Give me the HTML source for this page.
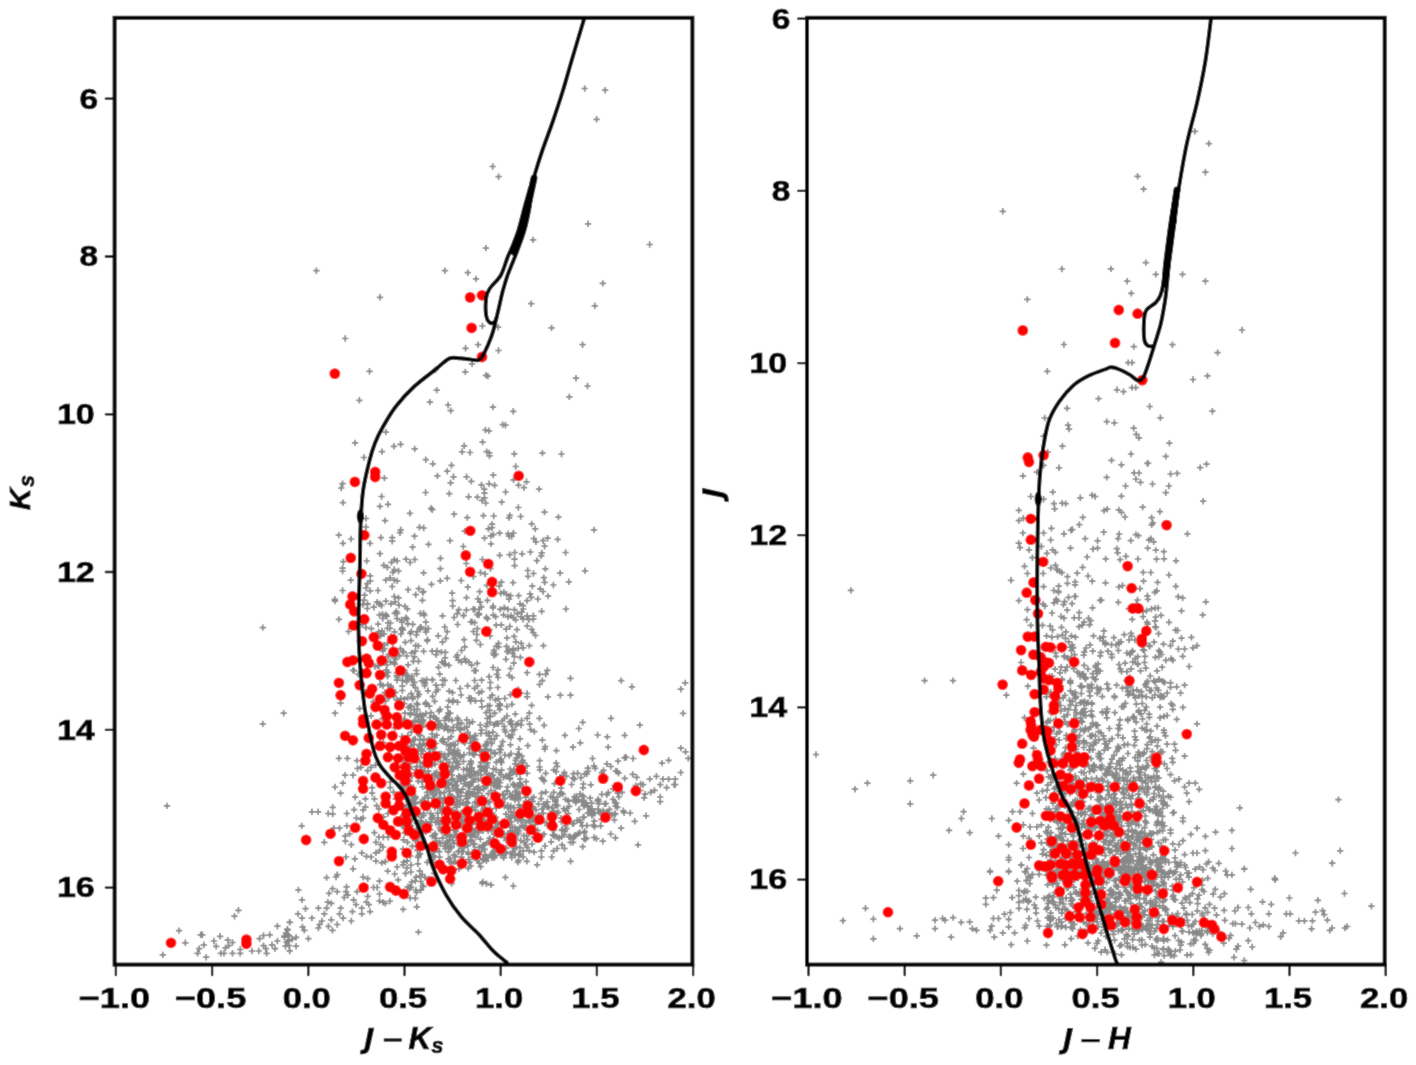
<!DOCTYPE html>
<html><head><meta charset="utf-8"><style>
html,body{margin:0;padding:0;background:#fff;}
svg{display:block;}
text{font-family:"Liberation Sans",sans-serif;font-weight:bold;font-size:29px;fill:#000;stroke:#000;stroke-width:0.7px;}
</style></head><body><div id="wrap">
<svg width="1416" height="1065" viewBox="0 0 1416 1065">
<defs><filter id="bl" x="0" y="0" width="1" height="1"><feConvolveMatrix order="3" kernelMatrix="1 2 1 2 20 2 1 2 1" divisor="32" edgeMode="duplicate"/></filter></defs>
<g filter="url(#bl)">
<rect width="1416" height="1065" fill="#fff"/>
<path d="M581.5 88.5h6.4M584.7 85.3v6.4M601.9 90.2h6.4M605.1 87.0v6.4M593.4 119.3h6.4M596.6 116.1v6.4M489.5 166.5h6.4M492.7 163.3v6.4M495.4 176.7h6.4M498.6 173.5v6.4M584.9 223.8h6.4M588.1 220.6v6.4M529.9 239.9h6.4M533.1 236.7v6.4M646.5 244.5h6.4M649.7 241.3v6.4M482.7 248.1h6.4M485.9 244.9v6.4M313.2 270.7h6.4M316.4 267.5v6.4M441.7 270.7h6.4M444.9 267.5v6.4M464.6 272.7h6.4M467.8 269.5v6.4M472.8 278.9h6.4M476.0 275.7v6.4M599.6 283.4h6.4M602.8 280.2v6.4M376.8 297.3h6.4M380.0 294.1v6.4M342.0 338.5h6.4M345.2 335.3v6.4M366.3 371.3h6.4M369.5 368.1v6.4M356.2 400.3h6.4M359.4 397.1v6.4M382.6 432.1h6.4M385.8 428.9v6.4M351.9 442.9h6.4M355.1 439.7v6.4M390.7 446.3h6.4M393.9 443.1v6.4M397.4 444.3h6.4M400.6 441.1v6.4M378.8 451.6h6.4M382.0 448.4v6.4M360.7 457.5h6.4M363.9 454.3v6.4M381.2 478.1h6.4M384.4 474.9v6.4M339.4 483.7h6.4M342.6 480.5v6.4M338.0 488.0h6.4M341.2 484.8v6.4M378.4 496.5h6.4M381.6 493.3v6.4M384.8 504.3h6.4M388.0 501.1v6.4M376.7 506.4h6.4M379.9 503.2v6.4M339.7 502.6h6.4M342.9 499.4v6.4M381.9 520.6h6.4M385.1 517.4v6.4M362.8 518.5h6.4M366.0 515.3v6.4M362.8 527.0h6.4M366.0 523.8v6.4M335.6 535.1h6.4M338.8 531.9v6.4M347.9 539.0h6.4M351.1 535.8v6.4M339.7 543.3h6.4M342.9 540.1v6.4M366.8 543.3h6.4M370.0 540.1v6.4M377.7 537.6h6.4M380.9 534.4v6.4M389.0 537.6h6.4M392.2 534.4v6.4M389.0 541.2h6.4M392.2 538.0v6.4M396.8 532.7h6.4M400.0 529.5v6.4M397.5 529.8h6.4M400.7 526.6v6.4M376.7 553.7h6.4M379.9 550.5v6.4M363.5 561.0h6.4M366.7 557.8v6.4M340.1 561.7h6.4M343.3 558.5v6.4M339.4 568.1h6.4M342.6 564.9v6.4M339.4 571.0h6.4M342.6 567.8v6.4M391.1 559.6h6.4M394.3 556.4v6.4M394.0 561.0h6.4M397.2 557.8v6.4M388.3 562.4h6.4M391.5 559.2v6.4M380.5 565.3h6.4M383.7 562.1v6.4M384.1 567.4h6.4M387.3 564.2v6.4M391.1 569.5h6.4M394.3 566.3v6.4M389.7 572.4h6.4M392.9 569.2v6.4M395.4 571.0h6.4M398.6 567.8v6.4M367.0 575.9h6.4M370.2 572.7v6.4M367.0 580.9h6.4M370.2 577.7v6.4M364.2 583.7h6.4M367.4 580.5v6.4M362.8 588.0h6.4M366.0 584.8v6.4M367.0 590.8h6.4M370.2 587.6v6.4M382.6 580.2h6.4M385.8 577.0v6.4M386.9 578.0h6.4M390.1 574.8v6.4M391.1 580.2h6.4M394.3 577.0v6.4M394.0 580.9h6.4M397.2 577.7v6.4M389.0 586.5h6.4M392.2 583.3v6.4M347.6 580.2h6.4M350.8 577.0v6.4M374.8 590.5h6.4M378.0 587.3v6.4M339.4 590.5h6.4M342.6 587.3v6.4M331.6 599.3h6.4M334.8 596.1v6.4M391.1 596.5h6.4M394.3 593.3v6.4M395.4 597.9h6.4M398.6 594.7v6.4M361.4 595.1h6.4M364.6 591.9v6.4M331.8 601.1h6.4M335.0 597.9v6.4M335.7 619.4h6.4M338.9 616.2v6.4M345.3 631.5h6.4M348.5 628.3v6.4M349.8 670.4h6.4M353.0 667.2v6.4M337.4 703.1h6.4M340.6 699.9v6.4M331.8 713.2h6.4M335.0 710.0v6.4M280.5 713.2h6.4M283.7 710.0v6.4M523.9 600.6h6.4M527.1 597.4v6.4M519.9 605.6h6.4M523.1 602.4v6.4M519.9 609.0h6.4M523.1 605.8v6.4M538.5 611.3h6.4M541.7 608.1v6.4M562.7 609.0h6.4M565.9 605.8v6.4M523.9 615.8h6.4M527.1 612.6v6.4M530.1 615.8h6.4M533.3 612.6v6.4M519.9 619.2h6.4M523.1 616.0v6.4M525.6 619.7h6.4M528.8 616.5v6.4M530.1 619.2h6.4M533.3 616.0v6.4M523.9 625.9h6.4M527.1 622.7v6.4M528.4 629.3h6.4M531.6 626.1v6.4M530.1 632.7h6.4M533.3 629.5v6.4M532.3 635.5h6.4M535.5 632.3v6.4M526.1 645.6h6.4M529.3 642.4v6.4M540.2 645.6h6.4M543.4 642.4v6.4M519.9 647.9h6.4M523.1 644.7v6.4M523.9 672.7h6.4M527.1 669.5v6.4M536.3 674.4h6.4M539.5 671.2v6.4M544.2 670.4h6.4M547.4 667.2v6.4M542.5 674.4h6.4M545.7 671.2v6.4M539.1 680.6h6.4M542.3 677.4v6.4M536.3 684.5h6.4M539.5 681.3v6.4M567.3 678.3h6.4M570.5 675.1v6.4M618.0 680.6h6.4M621.2 677.4v6.4M628.7 686.8h6.4M631.9 683.6v6.4M523.9 693.5h6.4M527.1 690.3v6.4M523.9 696.9h6.4M527.1 693.7v6.4M544.7 696.9h6.4M547.9 693.7v6.4M557.1 695.2h6.4M560.3 692.0v6.4M567.3 695.2h6.4M570.5 692.0v6.4M528.4 705.4h6.4M531.6 702.2v6.4M526.1 713.2h6.4M529.3 710.0v6.4M523.9 718.3h6.4M527.1 715.1v6.4M536.3 718.3h6.4M539.5 715.1v6.4M607.8 718.3h6.4M611.0 715.1v6.4M335.7 758.3h6.4M338.9 755.1v6.4M344.2 758.3h6.4M347.4 755.1v6.4M353.7 760.6h6.4M356.9 757.4v6.4M354.3 768.5h6.4M357.5 765.3v6.4M357.7 767.3h6.4M360.9 764.1v6.4M341.9 775.2h6.4M345.1 772.0v6.4M349.8 775.2h6.4M353.0 772.0v6.4M339.6 783.1h6.4M342.8 779.9v6.4M331.8 787.0h6.4M335.0 783.8v6.4M337.4 793.2h6.4M340.6 790.0v6.4M352.0 797.2h6.4M355.2 794.0v6.4M356.5 803.4h6.4M359.7 800.2v6.4M362.2 798.9h6.4M365.4 795.7v6.4M362.2 806.8h6.4M365.4 803.6v6.4M359.9 810.1h6.4M363.1 806.9v6.4M350.9 809.6h6.4M354.1 806.4v6.4M329.5 807.3h6.4M332.7 804.1v6.4M308.7 811.8h6.4M311.9 808.6v6.4M314.9 811.8h6.4M318.1 808.6v6.4M325.0 813.5h6.4M328.2 810.3v6.4M329.5 814.1h6.4M332.7 810.9v6.4M343.6 813.5h6.4M346.8 810.3v6.4M353.2 818.0h6.4M356.4 814.8v6.4M357.7 819.2h6.4M360.9 816.0v6.4M359.9 818.0h6.4M363.1 814.8v6.4M298.5 825.9h6.4M301.7 822.7v6.4M343.6 825.9h6.4M346.8 822.7v6.4M336.3 828.2h6.4M339.5 825.0v6.4M330.6 828.2h6.4M333.8 825.0v6.4M341.9 836.1h6.4M345.1 832.9v6.4M346.4 833.8h6.4M349.6 830.6v6.4M367.8 767.3h6.4M371.0 764.1v6.4M372.3 765.1h6.4M375.5 761.9v6.4M368.9 787.6h6.4M372.1 784.4v6.4M368.9 793.2h6.4M372.1 790.0v6.4M371.2 798.9h6.4M374.4 795.7v6.4M373.4 805.6h6.4M376.6 802.4v6.4M375.7 809.0h6.4M378.9 805.8v6.4M387.0 787.6h6.4M390.2 784.4v6.4M390.3 792.1h6.4M393.5 788.9v6.4M392.6 798.9h6.4M395.8 795.7v6.4M387.0 782.0h6.4M390.2 778.8v6.4M384.7 813.5h6.4M387.9 810.3v6.4M380.2 816.9h6.4M383.4 813.7v6.4M371.2 832.7h6.4M374.4 829.5v6.4M375.7 837.2h6.4M378.9 834.0v6.4M380.2 837.2h6.4M383.4 834.0v6.4M384.7 837.2h6.4M387.9 834.0v6.4M376.8 742.5h6.4M380.0 739.3v6.4M380.2 742.5h6.4M383.4 739.3v6.4M391.5 727.9h6.4M394.7 724.7v6.4M396.0 725.6h6.4M399.2 722.4v6.4M364.4 770.7h6.4M367.6 767.5v6.4M521.2 842.4h6.4M524.4 839.2v6.4M523.7 847.3h6.4M526.9 844.1v6.4M520.0 850.9h6.4M523.2 847.7v6.4M526.1 850.9h6.4M529.3 847.7v6.4M530.9 852.1h6.4M534.1 848.9v6.4M538.2 850.9h6.4M541.4 847.7v6.4M538.2 857.0h6.4M541.4 853.8v6.4M548.6 857.0h6.4M551.8 853.8v6.4M550.4 850.9h6.4M553.6 847.7v6.4M554.0 848.5h6.4M557.2 845.3v6.4M561.3 848.5h6.4M564.5 845.3v6.4M558.9 844.9h6.4M562.1 841.7v6.4M567.4 842.4h6.4M570.6 839.2v6.4M569.8 842.4h6.4M573.0 839.2v6.4M520.0 857.0h6.4M523.2 853.8v6.4M523.7 861.3h6.4M526.9 858.1v6.4M534.0 864.9h6.4M537.2 861.7v6.4M567.4 861.3h6.4M570.6 858.1v6.4M579.5 846.7h6.4M582.7 843.5v6.4M599.6 841.2h6.4M602.8 838.0v6.4M634.8 844.9h6.4M638.0 841.7v6.4M548.0 841.8h6.4M551.2 838.6v6.4M522.8 845.0h6.4M526.0 841.8v6.4M528.8 844.0h6.4M532.0 840.8v6.4M541.8 846.0h6.4M545.0 842.8v6.4M321.1 842.3h6.4M324.3 839.1v6.4M342.2 841.2h6.4M345.4 838.0v6.4M348.1 844.7h6.4M351.3 841.5v6.4M351.6 858.8h6.4M354.8 855.6v6.4M358.6 852.9h6.4M361.8 849.7v6.4M363.3 856.4h6.4M366.5 853.2v6.4M368.0 857.0h6.4M371.2 853.8v6.4M372.7 852.9h6.4M375.9 849.7v6.4M376.3 850.6h6.4M379.5 847.4v6.4M372.7 861.1h6.4M375.9 857.9v6.4M378.6 862.9h6.4M381.8 859.7v6.4M382.1 861.7h6.4M385.3 858.5v6.4M372.7 842.3h6.4M375.9 839.1v6.4M377.4 844.7h6.4M380.6 841.5v6.4M379.8 847.0h6.4M383.0 843.8v6.4M342.8 857.0h6.4M346.0 853.8v6.4M349.8 868.8h6.4M353.0 865.6v6.4M334.0 874.6h6.4M337.2 871.4v6.4M332.8 877.0h6.4M336.0 873.8v6.4M323.4 877.6h6.4M326.6 874.4v6.4M359.8 877.0h6.4M363.0 873.8v6.4M364.5 878.7h6.4M367.7 875.5v6.4M376.3 881.1h6.4M379.5 877.9v6.4M384.5 871.1h6.4M387.7 867.9v6.4M391.5 874.0h6.4M394.7 870.8v6.4M393.9 867.0h6.4M397.1 863.8v6.4M395.0 879.9h6.4M398.2 876.7v6.4M295.2 889.9h6.4M298.4 886.7v6.4M329.3 888.7h6.4M332.5 885.5v6.4M334.0 891.6h6.4M337.2 888.4v6.4M325.8 893.4h6.4M329.0 890.2v6.4M324.6 902.2h6.4M327.8 899.0v6.4M328.1 903.4h6.4M331.3 900.2v6.4M343.4 886.9h6.4M346.6 883.7v6.4M342.8 891.6h6.4M346.0 888.4v6.4M341.0 897.5h6.4M344.2 894.3v6.4M344.6 895.2h6.4M347.8 892.0v6.4M353.9 891.6h6.4M357.1 888.4v6.4M370.4 887.5h6.4M373.6 884.3v6.4M373.9 887.5h6.4M377.1 884.3v6.4M364.5 896.3h6.4M367.7 893.1v6.4M363.3 902.2h6.4M366.5 899.0v6.4M365.7 904.6h6.4M368.9 901.4v6.4M350.4 899.9h6.4M353.6 896.7v6.4M352.8 904.6h6.4M356.0 901.4v6.4M358.6 908.1h6.4M361.8 904.9v6.4M358.6 913.9h6.4M361.8 910.7v6.4M366.9 911.6h6.4M370.1 908.4v6.4M349.2 911.6h6.4M352.4 908.4v6.4M376.3 894.0h6.4M379.5 890.8v6.4M376.3 901.0h6.4M379.5 897.8v6.4M379.8 902.2h6.4M383.0 899.0v6.4M382.1 903.4h6.4M385.3 900.2v6.4M386.8 901.0h6.4M390.0 897.8v6.4M298.8 899.9h6.4M302.0 896.7v6.4M302.3 908.7h6.4M305.5 905.5v6.4M315.2 908.1h6.4M318.4 904.9v6.4M323.4 908.1h6.4M326.6 904.9v6.4M337.5 908.1h6.4M340.7 904.9v6.4M294.7 913.9h6.4M297.9 910.7v6.4M298.8 918.1h6.4M302.0 914.9v6.4M308.7 918.1h6.4M311.9 914.9v6.4M321.1 913.9h6.4M324.3 910.7v6.4M318.7 921.0h6.4M321.9 917.8v6.4M328.1 919.8h6.4M331.3 916.6v6.4M336.3 913.9h6.4M339.5 910.7v6.4M339.9 918.1h6.4M343.1 914.9v6.4M334.0 924.5h6.4M337.2 921.3v6.4M348.1 921.0h6.4M351.3 917.8v6.4M286.4 922.2h6.4M289.6 919.0v6.4M284.1 929.2h6.4M287.3 926.0v6.4M281.1 936.2h6.4M284.3 933.0v6.4M285.8 936.2h6.4M289.0 933.0v6.4M283.5 942.1h6.4M286.7 938.9v6.4M282.3 946.2h6.4M285.5 943.0v6.4M292.9 937.4h6.4M296.1 934.2v6.4M292.9 946.2h6.4M296.1 943.0v6.4M299.3 926.9h6.4M302.5 923.7v6.4M301.1 930.4h6.4M304.3 927.2v6.4M305.2 938.6h6.4M308.4 935.4v6.4M315.2 928.0h6.4M318.4 924.8v6.4M316.4 924.5h6.4M319.6 921.3v6.4M325.2 926.3h6.4M328.4 923.1v6.4M329.3 930.4h6.4M332.5 927.2v6.4M286.4 950.9h6.4M289.6 947.7v6.4M163.8 805.9h6.4M167.0 802.7v6.4M235.2 910.3h6.4M238.4 907.1v6.4M231.3 916.2h6.4M234.5 913.0v6.4M175.9 930.6h6.4M179.1 927.4v6.4M182.1 942.8h6.4M185.3 939.6v6.4M159.6 954.9h6.4M162.8 951.7v6.4M197.5 934.8h6.4M200.7 931.6v6.4M199.1 934.8h6.4M202.3 931.6v6.4M200.6 944.8h6.4M203.8 941.6v6.4M196.0 948.7h6.4M199.2 945.5v6.4M194.4 953.3h6.4M197.6 950.1v6.4M203.0 957.2h6.4M206.2 954.0v6.4M210.7 941.0h6.4M213.9 937.8v6.4M216.9 936.3h6.4M220.1 933.1v6.4M213.0 946.4h6.4M216.2 943.2v6.4M224.6 940.2h6.4M227.8 937.0v6.4M229.3 942.5h6.4M232.5 939.3v6.4M222.3 947.9h6.4M225.5 944.7v6.4M217.7 953.3h6.4M220.9 950.1v6.4M220.8 953.3h6.4M224.0 950.1v6.4M229.3 953.3h6.4M232.5 950.1v6.4M225.4 945.6h6.4M228.6 942.4v6.4M237.0 949.5h6.4M240.2 946.3v6.4M237.0 953.3h6.4M240.2 950.1v6.4M248.7 951.0h6.4M251.9 947.8v6.4M255.6 951.0h6.4M258.8 947.8v6.4M260.3 945.6h6.4M263.5 942.4v6.4M262.6 948.7h6.4M265.8 945.5v6.4M263.4 953.3h6.4M266.6 950.1v6.4M256.4 938.6h6.4M259.6 935.4v6.4M260.3 935.5h6.4M263.5 932.3v6.4M266.5 934.8h6.4M269.7 931.6v6.4M274.2 926.2h6.4M277.4 923.0v6.4M286.6 922.4h6.4M289.8 919.2v6.4M284.3 930.1h6.4M287.5 926.9v6.4M285.1 934.8h6.4M288.3 931.6v6.4M281.2 937.1h6.4M284.4 933.9v6.4M285.1 941.0h6.4M288.3 937.8v6.4M285.8 945.6h6.4M289.0 942.4v6.4M274.2 941.0h6.4M277.4 937.8v6.4M271.9 948.7h6.4M275.1 945.5v6.4M286.6 951.0h6.4M289.8 947.8v6.4M268.8 944.8h6.4M272.0 941.6v6.4M282.7 933.2h6.4M285.9 930.0v6.4M288.9 939.4h6.4M292.1 936.2v6.4M259.6 627.6h6.4M262.8 624.4v6.4M259.6 723.9h6.4M262.8 720.7v6.4M528.0 303.7h6.4M531.2 300.5v6.4M591.6 305.8h6.4M594.8 302.6v6.4M479.2 326.0h6.4M482.4 322.8v6.4M494.9 327.2h6.4M498.1 324.0v6.4M548.4 327.9h6.4M551.6 324.7v6.4M474.9 344.7h6.4M478.1 341.5v6.4M462.4 348.3h6.4M465.6 345.1v6.4M495.3 350.5h6.4M498.5 347.3v6.4M579.4 344.7h6.4M582.6 341.5v6.4M682.0 682.9h6.4M685.2 679.7v6.4M677.6 689.2h6.4M680.8 686.0v6.4M679.9 713.3h6.4M683.1 710.1v6.4M677.6 748.1h6.4M680.8 744.9v6.4M682.3 751.8h6.4M685.5 748.6v6.4M685.1 758.4h6.4M688.3 755.2v6.4M665.4 760.3h6.4M668.6 757.1v6.4M658.8 763.1h6.4M662.0 759.9v6.4M677.6 772.5h6.4M680.8 769.3v6.4M653.2 776.3h6.4M656.4 773.1v6.4M646.6 779.1h6.4M649.8 775.9v6.4M659.8 779.1h6.4M663.0 775.9v6.4M665.4 779.1h6.4M668.6 775.9v6.4M672.0 779.1h6.4M675.2 775.9v6.4M657.0 784.7h6.4M660.2 781.5v6.4M663.5 787.6h6.4M666.7 784.4v6.4M671.0 784.7h6.4M674.2 781.5v6.4M651.3 790.4h6.4M654.5 787.2v6.4M647.6 792.3h6.4M650.8 789.1v6.4M641.9 794.1h6.4M645.1 790.9v6.4M657.0 797.0h6.4M660.2 793.8v6.4M657.0 801.7h6.4M660.2 798.5v6.4M641.0 797.9h6.4M644.2 794.7v6.4M642.9 815.8h6.4M646.1 812.6v6.4M640.0 784.7h6.4M643.2 781.5v6.4M672.0 784.7h6.4M675.2 781.5v6.4M360.8 600.2h6.4M364.0 597.0v6.4M370.6 607.2h6.4M373.8 604.0v6.4M359.6 604.6h6.4M362.8 601.4v6.4M364.4 603.9h6.4M367.6 600.7v6.4M353.8 610.4h6.4M357.0 607.2v6.4M364.3 604.2h6.4M367.5 601.0v6.4M364.1 608.5h6.4M367.3 605.3v6.4M373.8 602.2h6.4M377.0 599.0v6.4M374.3 633.9h6.4M377.5 630.7v6.4M362.9 627.6h6.4M366.1 624.4v6.4M368.1 628.6h6.4M371.3 625.4v6.4M359.0 624.6h6.4M362.2 621.4v6.4M358.9 671.2h6.4M362.1 668.0v6.4M374.3 665.9h6.4M377.5 662.7v6.4M350.9 670.6h6.4M354.1 667.4v6.4M371.7 666.5h6.4M374.9 663.3v6.4M355.1 674.4h6.4M358.3 671.2v6.4M360.7 693.3h6.4M363.9 690.1v6.4M364.7 689.7h6.4M367.9 686.5v6.4M356.4 708.6h6.4M359.6 705.4v6.4M367.8 715.8h6.4M371.0 712.6v6.4M370.2 701.6h6.4M373.4 698.4v6.4M395.8 605.2h6.4M399.0 602.0v6.4M394.0 613.3h6.4M397.2 610.1v6.4M379.3 614.1h6.4M382.5 610.9v6.4M387.2 623.0h6.4M390.4 619.8v6.4M375.8 603.9h6.4M379.0 600.7v6.4M398.4 620.0h6.4M401.6 616.8v6.4M378.4 605.5h6.4M381.6 602.3v6.4M387.7 603.8h6.4M390.9 600.6v6.4M382.6 601.2h6.4M385.8 598.0v6.4M391.9 601.9h6.4M395.1 598.7v6.4M398.7 622.1h6.4M401.9 618.9v6.4M393.7 618.5h6.4M396.9 615.3v6.4M383.6 616.3h6.4M386.8 613.1v6.4M393.1 611.5h6.4M396.3 608.3v6.4M376.3 615.0h6.4M379.5 611.8v6.4M382.6 614.6h6.4M385.8 611.4v6.4M384.9 622.9h6.4M388.1 619.7v6.4M379.6 618.5h6.4M382.8 615.3v6.4M391.6 613.4h6.4M394.8 610.2v6.4M376.7 604.0h6.4M379.9 600.8v6.4M398.0 629.5h6.4M401.2 626.3v6.4M378.7 630.9h6.4M381.9 627.7v6.4M387.7 636.5h6.4M390.9 633.3v6.4M374.9 624.1h6.4M378.1 620.9v6.4M386.7 628.4h6.4M389.9 625.2v6.4M389.4 643.2h6.4M392.6 640.0v6.4M377.1 636.1h6.4M380.3 632.9v6.4M384.5 643.0h6.4M387.7 639.8v6.4M397.7 634.0h6.4M400.9 630.8v6.4M380.6 645.1h6.4M383.8 641.9v6.4M375.5 631.9h6.4M378.7 628.7v6.4M384.3 628.3h6.4M387.5 625.1v6.4M391.1 636.4h6.4M394.3 633.2v6.4M380.8 633.9h6.4M384.0 630.7v6.4M391.4 631.8h6.4M394.6 628.6v6.4M376.4 635.1h6.4M379.6 631.9v6.4M379.5 662.9h6.4M382.7 659.7v6.4M379.6 651.2h6.4M382.8 648.0v6.4M396.3 655.9h6.4M399.5 652.7v6.4M381.8 660.9h6.4M385.0 657.7v6.4M391.4 664.1h6.4M394.6 660.9v6.4M394.0 654.2h6.4M397.2 651.0v6.4M385.0 656.7h6.4M388.2 653.5v6.4M387.2 661.8h6.4M390.4 658.6v6.4M389.9 649.6h6.4M393.1 646.4v6.4M383.7 665.0h6.4M386.9 661.8v6.4M375.6 665.9h6.4M378.8 662.7v6.4M391.3 657.6h6.4M394.5 654.4v6.4M385.6 654.3h6.4M388.8 651.1v6.4M392.5 659.5h6.4M395.7 656.3v6.4M381.2 648.7h6.4M384.4 645.5v6.4M383.1 670.1h6.4M386.3 666.9v6.4M391.0 663.0h6.4M394.2 659.8v6.4M397.2 648.7h6.4M400.4 645.5v6.4M389.3 652.5h6.4M392.5 649.3v6.4M384.3 676.4h6.4M387.5 673.2v6.4M383.2 693.6h6.4M386.4 690.4v6.4M392.2 692.3h6.4M395.4 689.1v6.4M376.6 679.2h6.4M379.8 676.0v6.4M393.6 673.0h6.4M396.8 669.8v6.4M379.4 674.0h6.4M382.6 670.8v6.4M394.4 677.6h6.4M397.6 674.4v6.4M385.0 672.3h6.4M388.2 669.1v6.4M377.5 684.3h6.4M380.7 681.1v6.4M393.8 680.2h6.4M397.0 677.0v6.4M382.5 673.0h6.4M385.7 669.8v6.4M377.2 675.6h6.4M380.4 672.4v6.4M379.8 685.7h6.4M383.0 682.5v6.4M383.4 695.5h6.4M386.6 692.3v6.4M381.6 692.6h6.4M384.8 689.4v6.4M377.0 684.7h6.4M380.2 681.5v6.4M388.0 687.8h6.4M391.2 684.6v6.4M384.6 684.6h6.4M387.8 681.4v6.4M393.5 675.6h6.4M396.7 672.4v6.4M387.6 686.1h6.4M390.8 682.9v6.4M393.6 699.9h6.4M396.8 696.7v6.4M384.8 696.6h6.4M388.0 693.4v6.4M390.7 716.8h6.4M393.9 713.6v6.4M383.3 715.6h6.4M386.5 712.4v6.4M390.6 696.4h6.4M393.8 693.2v6.4M386.1 697.1h6.4M389.3 693.9v6.4M382.3 715.2h6.4M385.5 712.0v6.4M377.8 709.6h6.4M381.0 706.4v6.4M376.2 698.6h6.4M379.4 695.4v6.4M397.7 698.3h6.4M400.9 695.1v6.4M379.0 718.6h6.4M382.2 715.4v6.4M382.2 701.2h6.4M385.4 698.0v6.4M377.1 708.0h6.4M380.3 704.8v6.4M376.2 701.3h6.4M379.4 698.1v6.4M380.1 713.9h6.4M383.3 710.7v6.4M378.7 710.1h6.4M381.9 706.9v6.4M404.6 623.9h6.4M407.8 620.7v6.4M422.6 622.2h6.4M425.8 619.0v6.4M420.4 613.3h6.4M423.6 610.1v6.4M421.1 615.4h6.4M424.3 612.2v6.4M402.6 617.6h6.4M405.8 614.4v6.4M419.2 600.3h6.4M422.4 597.1v6.4M403.5 618.8h6.4M406.7 615.6v6.4M417.2 613.5h6.4M420.4 610.3v6.4M401.7 606.4h6.4M404.9 603.2v6.4M404.5 623.5h6.4M407.7 620.3v6.4M404.2 608.9h6.4M407.4 605.7v6.4M439.3 615.9h6.4M442.5 612.7v6.4M460.3 615.6h6.4M463.5 612.4v6.4M467.6 621.9h6.4M470.8 618.7v6.4M449.4 600.7h6.4M452.6 597.5v6.4M468.7 621.8h6.4M471.9 618.6v6.4M455.6 609.6h6.4M458.8 606.4v6.4M463.2 610.1h6.4M466.4 606.9v6.4M449.5 606.0h6.4M452.7 602.8v6.4M454.1 613.6h6.4M457.3 610.4v6.4M450.9 617.5h6.4M454.1 614.3v6.4M470.1 609.2h6.4M473.3 606.0v6.4M460.5 615.3h6.4M463.7 612.1v6.4M490.0 615.1h6.4M493.2 611.9v6.4M483.2 617.3h6.4M486.4 614.1v6.4M471.4 622.6h6.4M474.6 619.4v6.4M492.4 616.7h6.4M495.6 613.5v6.4M475.6 615.0h6.4M478.8 611.8v6.4M471.5 609.5h6.4M474.7 606.3v6.4M476.0 613.5h6.4M479.2 610.3v6.4M476.8 602.2h6.4M480.0 599.0v6.4M489.9 606.0h6.4M493.1 602.8v6.4M484.2 600.4h6.4M487.4 597.2v6.4M484.3 618.9h6.4M487.5 615.7v6.4M489.6 607.9h6.4M492.8 604.7v6.4M473.9 614.6h6.4M477.1 611.4v6.4M478.2 606.9h6.4M481.4 603.7v6.4M475.8 609.4h6.4M479.0 606.2v6.4M511.2 609.6h6.4M514.4 606.4v6.4M510.3 617.5h6.4M513.5 614.3v6.4M514.2 613.7h6.4M517.4 610.5v6.4M518.6 612.0h6.4M521.8 608.8v6.4M507.7 615.8h6.4M510.9 612.6v6.4M518.1 616.8h6.4M521.3 613.6v6.4M516.8 603.8h6.4M520.0 600.6v6.4M504.9 616.9h6.4M508.1 613.7v6.4M512.4 619.9h6.4M515.6 616.7v6.4M501.2 607.6h6.4M504.4 604.4v6.4M504.7 609.4h6.4M507.9 606.2v6.4M497.0 609.4h6.4M500.2 606.2v6.4M510.2 617.7h6.4M513.4 614.5v6.4M500.3 614.9h6.4M503.5 611.7v6.4M416.8 627.7h6.4M420.0 624.5v6.4M399.1 627.8h6.4M402.3 624.6v6.4M415.1 645.9h6.4M418.3 642.7v6.4M408.1 631.5h6.4M411.3 628.3v6.4M413.9 631.6h6.4M417.1 628.4v6.4M399.7 629.9h6.4M402.9 626.7v6.4M413.2 635.0h6.4M416.4 631.8v6.4M407.1 633.4h6.4M410.3 630.2v6.4M402.1 642.4h6.4M405.3 639.2v6.4M407.8 640.6h6.4M411.0 637.4v6.4M412.4 645.6h6.4M415.6 642.4v6.4M417.9 627.2h6.4M421.1 624.0v6.4M409.6 624.3h6.4M412.8 621.1v6.4M416.9 629.5h6.4M420.1 626.3v6.4M422.2 629.4h6.4M425.4 626.2v6.4M435.0 635.8h6.4M438.2 632.6v6.4M442.7 638.3h6.4M445.9 635.1v6.4M443.9 631.7h6.4M447.1 628.5v6.4M425.1 628.5h6.4M428.3 625.3v6.4M423.9 641.0h6.4M427.1 637.8v6.4M439.3 642.1h6.4M442.5 638.9v6.4M441.5 627.0h6.4M444.7 623.8v6.4M424.3 639.8h6.4M427.5 636.6v6.4M422.8 632.1h6.4M426.0 628.9v6.4M460.9 639.7h6.4M464.1 636.5v6.4M461.6 646.8h6.4M464.8 643.6v6.4M470.2 631.5h6.4M473.4 628.3v6.4M454.4 624.5h6.4M457.6 621.3v6.4M473.7 634.5h6.4M476.9 631.3v6.4M486.2 629.7h6.4M489.4 626.5v6.4M473.2 640.4h6.4M476.4 637.2v6.4M486.9 636.0h6.4M490.1 632.8v6.4M474.2 628.7h6.4M477.4 625.5v6.4M477.2 644.5h6.4M480.4 641.3v6.4M493.0 625.1h6.4M496.2 621.9v6.4M493.3 645.9h6.4M496.5 642.7v6.4M513.8 629.6h6.4M517.0 626.4v6.4M518.0 643.4h6.4M521.2 640.2v6.4M498.1 624.9h6.4M501.3 621.7v6.4M503.9 637.9h6.4M507.1 634.7v6.4M495.4 646.9h6.4M498.6 643.7v6.4M510.9 636.4h6.4M514.1 633.2v6.4M506.6 626.5h6.4M509.8 623.3v6.4M512.7 641.8h6.4M515.9 638.6v6.4M495.3 643.4h6.4M498.5 640.2v6.4M503.3 646.4h6.4M506.5 643.2v6.4M503.0 629.1h6.4M506.2 625.9v6.4M403.5 656.0h6.4M406.7 652.8v6.4M400.5 651.9h6.4M403.7 648.7v6.4M410.1 661.3h6.4M413.3 658.1v6.4M412.2 651.2h6.4M415.4 648.0v6.4M399.4 651.5h6.4M402.6 648.3v6.4M420.4 651.3h6.4M423.6 648.1v6.4M415.2 661.3h6.4M418.4 658.1v6.4M413.2 670.5h6.4M416.4 667.3v6.4M404.9 664.9h6.4M408.1 661.7v6.4M411.2 656.8h6.4M414.4 653.6v6.4M408.4 652.9h6.4M411.6 649.7v6.4M401.2 670.1h6.4M404.4 666.9v6.4M438.2 652.1h6.4M441.4 648.9v6.4M442.1 652.4h6.4M445.3 649.2v6.4M438.7 662.1h6.4M441.9 658.9v6.4M441.9 657.9h6.4M445.1 654.7v6.4M445.7 665.3h6.4M448.9 662.1v6.4M433.6 650.9h6.4M436.8 647.7v6.4M429.0 651.2h6.4M432.2 648.0v6.4M435.3 667.3h6.4M438.5 664.1v6.4M440.6 663.3h6.4M443.8 660.1v6.4M433.0 654.7h6.4M436.2 651.5v6.4M442.1 664.1h6.4M445.3 660.9v6.4M462.7 661.4h6.4M465.9 658.2v6.4M465.8 662.1h6.4M469.0 658.9v6.4M453.1 657.0h6.4M456.3 653.8v6.4M454.2 655.0h6.4M457.4 651.8v6.4M468.4 665.1h6.4M471.6 661.9v6.4M461.5 658.8h6.4M464.7 655.6v6.4M458.4 650.5h6.4M461.6 647.3v6.4M458.2 662.1h6.4M461.4 658.9v6.4M455.2 660.2h6.4M458.4 657.0v6.4M494.8 669.9h6.4M498.0 666.7v6.4M472.6 670.7h6.4M475.8 667.5v6.4M489.9 667.5h6.4M493.1 664.3v6.4M490.1 653.0h6.4M493.3 649.8v6.4M474.0 663.4h6.4M477.2 660.2v6.4M490.7 650.4h6.4M493.9 647.2v6.4M471.1 670.7h6.4M474.3 667.5v6.4M492.6 654.3h6.4M495.8 651.1v6.4M490.7 655.2h6.4M493.9 652.0v6.4M515.0 648.3h6.4M518.2 645.1v6.4M509.4 653.4h6.4M512.6 650.2v6.4M510.1 648.6h6.4M513.3 645.4v6.4M510.3 650.4h6.4M513.5 647.2v6.4M505.4 649.7h6.4M508.6 646.5v6.4M504.0 651.7h6.4M507.2 648.5v6.4M502.7 659.3h6.4M505.9 656.1v6.4M510.6 663.2h6.4M513.8 660.0v6.4M507.4 668.5h6.4M510.6 665.3v6.4M504.7 651.5h6.4M507.9 648.3v6.4M511.2 656.6h6.4M514.4 653.4v6.4M517.2 657.4h6.4M520.4 654.2v6.4M399.1 680.3h6.4M402.3 677.1v6.4M421.8 683.5h6.4M425.0 680.3v6.4M418.5 680.8h6.4M421.7 677.6v6.4M413.4 673.8h6.4M416.6 670.6v6.4M403.7 674.5h6.4M406.9 671.3v6.4M408.5 679.8h6.4M411.7 676.6v6.4M412.2 687.6h6.4M415.4 684.4v6.4M404.6 678.4h6.4M407.8 675.2v6.4M399.4 674.9h6.4M402.6 671.7v6.4M408.0 693.6h6.4M411.2 690.4v6.4M403.3 681.8h6.4M406.5 678.6v6.4M399.1 686.1h6.4M402.3 682.9v6.4M408.9 679.9h6.4M412.1 676.7v6.4M408.2 678.5h6.4M411.4 675.3v6.4M408.6 676.4h6.4M411.8 673.2v6.4M415.9 694.4h6.4M419.1 691.2v6.4M420.6 680.8h6.4M423.8 677.6v6.4M399.1 690.5h6.4M402.3 687.3v6.4M409.9 685.1h6.4M413.1 681.9v6.4M414.5 691.5h6.4M417.7 688.3v6.4M411.2 682.4h6.4M414.4 679.2v6.4M402.0 673.0h6.4M405.2 669.8v6.4M402.8 675.7h6.4M406.0 672.5v6.4M421.4 685.6h6.4M424.6 682.4v6.4M423.5 679.6h6.4M426.7 676.4v6.4M432.7 692.0h6.4M435.9 688.8v6.4M432.7 685.1h6.4M435.9 681.9v6.4M429.1 679.8h6.4M432.3 676.6v6.4M424.7 690.8h6.4M427.9 687.6v6.4M434.5 689.6h6.4M437.7 686.4v6.4M436.5 674.1h6.4M439.7 670.9v6.4M429.3 679.7h6.4M432.5 676.5v6.4M441.6 680.3h6.4M444.8 677.1v6.4M446.0 691.1h6.4M449.2 687.9v6.4M439.4 684.8h6.4M442.6 681.6v6.4M439.4 680.1h6.4M442.6 676.9v6.4M449.3 692.6h6.4M452.5 689.4v6.4M457.8 695.0h6.4M461.0 691.8v6.4M464.4 685.8h6.4M467.6 682.6v6.4M457.0 688.5h6.4M460.2 685.3v6.4M452.6 680.5h6.4M455.8 677.3v6.4M478.5 691.6h6.4M481.7 688.4v6.4M493.6 674.3h6.4M496.8 671.1v6.4M471.4 680.5h6.4M474.6 677.3v6.4M487.2 682.5h6.4M490.4 679.3v6.4M489.0 695.2h6.4M492.2 692.0v6.4M486.8 688.0h6.4M490.0 684.8v6.4M474.2 686.0h6.4M477.4 682.8v6.4M485.9 676.7h6.4M489.1 673.5v6.4M471.4 688.3h6.4M474.6 685.1v6.4M494.6 687.5h6.4M497.8 684.3v6.4M475.6 692.9h6.4M478.8 689.7v6.4M478.4 680.2h6.4M481.6 677.0v6.4M514.3 691.1h6.4M517.5 687.9v6.4M517.1 693.2h6.4M520.3 690.0v6.4M494.9 677.5h6.4M498.1 674.3v6.4M508.8 677.6h6.4M512.0 674.4v6.4M515.2 689.7h6.4M518.4 686.5v6.4M512.9 694.7h6.4M516.1 691.5v6.4M511.8 695.1h6.4M515.0 691.9v6.4M506.0 675.3h6.4M509.2 672.1v6.4M507.2 694.8h6.4M510.4 691.6v6.4M413.5 703.7h6.4M416.7 700.5v6.4M401.2 699.2h6.4M404.4 696.0v6.4M401.7 713.1h6.4M404.9 709.9v6.4M406.7 706.4h6.4M409.9 703.2v6.4M422.2 704.0h6.4M425.4 700.8v6.4M414.5 704.4h6.4M417.7 701.2v6.4M408.1 706.2h6.4M411.3 703.0v6.4M409.5 698.8h6.4M412.7 695.6v6.4M414.2 709.3h6.4M417.4 706.1v6.4M401.5 719.4h6.4M404.7 716.2v6.4M422.5 702.6h6.4M425.7 699.4v6.4M407.0 714.7h6.4M410.2 711.5v6.4M410.9 709.6h6.4M414.1 706.4v6.4M417.1 714.0h6.4M420.3 710.8v6.4M405.2 707.7h6.4M408.4 704.5v6.4M418.3 717.2h6.4M421.5 714.0v6.4M419.6 715.2h6.4M422.8 712.0v6.4M414.6 696.6h6.4M417.8 693.4v6.4M407.6 713.0h6.4M410.8 709.8v6.4M404.6 697.5h6.4M407.8 694.3v6.4M413.1 714.4h6.4M416.3 711.2v6.4M422.7 713.5h6.4M425.9 710.3v6.4M409.6 696.8h6.4M412.8 693.6v6.4M415.1 717.4h6.4M418.3 714.2v6.4M411.2 709.5h6.4M414.4 706.3v6.4M401.0 703.7h6.4M404.2 700.5v6.4M413.0 715.3h6.4M416.2 712.1v6.4M430.6 716.0h6.4M433.8 712.8v6.4M436.9 709.3h6.4M440.1 706.1v6.4M427.6 712.7h6.4M430.8 709.5v6.4M426.1 706.1h6.4M429.3 702.9v6.4M444.1 716.8h6.4M447.3 713.6v6.4M445.5 700.6h6.4M448.7 697.4v6.4M444.5 707.2h6.4M447.7 704.0v6.4M426.7 717.5h6.4M429.9 714.3v6.4M445.6 719.4h6.4M448.8 716.2v6.4M431.4 701.4h6.4M434.6 698.2v6.4M445.0 713.1h6.4M448.2 709.9v6.4M445.0 713.5h6.4M448.2 710.3v6.4M446.4 713.5h6.4M449.6 710.3v6.4M442.5 718.1h6.4M445.7 714.9v6.4M433.1 718.1h6.4M436.3 714.9v6.4M432.7 719.1h6.4M435.9 715.9v6.4M435.8 711.4h6.4M439.0 708.2v6.4M423.0 704.1h6.4M426.2 700.9v6.4M429.4 696.3h6.4M432.6 693.1v6.4M454.3 702.2h6.4M457.5 699.0v6.4M449.4 702.1h6.4M452.6 698.9v6.4M467.4 701.2h6.4M470.6 698.0v6.4M463.6 719.8h6.4M466.8 716.6v6.4M447.0 713.1h6.4M450.2 709.9v6.4M450.0 700.4h6.4M453.2 697.2v6.4M454.2 718.0h6.4M457.4 714.8v6.4M467.8 698.2h6.4M471.0 695.0v6.4M465.8 698.0h6.4M469.0 694.8v6.4M455.4 720.0h6.4M458.6 716.8v6.4M467.9 698.6h6.4M471.1 695.4v6.4M484.4 706.1h6.4M487.6 702.9v6.4M487.0 716.6h6.4M490.2 713.4v6.4M484.2 718.4h6.4M487.4 715.2v6.4M492.3 699.9h6.4M495.5 696.7v6.4M472.2 700.8h6.4M475.4 697.6v6.4M483.0 712.7h6.4M486.2 709.5v6.4M491.3 713.5h6.4M494.5 710.3v6.4M486.5 710.4h6.4M489.7 707.2v6.4M486.5 705.6h6.4M489.7 702.4v6.4M486.7 716.1h6.4M489.9 712.9v6.4M491.4 713.2h6.4M494.6 710.0v6.4M487.0 697.7h6.4M490.2 694.5v6.4M478.7 706.9h6.4M481.9 703.7v6.4M478.2 700.8h6.4M481.4 697.6v6.4M503.8 716.0h6.4M507.0 712.8v6.4M501.2 718.5h6.4M504.4 715.3v6.4M495.0 706.1h6.4M498.2 702.9v6.4M512.1 714.1h6.4M515.3 710.9v6.4M495.1 698.8h6.4M498.3 695.6v6.4M496.5 709.6h6.4M499.7 706.4v6.4M497.1 705.5h6.4M500.3 702.3v6.4M501.6 698.5h6.4M504.8 695.3v6.4M503.8 706.5h6.4M507.0 703.3v6.4M508.7 704.3h6.4M511.9 701.1v6.4M496.5 703.9h6.4M499.7 700.7v6.4M415.5 720.1h6.4M418.7 716.9v6.4M411.3 720.5h6.4M414.5 717.3v6.4M419.5 724.7h6.4M422.7 721.5v6.4M411.6 722.2h6.4M414.8 719.0v6.4M411.9 739.0h6.4M415.1 735.8v6.4M420.7 739.0h6.4M423.9 735.8v6.4M420.2 720.2h6.4M423.4 717.0v6.4M418.1 721.2h6.4M421.3 718.0v6.4M419.7 743.9h6.4M422.9 740.7v6.4M416.0 734.6h6.4M419.2 731.4v6.4M416.4 722.1h6.4M419.6 718.9v6.4M419.5 722.1h6.4M422.7 718.9v6.4M404.5 726.5h6.4M407.7 723.3v6.4M415.3 729.4h6.4M418.5 726.2v6.4M408.1 732.0h6.4M411.3 728.8v6.4M416.9 740.2h6.4M420.1 737.0v6.4M419.1 726.8h6.4M422.3 723.6v6.4M400.1 722.3h6.4M403.3 719.1v6.4M401.6 737.9h6.4M404.8 734.7v6.4M400.8 738.2h6.4M404.0 735.0v6.4M398.8 736.5h6.4M402.0 733.3v6.4M404.7 735.5h6.4M407.9 732.3v6.4M417.0 735.7h6.4M420.2 732.5v6.4M400.6 720.5h6.4M403.8 717.3v6.4M408.0 741.8h6.4M411.2 738.6v6.4M409.9 726.3h6.4M413.1 723.1v6.4M410.1 739.7h6.4M413.3 736.5v6.4M427.8 723.0h6.4M431.0 719.8v6.4M444.8 730.2h6.4M448.0 727.0v6.4M433.5 727.5h6.4M436.7 724.3v6.4M428.7 740.7h6.4M431.9 737.5v6.4M442.1 726.1h6.4M445.3 722.9v6.4M440.2 742.1h6.4M443.4 738.9v6.4M432.8 743.5h6.4M436.0 740.3v6.4M425.0 740.1h6.4M428.2 736.9v6.4M443.2 726.1h6.4M446.4 722.9v6.4M429.4 726.5h6.4M432.6 723.3v6.4M426.1 739.5h6.4M429.3 736.3v6.4M439.6 738.9h6.4M442.8 735.7v6.4M438.2 726.3h6.4M441.4 723.1v6.4M424.9 726.2h6.4M428.1 723.0v6.4M441.7 720.5h6.4M444.9 717.3v6.4M435.6 727.7h6.4M438.8 724.5v6.4M429.7 728.0h6.4M432.9 724.8v6.4M437.0 724.1h6.4M440.2 720.9v6.4M426.6 740.4h6.4M429.8 737.2v6.4M440.9 728.6h6.4M444.1 725.4v6.4M428.8 734.0h6.4M432.0 730.8v6.4M445.2 738.9h6.4M448.4 735.7v6.4M433.4 735.2h6.4M436.6 732.0v6.4M431.4 737.0h6.4M434.6 733.8v6.4M435.2 720.7h6.4M438.4 717.5v6.4M439.0 740.9h6.4M442.2 737.7v6.4M434.4 723.8h6.4M437.6 720.6v6.4M454.1 724.6h6.4M457.3 721.4v6.4M467.0 737.7h6.4M470.2 734.5v6.4M453.9 727.3h6.4M457.1 724.1v6.4M449.8 730.6h6.4M453.0 727.4v6.4M470.2 738.2h6.4M473.4 735.0v6.4M469.3 721.8h6.4M472.5 718.6v6.4M469.0 741.9h6.4M472.2 738.7v6.4M466.3 723.1h6.4M469.5 719.9v6.4M467.7 743.5h6.4M470.9 740.3v6.4M464.6 732.3h6.4M467.8 729.1v6.4M455.0 741.1h6.4M458.2 737.9v6.4M461.2 727.8h6.4M464.4 724.6v6.4M448.8 720.4h6.4M452.0 717.2v6.4M463.6 727.1h6.4M466.8 723.9v6.4M450.0 727.4h6.4M453.2 724.2v6.4M457.9 740.3h6.4M461.1 737.1v6.4M458.2 723.1h6.4M461.4 719.9v6.4M466.7 736.2h6.4M469.9 733.0v6.4M459.9 741.6h6.4M463.1 738.4v6.4M456.5 729.3h6.4M459.7 726.1v6.4M448.1 736.7h6.4M451.3 733.5v6.4M461.7 742.7h6.4M464.9 739.5v6.4M447.0 729.9h6.4M450.2 726.7v6.4M457.3 730.0h6.4M460.5 726.8v6.4M471.8 739.6h6.4M475.0 736.4v6.4M471.8 735.4h6.4M475.0 732.2v6.4M478.3 730.2h6.4M481.5 727.0v6.4M490.9 724.9h6.4M494.1 721.7v6.4M483.1 726.4h6.4M486.3 723.2v6.4M485.4 733.1h6.4M488.6 729.9v6.4M486.8 722.3h6.4M490.0 719.1v6.4M486.0 735.9h6.4M489.2 732.7v6.4M472.4 743.3h6.4M475.6 740.1v6.4M491.2 739.0h6.4M494.4 735.8v6.4M489.7 732.0h6.4M492.9 728.8v6.4M492.8 723.7h6.4M496.0 720.5v6.4M488.6 743.4h6.4M491.8 740.2v6.4M472.3 735.6h6.4M475.5 732.4v6.4M494.2 723.4h6.4M497.4 720.2v6.4M484.2 741.5h6.4M487.4 738.3v6.4M477.1 725.0h6.4M480.3 721.8v6.4M488.0 739.1h6.4M491.2 735.9v6.4M493.4 735.7h6.4M496.6 732.5v6.4M472.1 739.7h6.4M475.3 736.5v6.4M477.7 733.5h6.4M480.9 730.3v6.4M488.1 743.5h6.4M491.3 740.3v6.4M484.0 723.5h6.4M487.2 720.3v6.4M483.1 733.3h6.4M486.3 730.1v6.4M512.9 724.6h6.4M516.1 721.4v6.4M508.0 721.2h6.4M511.2 718.0v6.4M518.4 720.5h6.4M521.6 717.3v6.4M507.8 724.2h6.4M511.0 721.0v6.4M501.4 729.7h6.4M504.6 726.5v6.4M500.9 726.3h6.4M504.1 723.1v6.4M502.2 732.0h6.4M505.4 728.8v6.4M517.8 725.0h6.4M521.0 721.8v6.4M498.9 721.0h6.4M502.1 717.8v6.4M516.8 738.8h6.4M520.0 735.6v6.4M514.7 723.6h6.4M517.9 720.4v6.4M505.4 736.1h6.4M508.6 732.9v6.4M507.6 737.6h6.4M510.8 734.4v6.4M499.5 741.7h6.4M502.7 738.5v6.4M509.0 734.7h6.4M512.2 731.5v6.4M508.9 730.6h6.4M512.1 727.4v6.4M495.1 723.9h6.4M498.3 720.7v6.4M506.3 722.0h6.4M509.5 718.8v6.4M509.1 724.6h6.4M512.3 721.4v6.4M511.2 729.7h6.4M514.4 726.5v6.4M414.6 750.3h6.4M417.8 747.1v6.4M401.8 759.9h6.4M405.0 756.7v6.4M418.6 749.1h6.4M421.8 745.9v6.4M399.7 764.8h6.4M402.9 761.6v6.4M416.9 762.4h6.4M420.1 759.2v6.4M417.8 754.0h6.4M421.0 750.8v6.4M421.6 763.4h6.4M424.8 760.2v6.4M416.9 766.6h6.4M420.1 763.4v6.4M420.6 757.6h6.4M423.8 754.4v6.4M400.2 758.2h6.4M403.4 755.0v6.4M410.7 744.4h6.4M413.9 741.2v6.4M406.3 763.7h6.4M409.5 760.5v6.4M413.8 766.3h6.4M417.0 763.1v6.4M416.9 748.5h6.4M420.1 745.3v6.4M415.9 745.1h6.4M419.1 741.9v6.4M419.7 751.1h6.4M422.9 747.9v6.4M422.1 745.1h6.4M425.3 741.9v6.4M416.6 746.4h6.4M419.8 743.2v6.4M419.5 763.6h6.4M422.7 760.4v6.4M411.1 757.5h6.4M414.3 754.3v6.4M404.1 752.7h6.4M407.3 749.5v6.4M402.4 753.4h6.4M405.6 750.2v6.4M402.1 759.2h6.4M405.3 756.0v6.4M410.6 752.5h6.4M413.8 749.3v6.4M407.1 766.8h6.4M410.3 763.6v6.4M421.5 767.5h6.4M424.7 764.3v6.4M407.5 746.0h6.4M410.7 742.8v6.4M426.7 764.7h6.4M429.9 761.5v6.4M431.2 747.5h6.4M434.4 744.3v6.4M445.7 749.4h6.4M448.9 746.2v6.4M436.2 753.9h6.4M439.4 750.7v6.4M426.1 752.9h6.4M429.3 749.7v6.4M441.7 757.0h6.4M444.9 753.8v6.4M443.4 744.4h6.4M446.6 741.2v6.4M425.4 754.4h6.4M428.6 751.2v6.4M438.2 753.9h6.4M441.4 750.7v6.4M429.4 763.5h6.4M432.6 760.3v6.4M443.3 759.6h6.4M446.5 756.4v6.4M426.0 761.8h6.4M429.2 758.6v6.4M437.4 761.6h6.4M440.6 758.4v6.4M440.5 757.5h6.4M443.7 754.3v6.4M432.0 764.1h6.4M435.2 760.9v6.4M445.0 766.8h6.4M448.2 763.6v6.4M430.1 749.1h6.4M433.3 745.9v6.4M427.4 760.3h6.4M430.6 757.1v6.4M445.9 749.7h6.4M449.1 746.5v6.4M433.6 757.1h6.4M436.8 753.9v6.4M432.8 757.2h6.4M436.0 754.0v6.4M431.7 758.1h6.4M434.9 754.9v6.4M446.3 762.3h6.4M449.5 759.1v6.4M445.9 754.1h6.4M449.1 750.9v6.4M426.4 748.9h6.4M429.6 745.7v6.4M428.4 762.5h6.4M431.6 759.3v6.4M428.2 757.5h6.4M431.4 754.3v6.4M445.1 754.1h6.4M448.3 750.9v6.4M428.5 765.3h6.4M431.7 762.1v6.4M446.3 745.6h6.4M449.5 742.4v6.4M442.5 767.4h6.4M445.7 764.2v6.4M429.9 752.6h6.4M433.1 749.4v6.4M427.4 749.2h6.4M430.6 746.0v6.4M441.3 754.6h6.4M444.5 751.4v6.4M454.2 752.7h6.4M457.4 749.5v6.4M468.6 767.9h6.4M471.8 764.7v6.4M454.5 750.4h6.4M457.7 747.2v6.4M453.3 762.8h6.4M456.5 759.6v6.4M468.6 748.6h6.4M471.8 745.4v6.4M449.3 752.0h6.4M452.5 748.8v6.4M466.7 764.3h6.4M469.9 761.1v6.4M469.6 754.1h6.4M472.8 750.9v6.4M447.8 745.1h6.4M451.0 741.9v6.4M466.2 753.0h6.4M469.4 749.8v6.4M450.9 750.8h6.4M454.1 747.6v6.4M449.2 766.0h6.4M452.4 762.8v6.4M457.1 756.1h6.4M460.3 752.9v6.4M451.6 756.5h6.4M454.8 753.3v6.4M452.9 766.5h6.4M456.1 763.3v6.4M467.6 761.2h6.4M470.8 758.0v6.4M460.3 761.5h6.4M463.5 758.3v6.4M448.8 752.7h6.4M452.0 749.5v6.4M467.9 763.0h6.4M471.1 759.8v6.4M454.4 753.2h6.4M457.6 750.0v6.4M450.1 744.0h6.4M453.3 740.8v6.4M469.6 748.4h6.4M472.8 745.2v6.4M466.0 748.3h6.4M469.2 745.1v6.4M457.7 757.1h6.4M460.9 753.9v6.4M451.2 750.7h6.4M454.4 747.5v6.4M450.1 744.1h6.4M453.3 740.9v6.4M455.6 764.1h6.4M458.8 760.9v6.4M452.1 754.4h6.4M455.3 751.2v6.4M456.2 756.4h6.4M459.4 753.2v6.4M451.9 745.1h6.4M455.1 741.9v6.4M454.7 767.5h6.4M457.9 764.3v6.4M460.7 754.8h6.4M463.9 751.6v6.4M453.9 761.2h6.4M457.1 758.0v6.4M450.4 758.7h6.4M453.6 755.5v6.4M482.8 745.6h6.4M486.0 742.4v6.4M482.8 752.1h6.4M486.0 748.9v6.4M471.1 754.8h6.4M474.3 751.6v6.4M475.7 746.6h6.4M478.9 743.4v6.4M487.3 757.3h6.4M490.5 754.1v6.4M480.2 760.9h6.4M483.4 757.7v6.4M491.8 752.8h6.4M495.0 749.6v6.4M483.4 765.4h6.4M486.6 762.2v6.4M477.2 754.8h6.4M480.4 751.6v6.4M482.5 752.7h6.4M485.7 749.5v6.4M484.3 762.9h6.4M487.5 759.7v6.4M491.7 753.9h6.4M494.9 750.7v6.4M477.6 762.4h6.4M480.8 759.2v6.4M487.7 750.6h6.4M490.9 747.4v6.4M481.4 749.9h6.4M484.6 746.7v6.4M483.4 749.0h6.4M486.6 745.8v6.4M472.5 750.4h6.4M475.7 747.2v6.4M472.9 751.2h6.4M476.1 748.0v6.4M478.7 751.5h6.4M481.9 748.3v6.4M493.1 762.3h6.4M496.3 759.1v6.4M477.1 765.7h6.4M480.3 762.5v6.4M482.4 744.4h6.4M485.6 741.2v6.4M482.1 746.0h6.4M485.3 742.8v6.4M477.4 767.1h6.4M480.6 763.9v6.4M483.6 767.6h6.4M486.8 764.4v6.4M481.4 752.0h6.4M484.6 748.8v6.4M476.3 749.9h6.4M479.5 746.7v6.4M513.3 758.2h6.4M516.5 755.0v6.4M515.5 755.5h6.4M518.7 752.3v6.4M515.7 765.6h6.4M518.9 762.4v6.4M496.6 760.0h6.4M499.8 756.8v6.4M496.6 752.5h6.4M499.8 749.3v6.4M497.9 759.2h6.4M501.1 756.0v6.4M497.8 746.1h6.4M501.0 742.9v6.4M512.5 760.3h6.4M515.7 757.1v6.4M515.1 765.8h6.4M518.3 762.6v6.4M511.9 763.9h6.4M515.1 760.7v6.4M501.7 755.0h6.4M504.9 751.8v6.4M507.9 753.5h6.4M511.1 750.3v6.4M505.9 755.6h6.4M509.1 752.4v6.4M507.2 744.9h6.4M510.4 741.7v6.4M498.4 762.5h6.4M501.6 759.3v6.4M515.6 749.0h6.4M518.8 745.8v6.4M497.5 749.6h6.4M500.7 746.4v6.4M515.9 754.6h6.4M519.1 751.4v6.4M518.3 755.9h6.4M521.5 752.7v6.4M497.6 762.4h6.4M500.8 759.2v6.4M497.7 760.7h6.4M500.9 757.5v6.4M518.7 761.9h6.4M521.9 758.7v6.4M514.3 754.2h6.4M517.5 751.0v6.4M496.3 749.4h6.4M499.5 746.2v6.4M419.4 786.9h6.4M422.6 783.7v6.4M412.6 772.8h6.4M415.8 769.6v6.4M410.3 787.7h6.4M413.5 784.5v6.4M401.4 789.7h6.4M404.6 786.5v6.4M400.7 785.3h6.4M403.9 782.1v6.4M399.2 788.5h6.4M402.4 785.3v6.4M406.4 781.2h6.4M409.6 778.0v6.4M399.9 784.0h6.4M403.1 780.8v6.4M422.7 775.3h6.4M425.9 772.1v6.4M418.9 771.6h6.4M422.1 768.4v6.4M399.7 784.0h6.4M402.9 780.8v6.4M405.3 785.2h6.4M408.5 782.0v6.4M400.4 771.2h6.4M403.6 768.0v6.4M406.4 780.5h6.4M409.6 777.3v6.4M404.6 771.0h6.4M407.8 767.8v6.4M401.5 776.8h6.4M404.7 773.6v6.4M400.3 781.0h6.4M403.5 777.8v6.4M399.5 780.5h6.4M402.7 777.3v6.4M406.4 768.9h6.4M409.6 765.7v6.4M399.3 782.0h6.4M402.5 778.8v6.4M415.9 772.3h6.4M419.1 769.1v6.4M412.5 770.0h6.4M415.7 766.8v6.4M410.0 787.6h6.4M413.2 784.4v6.4M403.3 779.2h6.4M406.5 776.0v6.4M420.5 774.4h6.4M423.7 771.2v6.4M417.6 769.9h6.4M420.8 766.7v6.4M405.4 786.6h6.4M408.6 783.4v6.4M419.6 775.0h6.4M422.8 771.8v6.4M408.7 776.0h6.4M411.9 772.8v6.4M403.4 775.9h6.4M406.6 772.7v6.4M418.9 781.8h6.4M422.1 778.6v6.4M419.0 781.7h6.4M422.2 778.5v6.4M415.1 781.3h6.4M418.3 778.1v6.4M403.9 779.8h6.4M407.1 776.6v6.4M431.1 773.5h6.4M434.3 770.3v6.4M430.4 790.1h6.4M433.6 786.9v6.4M445.9 791.2h6.4M449.1 788.0v6.4M435.9 774.6h6.4M439.1 771.4v6.4M431.6 775.1h6.4M434.8 771.9v6.4M445.9 788.7h6.4M449.1 785.5v6.4M441.7 780.5h6.4M444.9 777.3v6.4M434.4 785.7h6.4M437.6 782.5v6.4M444.2 785.2h6.4M447.4 782.0v6.4M445.5 782.5h6.4M448.7 779.3v6.4M442.9 782.6h6.4M446.1 779.4v6.4M436.0 787.7h6.4M439.2 784.5v6.4M433.5 788.3h6.4M436.7 785.1v6.4M429.0 791.4h6.4M432.2 788.2v6.4M440.4 772.7h6.4M443.6 769.5v6.4M439.2 774.9h6.4M442.4 771.7v6.4M425.1 771.2h6.4M428.3 768.0v6.4M433.2 790.8h6.4M436.4 787.6v6.4M428.5 781.0h6.4M431.7 777.8v6.4M433.4 772.1h6.4M436.6 768.9v6.4M439.5 775.3h6.4M442.7 772.1v6.4M423.9 788.4h6.4M427.1 785.2v6.4M441.1 769.1h6.4M444.3 765.9v6.4M433.7 775.7h6.4M436.9 772.5v6.4M438.6 775.5h6.4M441.8 772.3v6.4M439.6 769.1h6.4M442.8 765.9v6.4M444.6 783.5h6.4M447.8 780.3v6.4M432.4 787.6h6.4M435.6 784.4v6.4M440.6 775.5h6.4M443.8 772.3v6.4M425.0 783.3h6.4M428.2 780.1v6.4M433.0 788.8h6.4M436.2 785.6v6.4M426.4 787.9h6.4M429.6 784.7v6.4M443.1 772.9h6.4M446.3 769.7v6.4M428.9 782.7h6.4M432.1 779.5v6.4M429.6 779.7h6.4M432.8 776.5v6.4M435.6 777.4h6.4M438.8 774.2v6.4M425.8 774.8h6.4M429.0 771.6v6.4M442.3 787.2h6.4M445.5 784.0v6.4M425.2 784.6h6.4M428.4 781.4v6.4M443.9 782.7h6.4M447.1 779.5v6.4M469.9 782.1h6.4M473.1 778.9v6.4M458.0 777.6h6.4M461.2 774.4v6.4M460.8 783.9h6.4M464.0 780.7v6.4M470.6 771.6h6.4M473.8 768.4v6.4M454.6 789.4h6.4M457.8 786.2v6.4M463.3 775.4h6.4M466.5 772.2v6.4M460.3 769.5h6.4M463.5 766.3v6.4M450.4 768.9h6.4M453.6 765.7v6.4M467.1 771.3h6.4M470.3 768.1v6.4M455.7 775.9h6.4M458.9 772.7v6.4M463.5 769.8h6.4M466.7 766.6v6.4M447.0 772.1h6.4M450.2 768.9v6.4M460.4 776.5h6.4M463.6 773.3v6.4M448.6 774.9h6.4M451.8 771.7v6.4M453.2 785.4h6.4M456.4 782.2v6.4M463.9 768.5h6.4M467.1 765.3v6.4M466.8 770.6h6.4M470.0 767.4v6.4M456.4 778.2h6.4M459.6 775.0v6.4M447.5 770.6h6.4M450.7 767.4v6.4M464.6 784.5h6.4M467.8 781.3v6.4M465.7 791.3h6.4M468.9 788.1v6.4M468.1 775.2h6.4M471.3 772.0v6.4M462.6 783.8h6.4M465.8 780.6v6.4M452.3 786.2h6.4M455.5 783.0v6.4M468.6 782.2h6.4M471.8 779.0v6.4M465.6 774.7h6.4M468.8 771.5v6.4M467.1 775.9h6.4M470.3 772.7v6.4M454.1 781.5h6.4M457.3 778.3v6.4M461.5 779.2h6.4M464.7 776.0v6.4M466.8 786.1h6.4M470.0 782.9v6.4M459.4 789.2h6.4M462.6 786.0v6.4M456.4 777.3h6.4M459.6 774.1v6.4M470.3 775.5h6.4M473.5 772.3v6.4M450.0 788.5h6.4M453.2 785.3v6.4M463.3 775.7h6.4M466.5 772.5v6.4M466.2 784.3h6.4M469.4 781.1v6.4M457.7 780.7h6.4M460.9 777.5v6.4M469.6 781.0h6.4M472.8 777.8v6.4M449.3 778.5h6.4M452.5 775.3v6.4M454.1 791.0h6.4M457.3 787.8v6.4M457.3 777.6h6.4M460.5 774.4v6.4M465.2 786.4h6.4M468.4 783.2v6.4M448.7 784.3h6.4M451.9 781.1v6.4M469.2 781.9h6.4M472.4 778.7v6.4M453.5 790.4h6.4M456.7 787.2v6.4M448.4 779.8h6.4M451.6 776.6v6.4M451.5 781.3h6.4M454.7 778.1v6.4M480.4 789.1h6.4M483.6 785.9v6.4M472.5 779.2h6.4M475.7 776.0v6.4M477.7 770.6h6.4M480.9 767.4v6.4M491.1 783.6h6.4M494.3 780.4v6.4M479.2 780.8h6.4M482.4 777.6v6.4M481.5 769.4h6.4M484.7 766.2v6.4M478.7 768.8h6.4M481.9 765.6v6.4M473.2 788.4h6.4M476.4 785.2v6.4M489.6 775.1h6.4M492.8 771.9v6.4M471.2 789.2h6.4M474.4 786.0v6.4M472.4 773.9h6.4M475.6 770.7v6.4M491.2 781.8h6.4M494.4 778.6v6.4M481.3 786.7h6.4M484.5 783.5v6.4M492.8 781.9h6.4M496.0 778.7v6.4M492.9 769.7h6.4M496.1 766.5v6.4M483.3 784.5h6.4M486.5 781.3v6.4M491.1 779.4h6.4M494.3 776.2v6.4M485.9 774.9h6.4M489.1 771.7v6.4M488.3 781.9h6.4M491.5 778.7v6.4M494.6 780.7h6.4M497.8 777.5v6.4M475.4 787.0h6.4M478.6 783.8v6.4M481.6 771.1h6.4M484.8 767.9v6.4M493.9 779.9h6.4M497.1 776.7v6.4M474.8 772.8h6.4M478.0 769.6v6.4M476.9 790.2h6.4M480.1 787.0v6.4M490.3 768.8h6.4M493.5 765.6v6.4M487.6 775.9h6.4M490.8 772.7v6.4M481.3 785.8h6.4M484.5 782.6v6.4M477.8 775.0h6.4M481.0 771.8v6.4M493.1 786.9h6.4M496.3 783.7v6.4M490.7 785.8h6.4M493.9 782.6v6.4M493.8 786.1h6.4M497.0 782.9v6.4M488.7 775.0h6.4M491.9 771.8v6.4M487.7 790.5h6.4M490.9 787.3v6.4M484.5 785.2h6.4M487.7 782.0v6.4M475.0 779.2h6.4M478.2 776.0v6.4M483.5 785.5h6.4M486.7 782.3v6.4M483.3 773.7h6.4M486.5 770.5v6.4M494.5 779.6h6.4M497.7 776.4v6.4M473.6 788.2h6.4M476.8 785.0v6.4M503.6 790.8h6.4M506.8 787.6v6.4M495.5 786.3h6.4M498.7 783.1v6.4M511.1 785.2h6.4M514.3 782.0v6.4M495.7 780.1h6.4M498.9 776.9v6.4M506.9 775.2h6.4M510.1 772.0v6.4M496.9 782.7h6.4M500.1 779.5v6.4M503.6 791.7h6.4M506.8 788.5v6.4M500.4 777.4h6.4M503.6 774.2v6.4M510.6 771.2h6.4M513.8 768.0v6.4M498.4 770.1h6.4M501.6 766.9v6.4M515.1 786.9h6.4M518.3 783.7v6.4M497.6 774.7h6.4M500.8 771.5v6.4M510.7 769.4h6.4M513.9 766.2v6.4M496.3 772.5h6.4M499.5 769.3v6.4M513.4 774.0h6.4M516.6 770.8v6.4M512.7 771.9h6.4M515.9 768.7v6.4M510.0 784.2h6.4M513.2 781.0v6.4M510.1 772.2h6.4M513.3 769.0v6.4M506.0 774.1h6.4M509.2 770.9v6.4M502.6 776.0h6.4M505.8 772.8v6.4M516.6 772.5h6.4M519.8 769.3v6.4M504.3 786.8h6.4M507.5 783.6v6.4M496.7 786.7h6.4M499.9 783.5v6.4M516.5 782.9h6.4M519.7 779.7v6.4M517.0 778.9h6.4M520.2 775.7v6.4M513.5 791.9h6.4M516.7 788.7v6.4M506.7 778.9h6.4M509.9 775.7v6.4M517.7 784.7h6.4M520.9 781.5v6.4M506.9 777.5h6.4M510.1 774.3v6.4M512.0 791.3h6.4M515.2 788.1v6.4M506.9 779.1h6.4M510.1 775.9v6.4M507.0 769.0h6.4M510.2 765.8v6.4M514.6 785.4h6.4M517.8 782.2v6.4M509.9 784.7h6.4M513.1 781.5v6.4M418.2 802.4h6.4M421.4 799.2v6.4M412.5 797.8h6.4M415.7 794.6v6.4M412.2 807.6h6.4M415.4 804.4v6.4M412.3 796.7h6.4M415.5 793.5v6.4M405.5 793.0h6.4M408.7 789.8v6.4M408.9 805.9h6.4M412.1 802.7v6.4M407.3 808.1h6.4M410.5 804.9v6.4M408.0 803.3h6.4M411.2 800.1v6.4M403.6 804.8h6.4M406.8 801.6v6.4M404.0 797.3h6.4M407.2 794.1v6.4M409.1 807.3h6.4M412.3 804.1v6.4M411.2 797.5h6.4M414.4 794.3v6.4M412.5 808.9h6.4M415.7 805.7v6.4M403.9 794.9h6.4M407.1 791.7v6.4M419.6 800.2h6.4M422.8 797.0v6.4M412.3 803.7h6.4M415.5 800.5v6.4M411.1 799.5h6.4M414.3 796.3v6.4M402.4 808.8h6.4M405.6 805.6v6.4M415.1 814.5h6.4M418.3 811.3v6.4M410.7 812.4h6.4M413.9 809.2v6.4M410.9 815.7h6.4M414.1 812.5v6.4M402.8 799.2h6.4M406.0 796.0v6.4M417.3 802.1h6.4M420.5 798.9v6.4M412.3 813.3h6.4M415.5 810.1v6.4M403.9 793.6h6.4M407.1 790.4v6.4M399.2 806.8h6.4M402.4 803.6v6.4M421.5 797.7h6.4M424.7 794.5v6.4M410.9 802.3h6.4M414.1 799.1v6.4M410.6 811.8h6.4M413.8 808.6v6.4M420.1 806.0h6.4M423.3 802.8v6.4M410.1 813.8h6.4M413.3 810.6v6.4M409.4 799.3h6.4M412.6 796.1v6.4M410.3 807.9h6.4M413.5 804.7v6.4M404.4 809.9h6.4M407.6 806.7v6.4M407.8 793.4h6.4M411.0 790.2v6.4M415.6 813.2h6.4M418.8 810.0v6.4M420.6 815.6h6.4M423.8 812.4v6.4M399.9 815.4h6.4M403.1 812.2v6.4M420.4 813.4h6.4M423.6 810.2v6.4M399.0 808.1h6.4M402.2 804.9v6.4M427.5 813.6h6.4M430.7 810.4v6.4M429.4 793.4h6.4M432.6 790.2v6.4M436.9 808.6h6.4M440.1 805.4v6.4M435.6 801.9h6.4M438.8 798.7v6.4M424.4 809.4h6.4M427.6 806.2v6.4M423.0 805.9h6.4M426.2 802.7v6.4M425.1 802.9h6.4M428.3 799.7v6.4M436.8 797.9h6.4M440.0 794.7v6.4M440.9 798.1h6.4M444.1 794.9v6.4M443.6 801.4h6.4M446.8 798.2v6.4M439.3 802.8h6.4M442.5 799.6v6.4M430.5 794.2h6.4M433.7 791.0v6.4M437.5 793.2h6.4M440.7 790.0v6.4M434.0 801.8h6.4M437.2 798.6v6.4M429.8 798.0h6.4M433.0 794.8v6.4M434.5 813.1h6.4M437.7 809.9v6.4M441.9 799.4h6.4M445.1 796.2v6.4M437.1 807.1h6.4M440.3 803.9v6.4M440.1 807.0h6.4M443.3 803.8v6.4M424.3 795.4h6.4M427.5 792.2v6.4M441.7 798.3h6.4M444.9 795.1v6.4M436.4 793.3h6.4M439.6 790.1v6.4M436.7 798.9h6.4M439.9 795.7v6.4M423.8 792.4h6.4M427.0 789.2v6.4M428.5 804.4h6.4M431.7 801.2v6.4M440.9 792.7h6.4M444.1 789.5v6.4M435.0 800.0h6.4M438.2 796.8v6.4M437.4 808.8h6.4M440.6 805.6v6.4M424.8 797.9h6.4M428.0 794.7v6.4M443.7 807.9h6.4M446.9 804.7v6.4M426.8 804.9h6.4M430.0 801.7v6.4M431.5 795.7h6.4M434.7 792.5v6.4M432.6 804.7h6.4M435.8 801.5v6.4M438.6 813.2h6.4M441.8 810.0v6.4M429.4 815.7h6.4M432.6 812.5v6.4M431.6 807.5h6.4M434.8 804.3v6.4M432.3 802.8h6.4M435.5 799.6v6.4M439.3 809.8h6.4M442.5 806.6v6.4M424.4 792.5h6.4M427.6 789.3v6.4M431.1 799.6h6.4M434.3 796.4v6.4M457.5 814.7h6.4M460.7 811.5v6.4M454.0 797.5h6.4M457.2 794.3v6.4M457.1 800.0h6.4M460.3 796.8v6.4M456.7 804.6h6.4M459.9 801.4v6.4M449.5 810.2h6.4M452.7 807.0v6.4M462.0 810.1h6.4M465.2 806.9v6.4M457.4 796.2h6.4M460.6 793.0v6.4M464.6 812.9h6.4M467.8 809.7v6.4M468.2 809.3h6.4M471.4 806.1v6.4M449.8 799.0h6.4M453.0 795.8v6.4M463.4 793.0h6.4M466.6 789.8v6.4M453.6 801.3h6.4M456.8 798.1v6.4M465.9 792.7h6.4M469.1 789.5v6.4M453.4 807.3h6.4M456.6 804.1v6.4M446.9 799.4h6.4M450.1 796.2v6.4M464.5 803.2h6.4M467.7 800.0v6.4M464.6 797.9h6.4M467.8 794.7v6.4M463.9 795.8h6.4M467.1 792.6v6.4M461.9 811.0h6.4M465.1 807.8v6.4M448.3 798.7h6.4M451.5 795.5v6.4M454.7 813.2h6.4M457.9 810.0v6.4M448.5 801.9h6.4M451.7 798.7v6.4M470.7 794.2h6.4M473.9 791.0v6.4M469.7 793.7h6.4M472.9 790.5v6.4M459.8 802.8h6.4M463.0 799.6v6.4M463.2 798.9h6.4M466.4 795.7v6.4M458.1 812.8h6.4M461.3 809.6v6.4M450.7 813.5h6.4M453.9 810.3v6.4M449.1 796.2h6.4M452.3 793.0v6.4M452.2 804.9h6.4M455.4 801.7v6.4M454.2 803.3h6.4M457.4 800.1v6.4M448.2 799.2h6.4M451.4 796.0v6.4M446.9 794.9h6.4M450.1 791.7v6.4M462.6 805.4h6.4M465.8 802.2v6.4M457.9 792.6h6.4M461.1 789.4v6.4M465.0 794.4h6.4M468.2 791.2v6.4M463.6 801.8h6.4M466.8 798.6v6.4M467.7 794.3h6.4M470.9 791.1v6.4M455.2 793.0h6.4M458.4 789.8v6.4M469.3 806.8h6.4M472.5 803.6v6.4M478.9 795.9h6.4M482.1 792.7v6.4M492.2 800.5h6.4M495.4 797.3v6.4M473.8 803.2h6.4M477.0 800.0v6.4M479.5 811.6h6.4M482.7 808.4v6.4M472.2 810.4h6.4M475.4 807.2v6.4M492.1 793.4h6.4M495.3 790.2v6.4M487.1 809.4h6.4M490.3 806.2v6.4M489.0 812.8h6.4M492.2 809.6v6.4M482.0 807.5h6.4M485.2 804.3v6.4M484.9 802.6h6.4M488.1 799.4v6.4M474.0 805.0h6.4M477.2 801.8v6.4M483.4 800.3h6.4M486.6 797.1v6.4M488.3 813.3h6.4M491.5 810.1v6.4M483.0 801.1h6.4M486.2 797.9v6.4M483.0 809.7h6.4M486.2 806.5v6.4M478.0 811.8h6.4M481.2 808.6v6.4M486.7 808.9h6.4M489.9 805.7v6.4M485.1 793.6h6.4M488.3 790.4v6.4M486.3 812.8h6.4M489.5 809.6v6.4M486.8 812.2h6.4M490.0 809.0v6.4M474.3 802.9h6.4M477.5 799.7v6.4M488.0 814.7h6.4M491.2 811.5v6.4M472.8 796.9h6.4M476.0 793.7v6.4M476.5 798.1h6.4M479.7 794.9v6.4M486.4 801.8h6.4M489.6 798.6v6.4M493.0 808.2h6.4M496.2 805.0v6.4M487.5 813.7h6.4M490.7 810.5v6.4M491.5 792.7h6.4M494.7 789.5v6.4M481.0 807.6h6.4M484.2 804.4v6.4M488.2 813.7h6.4M491.4 810.5v6.4M475.7 803.9h6.4M478.9 800.7v6.4M492.4 796.5h6.4M495.6 793.3v6.4M471.8 802.2h6.4M475.0 799.0v6.4M475.0 792.8h6.4M478.2 789.6v6.4M504.3 807.2h6.4M507.5 804.0v6.4M510.3 812.6h6.4M513.5 809.4v6.4M501.6 798.6h6.4M504.8 795.4v6.4M516.5 793.3h6.4M519.7 790.1v6.4M509.1 795.3h6.4M512.3 792.1v6.4M513.0 794.8h6.4M516.2 791.6v6.4M514.9 799.0h6.4M518.1 795.8v6.4M517.2 807.2h6.4M520.4 804.0v6.4M513.3 796.9h6.4M516.5 793.7v6.4M510.9 807.8h6.4M514.1 804.6v6.4M504.4 805.3h6.4M507.6 802.1v6.4M507.7 812.2h6.4M510.9 809.0v6.4M518.8 811.7h6.4M522.0 808.5v6.4M506.8 794.4h6.4M510.0 791.2v6.4M510.0 815.3h6.4M513.2 812.1v6.4M500.0 795.2h6.4M503.2 792.0v6.4M499.4 794.1h6.4M502.6 790.9v6.4M507.1 796.8h6.4M510.3 793.6v6.4M516.1 813.4h6.4M519.3 810.2v6.4M515.7 804.8h6.4M518.9 801.6v6.4M505.6 808.0h6.4M508.8 804.8v6.4M504.5 805.5h6.4M507.7 802.3v6.4M496.3 805.2h6.4M499.5 802.0v6.4M508.2 797.2h6.4M511.4 794.0v6.4M499.1 802.5h6.4M502.3 799.3v6.4M516.4 815.8h6.4M519.6 812.6v6.4M511.8 799.9h6.4M515.0 796.7v6.4M502.7 814.2h6.4M505.9 811.0v6.4M501.2 806.4h6.4M504.4 803.2v6.4M512.1 798.8h6.4M515.3 795.6v6.4M517.0 798.0h6.4M520.2 794.8v6.4M518.6 808.9h6.4M521.8 805.7v6.4M507.5 805.9h6.4M510.7 802.7v6.4M516.2 812.6h6.4M519.4 809.4v6.4M399.8 823.6h6.4M403.0 820.4v6.4M399.0 826.1h6.4M402.2 822.9v6.4M415.7 825.3h6.4M418.9 822.1v6.4M412.3 819.9h6.4M415.5 816.7v6.4M403.7 824.0h6.4M406.9 820.8v6.4M404.9 833.1h6.4M408.1 829.9v6.4M417.5 823.4h6.4M420.7 820.2v6.4M418.9 824.4h6.4M422.1 821.2v6.4M418.8 832.8h6.4M422.0 829.6v6.4M410.8 834.4h6.4M414.0 831.2v6.4M417.7 821.3h6.4M420.9 818.1v6.4M420.4 824.2h6.4M423.6 821.0v6.4M400.3 839.8h6.4M403.5 836.6v6.4M422.6 831.9h6.4M425.8 828.7v6.4M399.8 816.3h6.4M403.0 813.1v6.4M417.6 832.6h6.4M420.8 829.4v6.4M419.0 839.0h6.4M422.2 835.8v6.4M413.9 835.5h6.4M417.1 832.3v6.4M407.6 825.8h6.4M410.8 822.6v6.4M413.6 823.4h6.4M416.8 820.2v6.4M414.5 837.2h6.4M417.7 834.0v6.4M409.5 837.4h6.4M412.7 834.2v6.4M417.1 822.3h6.4M420.3 819.1v6.4M400.4 823.6h6.4M403.6 820.4v6.4M413.1 830.0h6.4M416.3 826.8v6.4M402.7 832.4h6.4M405.9 829.2v6.4M406.4 825.2h6.4M409.6 822.0v6.4M401.5 833.0h6.4M404.7 829.8v6.4M404.8 820.9h6.4M408.0 817.7v6.4M420.3 824.0h6.4M423.5 820.8v6.4M418.2 817.4h6.4M421.4 814.2v6.4M410.9 831.5h6.4M414.1 828.3v6.4M415.7 827.1h6.4M418.9 823.9v6.4M402.9 829.0h6.4M406.1 825.8v6.4M420.0 823.1h6.4M423.2 819.9v6.4M408.6 831.9h6.4M411.8 828.7v6.4M407.2 831.6h6.4M410.4 828.4v6.4M408.8 819.9h6.4M412.0 816.7v6.4M410.3 817.5h6.4M413.5 814.3v6.4M400.7 826.3h6.4M403.9 823.1v6.4M431.0 835.3h6.4M434.2 832.1v6.4M424.1 824.3h6.4M427.3 821.1v6.4M437.3 829.7h6.4M440.5 826.5v6.4M437.7 829.8h6.4M440.9 826.6v6.4M445.9 821.4h6.4M449.1 818.2v6.4M434.9 817.8h6.4M438.1 814.6v6.4M441.1 829.2h6.4M444.3 826.0v6.4M446.0 818.8h6.4M449.2 815.6v6.4M435.7 822.4h6.4M438.9 819.2v6.4M432.9 838.3h6.4M436.1 835.1v6.4M428.3 819.2h6.4M431.5 816.0v6.4M432.5 822.5h6.4M435.7 819.3v6.4M441.3 833.1h6.4M444.5 829.9v6.4M429.1 836.1h6.4M432.3 832.9v6.4M428.4 817.5h6.4M431.6 814.3v6.4M426.9 829.8h6.4M430.1 826.6v6.4M441.4 833.2h6.4M444.6 830.0v6.4M426.7 825.4h6.4M429.9 822.2v6.4M442.5 831.2h6.4M445.7 828.0v6.4M441.2 819.7h6.4M444.4 816.5v6.4M442.1 820.1h6.4M445.3 816.9v6.4M423.5 827.5h6.4M426.7 824.3v6.4M438.3 831.2h6.4M441.5 828.0v6.4M434.5 820.4h6.4M437.7 817.2v6.4M436.4 827.4h6.4M439.6 824.2v6.4M422.8 822.3h6.4M426.0 819.1v6.4M432.0 833.6h6.4M435.2 830.4v6.4M446.2 839.5h6.4M449.4 836.3v6.4M436.4 824.5h6.4M439.6 821.3v6.4M443.4 835.2h6.4M446.6 832.0v6.4M445.8 822.1h6.4M449.0 818.9v6.4M446.7 830.2h6.4M449.9 827.0v6.4M438.3 821.6h6.4M441.5 818.4v6.4M444.9 819.5h6.4M448.1 816.3v6.4M439.4 838.2h6.4M442.6 835.0v6.4M442.1 821.1h6.4M445.3 817.9v6.4M446.3 836.2h6.4M449.5 833.0v6.4M446.7 835.2h6.4M449.9 832.0v6.4M445.6 821.2h6.4M448.8 818.0v6.4M427.9 821.7h6.4M431.1 818.5v6.4M458.2 820.3h6.4M461.4 817.1v6.4M468.5 836.0h6.4M471.7 832.8v6.4M455.0 822.1h6.4M458.2 818.9v6.4M450.1 821.0h6.4M453.3 817.8v6.4M453.4 823.5h6.4M456.6 820.3v6.4M463.7 817.4h6.4M466.9 814.2v6.4M460.2 835.4h6.4M463.4 832.2v6.4M452.6 831.2h6.4M455.8 828.0v6.4M453.1 837.5h6.4M456.3 834.3v6.4M458.8 824.8h6.4M462.0 821.6v6.4M468.9 828.3h6.4M472.1 825.1v6.4M456.0 820.5h6.4M459.2 817.3v6.4M449.4 823.5h6.4M452.6 820.3v6.4M447.4 836.8h6.4M450.6 833.6v6.4M468.3 836.2h6.4M471.5 833.0v6.4M458.4 824.5h6.4M461.6 821.3v6.4M453.7 819.3h6.4M456.9 816.1v6.4M453.7 823.4h6.4M456.9 820.2v6.4M458.9 820.6h6.4M462.1 817.4v6.4M459.4 828.0h6.4M462.6 824.8v6.4M450.2 829.9h6.4M453.4 826.7v6.4M468.5 834.1h6.4M471.7 830.9v6.4M459.8 821.9h6.4M463.0 818.7v6.4M464.0 821.7h6.4M467.2 818.5v6.4M467.2 822.7h6.4M470.4 819.5v6.4M451.4 834.7h6.4M454.6 831.5v6.4M451.9 822.7h6.4M455.1 819.5v6.4M463.5 825.2h6.4M466.7 822.0v6.4M456.3 838.0h6.4M459.5 834.8v6.4M467.6 839.8h6.4M470.8 836.6v6.4M460.2 825.1h6.4M463.4 821.9v6.4M461.0 825.8h6.4M464.2 822.6v6.4M470.0 822.3h6.4M473.2 819.1v6.4M466.6 834.9h6.4M469.8 831.7v6.4M453.5 834.7h6.4M456.7 831.5v6.4M463.4 835.1h6.4M466.6 831.9v6.4M459.2 819.4h6.4M462.4 816.2v6.4M458.4 838.9h6.4M461.6 835.7v6.4M468.6 823.7h6.4M471.8 820.5v6.4M462.4 816.7h6.4M465.6 813.5v6.4M488.1 830.0h6.4M491.3 826.8v6.4M480.1 822.5h6.4M483.3 819.3v6.4M472.8 821.7h6.4M476.0 818.5v6.4M481.1 826.2h6.4M484.3 823.0v6.4M474.5 832.7h6.4M477.7 829.5v6.4M471.0 820.3h6.4M474.2 817.1v6.4M477.6 820.2h6.4M480.8 817.0v6.4M490.3 838.8h6.4M493.5 835.6v6.4M482.1 824.0h6.4M485.3 820.8v6.4M491.0 834.2h6.4M494.2 831.0v6.4M486.4 838.2h6.4M489.6 835.0v6.4M472.6 830.2h6.4M475.8 827.0v6.4M477.2 839.2h6.4M480.4 836.0v6.4M472.4 837.2h6.4M475.6 834.0v6.4M492.8 817.4h6.4M496.0 814.2v6.4M492.0 828.1h6.4M495.2 824.9v6.4M492.4 827.2h6.4M495.6 824.0v6.4M494.3 823.6h6.4M497.5 820.4v6.4M475.4 831.2h6.4M478.6 828.0v6.4M494.2 822.1h6.4M497.4 818.9v6.4M487.3 822.4h6.4M490.5 819.2v6.4M479.7 830.7h6.4M482.9 827.5v6.4M489.3 827.9h6.4M492.5 824.7v6.4M493.1 831.7h6.4M496.3 828.5v6.4M471.6 830.8h6.4M474.8 827.6v6.4M471.6 821.8h6.4M474.8 818.6v6.4M483.6 825.8h6.4M486.8 822.6v6.4M487.3 825.8h6.4M490.5 822.6v6.4M490.2 829.3h6.4M493.4 826.1v6.4M485.0 830.8h6.4M488.2 827.6v6.4M482.9 828.8h6.4M486.1 825.6v6.4M470.9 819.6h6.4M474.1 816.4v6.4M478.3 821.5h6.4M481.5 818.3v6.4M475.4 832.6h6.4M478.6 829.4v6.4M481.4 819.9h6.4M484.6 816.7v6.4M486.5 820.2h6.4M489.7 817.0v6.4M478.0 820.8h6.4M481.2 817.6v6.4M487.1 828.1h6.4M490.3 824.9v6.4M471.1 832.9h6.4M474.3 829.7v6.4M475.1 822.3h6.4M478.3 819.1v6.4M497.3 830.3h6.4M500.5 827.1v6.4M508.2 822.0h6.4M511.4 818.8v6.4M518.7 825.6h6.4M521.9 822.4v6.4M498.0 835.2h6.4M501.2 832.0v6.4M507.1 827.2h6.4M510.3 824.0v6.4M509.3 827.4h6.4M512.5 824.2v6.4M505.2 817.0h6.4M508.4 813.8v6.4M513.9 829.2h6.4M517.1 826.0v6.4M511.9 817.4h6.4M515.1 814.2v6.4M506.1 824.2h6.4M509.3 821.0v6.4M507.4 832.7h6.4M510.6 829.5v6.4M501.0 833.6h6.4M504.2 830.4v6.4M511.5 817.7h6.4M514.7 814.5v6.4M515.4 831.0h6.4M518.6 827.8v6.4M501.3 837.4h6.4M504.5 834.2v6.4M495.9 829.8h6.4M499.1 826.6v6.4M515.3 833.4h6.4M518.5 830.2v6.4M516.7 827.7h6.4M519.9 824.5v6.4M516.7 817.1h6.4M519.9 813.9v6.4M514.6 820.6h6.4M517.8 817.4v6.4M510.3 839.8h6.4M513.5 836.6v6.4M506.8 836.3h6.4M510.0 833.1v6.4M511.2 836.3h6.4M514.4 833.1v6.4M494.9 827.7h6.4M498.1 824.5v6.4M510.4 833.4h6.4M513.6 830.2v6.4M517.3 820.3h6.4M520.5 817.1v6.4M507.4 830.9h6.4M510.6 827.7v6.4M504.4 838.0h6.4M507.6 834.8v6.4M506.9 817.8h6.4M510.1 814.6v6.4M510.2 833.9h6.4M513.4 830.7v6.4M511.6 827.7h6.4M514.8 824.5v6.4M506.0 836.5h6.4M509.2 833.3v6.4M511.7 832.9h6.4M514.9 829.7v6.4M514.4 818.5h6.4M517.6 815.3v6.4M511.6 836.5h6.4M514.8 833.3v6.4M512.4 838.7h6.4M515.6 835.5v6.4M504.3 834.1h6.4M507.5 830.9v6.4M513.2 833.9h6.4M516.4 830.7v6.4M531.1 731.6h6.4M534.3 728.4v6.4M540.9 725.3h6.4M544.1 722.1v6.4M526.4 724.1h6.4M529.6 720.9v6.4M539.1 740.1h6.4M542.3 736.9v6.4M527.4 729.6h6.4M530.6 726.4v6.4M561.7 735.4h6.4M564.9 732.2v6.4M577.1 742.8h6.4M580.3 739.6v6.4M579.5 722.3h6.4M582.7 719.1v6.4M575.6 728.5h6.4M578.8 725.3v6.4M594.4 735.0h6.4M597.6 731.8v6.4M604.1 736.9h6.4M607.3 733.7v6.4M636.6 725.1h6.4M639.8 721.9v6.4M621.5 735.3h6.4M624.7 732.1v6.4M536.5 760.6h6.4M539.7 757.4v6.4M520.1 762.9h6.4M523.3 759.7v6.4M524.6 745.7h6.4M527.8 742.5v6.4M542.0 746.7h6.4M545.2 743.5v6.4M541.5 749.1h6.4M544.7 745.9v6.4M523.7 765.9h6.4M526.9 762.7v6.4M536.3 767.0h6.4M539.5 763.8v6.4M519.7 760.4h6.4M522.9 757.2v6.4M553.2 750.6h6.4M556.4 747.4v6.4M553.0 763.2h6.4M556.2 760.0v6.4M554.0 766.3h6.4M557.2 763.1v6.4M589.3 758.5h6.4M592.5 755.3v6.4M569.7 747.2h6.4M572.9 744.0v6.4M603.7 763.9h6.4M606.9 760.7v6.4M614.8 761.2h6.4M618.0 758.0v6.4M590.8 765.8h6.4M594.0 762.6v6.4M605.0 747.1h6.4M608.2 743.9v6.4M607.6 766.5h6.4M610.8 763.3v6.4M621.4 757.8h6.4M624.6 754.6v6.4M629.9 758.5h6.4M633.1 755.3v6.4M622.9 757.2h6.4M626.1 754.0v6.4M540.9 781.2h6.4M544.1 778.0v6.4M522.8 781.7h6.4M526.0 778.5v6.4M536.7 769.9h6.4M539.9 766.7v6.4M539.5 779.4h6.4M542.7 776.2v6.4M523.9 773.3h6.4M527.1 770.1v6.4M520.7 788.4h6.4M523.9 785.2v6.4M538.5 777.9h6.4M541.7 774.7v6.4M542.5 773.3h6.4M545.7 770.1v6.4M518.9 787.9h6.4M522.1 784.7v6.4M561.1 772.4h6.4M564.3 769.2v6.4M550.5 769.9h6.4M553.7 766.7v6.4M556.2 780.8h6.4M559.4 777.6v6.4M558.0 788.2h6.4M561.2 785.0v6.4M563.1 776.2h6.4M566.3 773.0v6.4M552.9 771.7h6.4M556.1 768.5v6.4M556.8 777.3h6.4M560.0 774.1v6.4M559.5 775.3h6.4M562.7 772.1v6.4M551.4 783.6h6.4M554.6 780.4v6.4M570.4 773.7h6.4M573.6 770.5v6.4M580.2 784.0h6.4M583.4 780.8v6.4M569.7 777.9h6.4M572.9 774.7v6.4M577.7 777.7h6.4M580.9 774.5v6.4M568.4 784.5h6.4M571.6 781.3v6.4M583.6 773.9h6.4M586.8 770.7v6.4M579.7 787.9h6.4M582.9 784.7v6.4M584.6 768.2h6.4M587.8 765.0v6.4M574.4 773.3h6.4M577.6 770.1v6.4M587.6 784.8h6.4M590.8 781.6v6.4M584.8 768.3h6.4M588.0 765.1v6.4M584.7 771.4h6.4M587.9 768.2v6.4M571.2 779.1h6.4M574.4 775.9v6.4M581.4 774.1h6.4M584.6 770.9v6.4M611.5 785.5h6.4M614.7 782.3v6.4M614.0 771.5h6.4M617.2 768.3v6.4M602.1 776.8h6.4M605.3 773.6v6.4M600.3 770.4h6.4M603.5 767.2v6.4M612.5 771.0h6.4M615.7 767.8v6.4M592.0 768.4h6.4M595.2 765.2v6.4M609.8 788.9h6.4M613.0 785.7v6.4M598.6 772.6h6.4M601.8 769.4v6.4M621.5 778.4h6.4M624.7 775.2v6.4M629.5 774.4h6.4M632.7 771.2v6.4M632.6 785.6h6.4M635.8 782.4v6.4M637.1 790.5h6.4M640.3 787.3v6.4M632.7 790.6h6.4M635.9 787.4v6.4M633.5 777.3h6.4M636.7 774.1v6.4M615.4 773.2h6.4M618.6 770.0v6.4M637.5 783.9h6.4M640.7 780.7v6.4M538.4 793.4h6.4M541.6 790.2v6.4M537.7 798.7h6.4M540.9 795.5v6.4M525.9 802.5h6.4M529.1 799.3v6.4M538.8 809.0h6.4M542.0 805.8v6.4M542.5 792.1h6.4M545.7 788.9v6.4M529.3 806.9h6.4M532.5 803.7v6.4M529.5 801.3h6.4M532.7 798.1v6.4M540.3 804.2h6.4M543.5 801.0v6.4M522.5 801.3h6.4M525.7 798.1v6.4M528.3 798.9h6.4M531.5 795.7v6.4M521.2 812.1h6.4M524.4 808.9v6.4M535.6 815.3h6.4M538.8 812.1v6.4M535.3 804.0h6.4M538.5 800.8v6.4M540.9 806.7h6.4M544.1 803.5v6.4M540.0 813.3h6.4M543.2 810.1v6.4M530.4 797.1h6.4M533.6 793.9v6.4M527.1 813.2h6.4M530.3 810.0v6.4M528.8 801.5h6.4M532.0 798.3v6.4M524.1 810.5h6.4M527.3 807.3v6.4M518.8 812.8h6.4M522.0 809.6v6.4M522.7 797.1h6.4M525.9 793.9v6.4M525.4 802.2h6.4M528.6 799.0v6.4M532.8 810.0h6.4M536.0 806.8v6.4M530.4 808.2h6.4M533.6 805.0v6.4M543.8 806.8h6.4M547.0 803.6v6.4M556.8 793.8h6.4M560.0 790.6v6.4M566.1 806.3h6.4M569.3 803.1v6.4M554.3 797.0h6.4M557.5 793.8v6.4M555.3 812.4h6.4M558.5 809.2v6.4M559.5 794.1h6.4M562.7 790.9v6.4M550.3 814.1h6.4M553.5 810.9v6.4M545.4 807.1h6.4M548.6 803.9v6.4M563.6 808.4h6.4M566.8 805.2v6.4M558.0 792.9h6.4M561.2 789.7v6.4M549.6 797.7h6.4M552.8 794.5v6.4M549.0 807.9h6.4M552.2 804.7v6.4M550.5 792.4h6.4M553.7 789.2v6.4M544.1 801.9h6.4M547.3 798.7v6.4M553.2 805.4h6.4M556.4 802.2v6.4M550.4 811.2h6.4M553.6 808.0v6.4M565.1 813.5h6.4M568.3 810.3v6.4M565.4 801.1h6.4M568.6 797.9v6.4M553.5 813.0h6.4M556.7 809.8v6.4M546.8 813.6h6.4M550.0 810.4v6.4M562.4 799.4h6.4M565.6 796.2v6.4M542.9 804.7h6.4M546.1 801.5v6.4M547.5 796.5h6.4M550.7 793.3v6.4M552.0 801.7h6.4M555.2 798.5v6.4M560.7 808.7h6.4M563.9 805.5v6.4M562.1 810.7h6.4M565.3 807.5v6.4M552.4 800.4h6.4M555.6 797.2v6.4M551.9 804.6h6.4M555.1 801.4v6.4M554.4 805.6h6.4M557.6 802.4v6.4M564.8 800.6h6.4M568.0 797.4v6.4M580.3 796.6h6.4M583.5 793.4v6.4M580.5 806.0h6.4M583.7 802.8v6.4M583.0 802.8h6.4M586.2 799.6v6.4M570.1 800.4h6.4M573.3 797.2v6.4M573.4 796.5h6.4M576.6 793.3v6.4M589.0 808.9h6.4M592.2 805.7v6.4M589.4 814.6h6.4M592.6 811.4v6.4M573.3 799.3h6.4M576.5 796.1v6.4M578.7 801.8h6.4M581.9 798.6v6.4M576.9 794.0h6.4M580.1 790.8v6.4M589.0 812.6h6.4M592.2 809.4v6.4M580.8 801.1h6.4M584.0 797.9v6.4M581.1 804.9h6.4M584.3 801.7v6.4M575.9 809.5h6.4M579.1 806.3v6.4M572.9 800.7h6.4M576.1 797.5v6.4M586.7 809.2h6.4M589.9 806.0v6.4M571.6 800.0h6.4M574.8 796.8v6.4M579.3 795.8h6.4M582.5 792.6v6.4M584.6 806.9h6.4M587.8 803.7v6.4M575.5 799.9h6.4M578.7 796.7v6.4M571.3 796.7h6.4M574.5 793.5v6.4M580.5 805.0h6.4M583.7 801.8v6.4M587.0 811.2h6.4M590.2 808.0v6.4M584.3 805.9h6.4M587.5 802.7v6.4M572.5 802.6h6.4M575.7 799.4v6.4M588.3 810.8h6.4M591.5 807.6v6.4M584.7 813.2h6.4M587.9 810.0v6.4M586.9 798.1h6.4M590.1 794.9v6.4M588.6 815.3h6.4M591.8 812.1v6.4M581.0 805.9h6.4M584.2 802.7v6.4M586.8 811.3h6.4M590.0 808.1v6.4M588.4 803.2h6.4M591.6 800.0v6.4M611.7 802.6h6.4M614.9 799.4v6.4M601.5 803.9h6.4M604.7 800.7v6.4M605.1 792.7h6.4M608.3 789.5v6.4M596.3 812.3h6.4M599.5 809.1v6.4M591.6 813.3h6.4M594.8 810.1v6.4M613.0 803.2h6.4M616.2 800.0v6.4M612.1 813.7h6.4M615.3 810.5v6.4M600.0 810.6h6.4M603.2 807.4v6.4M595.8 801.5h6.4M599.0 798.3v6.4M595.0 799.4h6.4M598.2 796.2v6.4M614.2 807.3h6.4M617.4 804.1v6.4M598.6 794.3h6.4M601.8 791.1v6.4M611.3 814.4h6.4M614.5 811.2v6.4M614.5 793.2h6.4M617.7 790.0v6.4M609.8 799.3h6.4M613.0 796.1v6.4M595.5 803.8h6.4M598.7 800.6v6.4M598.1 814.3h6.4M601.3 811.1v6.4M594.4 800.8h6.4M597.6 797.6v6.4M594.8 809.2h6.4M598.0 806.0v6.4M602.6 803.7h6.4M605.8 800.5v6.4M612.4 806.2h6.4M615.6 803.0v6.4M603.1 812.7h6.4M606.3 809.5v6.4M604.9 813.6h6.4M608.1 810.4v6.4M606.3 809.4h6.4M609.5 806.2v6.4M603.5 794.7h6.4M606.7 791.5v6.4M604.8 813.1h6.4M608.0 809.9v6.4M608.9 815.0h6.4M612.1 811.8v6.4M620.9 812.7h6.4M624.1 809.5v6.4M618.8 792.3h6.4M622.0 789.1v6.4M615.7 797.0h6.4M618.9 793.8v6.4M620.2 810.8h6.4M623.4 807.6v6.4M627.0 813.0h6.4M630.2 809.8v6.4M527.5 819.6h6.4M530.7 816.4v6.4M525.7 820.6h6.4M528.9 817.4v6.4M537.2 838.5h6.4M540.4 835.3v6.4M531.9 829.3h6.4M535.1 826.1v6.4M532.3 832.7h6.4M535.5 829.5v6.4M538.8 835.8h6.4M542.0 832.6v6.4M529.5 828.0h6.4M532.7 824.8v6.4M530.0 819.9h6.4M533.2 816.7v6.4M520.6 835.7h6.4M523.8 832.5v6.4M529.4 820.1h6.4M532.6 816.9v6.4M519.8 816.6h6.4M523.0 813.4v6.4M529.1 829.7h6.4M532.3 826.5v6.4M540.8 834.2h6.4M544.0 831.0v6.4M528.5 830.1h6.4M531.7 826.9v6.4M519.3 819.9h6.4M522.5 816.7v6.4M529.3 830.2h6.4M532.5 827.0v6.4M535.1 838.1h6.4M538.3 834.9v6.4M527.4 825.5h6.4M530.6 822.3v6.4M522.2 822.7h6.4M525.4 819.5v6.4M523.4 835.8h6.4M526.6 832.6v6.4M533.7 834.9h6.4M536.9 831.7v6.4M520.4 827.4h6.4M523.6 824.2v6.4M534.5 821.3h6.4M537.7 818.1v6.4M531.6 817.0h6.4M534.8 813.8v6.4M534.3 830.4h6.4M537.5 827.2v6.4M534.3 817.0h6.4M537.5 813.8v6.4M531.9 824.7h6.4M535.1 821.5v6.4M524.3 839.7h6.4M527.5 836.5v6.4M531.4 833.0h6.4M534.6 829.8v6.4M530.7 837.4h6.4M533.9 834.2v6.4M522.8 827.6h6.4M526.0 824.4v6.4M535.6 820.1h6.4M538.8 816.9v6.4M522.3 827.7h6.4M525.5 824.5v6.4M531.7 836.9h6.4M534.9 833.7v6.4M558.2 821.6h6.4M561.4 818.4v6.4M550.7 836.0h6.4M553.9 832.8v6.4M546.7 823.5h6.4M549.9 820.3v6.4M550.5 830.4h6.4M553.7 827.2v6.4M560.0 819.7h6.4M563.2 816.5v6.4M553.2 836.7h6.4M556.4 833.5v6.4M558.6 836.7h6.4M561.8 833.5v6.4M563.3 828.6h6.4M566.5 825.4v6.4M549.4 823.6h6.4M552.6 820.4v6.4M555.5 837.7h6.4M558.7 834.5v6.4M549.5 834.9h6.4M552.7 831.7v6.4M549.0 821.7h6.4M552.2 818.5v6.4M544.1 825.4h6.4M547.3 822.2v6.4M562.2 826.0h6.4M565.4 822.8v6.4M557.7 818.1h6.4M560.9 814.9v6.4M550.3 828.5h6.4M553.5 825.3v6.4M543.1 822.7h6.4M546.3 819.5v6.4M562.4 818.4h6.4M565.6 815.2v6.4M561.7 831.3h6.4M564.9 828.1v6.4M548.3 820.3h6.4M551.5 817.1v6.4M558.9 829.6h6.4M562.1 826.4v6.4M551.1 835.4h6.4M554.3 832.2v6.4M555.9 838.3h6.4M559.1 835.1v6.4M551.1 826.7h6.4M554.3 823.5v6.4M562.8 823.4h6.4M566.0 820.2v6.4M561.1 834.7h6.4M564.3 831.5v6.4M558.6 830.5h6.4M561.8 827.3v6.4M563.7 820.2h6.4M566.9 817.0v6.4M565.8 836.8h6.4M569.0 833.6v6.4M551.2 816.1h6.4M554.4 812.9v6.4M590.8 837.5h6.4M594.0 834.3v6.4M582.2 839.4h6.4M585.4 836.2v6.4M570.6 823.3h6.4M573.8 820.1v6.4M576.3 820.0h6.4M579.5 816.8v6.4M571.0 836.7h6.4M574.2 833.5v6.4M579.1 825.8h6.4M582.3 822.6v6.4M576.6 832.8h6.4M579.8 829.6v6.4M583.7 825.6h6.4M586.9 822.4v6.4M569.3 823.8h6.4M572.5 820.6v6.4M574.0 820.3h6.4M577.2 817.1v6.4M580.9 838.9h6.4M584.1 835.7v6.4M580.7 817.3h6.4M583.9 814.1v6.4M570.1 838.4h6.4M573.3 835.2v6.4M590.3 825.1h6.4M593.5 821.9v6.4M577.7 822.4h6.4M580.9 819.2v6.4M583.1 837.8h6.4M586.3 834.6v6.4M580.9 833.0h6.4M584.1 829.8v6.4M567.1 836.7h6.4M570.3 833.5v6.4M580.1 817.0h6.4M583.3 813.8v6.4M574.8 833.7h6.4M578.0 830.5v6.4M571.7 835.3h6.4M574.9 832.1v6.4M581.5 831.4h6.4M584.7 828.2v6.4M612.2 837.8h6.4M615.4 834.6v6.4M598.4 819.3h6.4M601.6 816.1v6.4M607.5 834.0h6.4M610.7 830.8v6.4M597.4 825.8h6.4M600.6 822.6v6.4M611.2 820.0h6.4M614.4 816.8v6.4M593.2 838.6h6.4M596.4 835.4v6.4M591.1 821.1h6.4M594.3 817.9v6.4M591.3 826.9h6.4M594.5 823.7v6.4M631.5 821.3h6.4M634.7 818.1v6.4M617.9 828.1h6.4M621.1 824.9v6.4M403.9 853.7h6.4M407.1 850.5v6.4M409.1 846.4h6.4M412.3 843.2v6.4M418.4 846.4h6.4M421.6 843.2v6.4M412.2 840.9h6.4M415.4 837.7v6.4M419.7 844.4h6.4M422.9 841.2v6.4M414.7 863.8h6.4M417.9 860.6v6.4M404.1 856.7h6.4M407.3 853.5v6.4M400.5 862.1h6.4M403.7 858.9v6.4M414.7 857.0h6.4M417.9 853.8v6.4M399.8 849.2h6.4M403.0 846.0v6.4M413.1 846.1h6.4M416.3 842.9v6.4M416.9 853.6h6.4M420.1 850.4v6.4M403.9 860.8h6.4M407.1 857.6v6.4M414.3 846.0h6.4M417.5 842.8v6.4M407.2 856.0h6.4M410.4 852.8v6.4M414.2 850.4h6.4M417.4 847.2v6.4M414.8 841.5h6.4M418.0 838.3v6.4M404.3 842.3h6.4M407.5 839.1v6.4M415.3 857.3h6.4M418.5 854.1v6.4M415.7 855.1h6.4M418.9 851.9v6.4M430.9 852.2h6.4M434.1 849.0v6.4M433.0 843.5h6.4M436.2 840.3v6.4M442.3 843.2h6.4M445.5 840.0v6.4M429.6 857.8h6.4M432.8 854.6v6.4M443.5 842.3h6.4M446.7 839.1v6.4M441.2 845.8h6.4M444.4 842.6v6.4M444.7 842.4h6.4M447.9 839.2v6.4M446.6 846.7h6.4M449.8 843.5v6.4M428.9 859.9h6.4M432.1 856.7v6.4M430.8 843.9h6.4M434.0 840.7v6.4M430.1 862.4h6.4M433.3 859.2v6.4M436.1 851.7h6.4M439.3 848.5v6.4M436.3 842.6h6.4M439.5 839.4v6.4M436.4 857.1h6.4M439.6 853.9v6.4M422.9 844.5h6.4M426.1 841.3v6.4M445.1 851.8h6.4M448.3 848.6v6.4M429.1 854.7h6.4M432.3 851.5v6.4M432.3 841.2h6.4M435.5 838.0v6.4M445.7 848.3h6.4M448.9 845.1v6.4M434.0 848.7h6.4M437.2 845.5v6.4M442.2 848.7h6.4M445.4 845.5v6.4M430.8 850.8h6.4M434.0 847.6v6.4M446.2 861.6h6.4M449.4 858.4v6.4M424.1 862.3h6.4M427.3 859.1v6.4M437.1 843.5h6.4M440.3 840.3v6.4M430.7 856.2h6.4M433.9 853.0v6.4M445.2 858.8h6.4M448.4 855.6v6.4M455.0 851.6h6.4M458.2 848.4v6.4M465.3 854.2h6.4M468.5 851.0v6.4M459.6 841.4h6.4M462.8 838.2v6.4M450.9 843.2h6.4M454.1 840.0v6.4M452.2 856.7h6.4M455.4 853.5v6.4M460.0 851.5h6.4M463.2 848.3v6.4M460.1 843.9h6.4M463.3 840.7v6.4M450.8 854.8h6.4M454.0 851.6v6.4M470.1 844.5h6.4M473.3 841.3v6.4M459.6 844.9h6.4M462.8 841.7v6.4M448.3 863.5h6.4M451.5 860.3v6.4M465.5 859.4h6.4M468.7 856.2v6.4M462.5 841.7h6.4M465.7 838.5v6.4M455.4 863.7h6.4M458.6 860.5v6.4M458.3 857.1h6.4M461.5 853.9v6.4M469.8 857.1h6.4M473.0 853.9v6.4M451.2 861.9h6.4M454.4 858.7v6.4M464.5 845.8h6.4M467.7 842.6v6.4M447.8 847.8h6.4M451.0 844.6v6.4M457.0 846.0h6.4M460.2 842.8v6.4M455.9 851.0h6.4M459.1 847.8v6.4M451.9 861.4h6.4M455.1 858.2v6.4M462.2 862.9h6.4M465.4 859.7v6.4M461.7 844.5h6.4M464.9 841.3v6.4M448.4 847.0h6.4M451.6 843.8v6.4M460.0 860.9h6.4M463.2 857.7v6.4M466.4 862.1h6.4M469.6 858.9v6.4M465.1 852.3h6.4M468.3 849.1v6.4M455.4 843.7h6.4M458.6 840.5v6.4M447.0 858.7h6.4M450.2 855.5v6.4M461.5 846.4h6.4M464.7 843.2v6.4M449.7 840.5h6.4M452.9 837.3v6.4M457.8 845.8h6.4M461.0 842.6v6.4M467.3 841.6h6.4M470.5 838.4v6.4M458.5 851.1h6.4M461.7 847.9v6.4M462.8 844.8h6.4M466.0 841.6v6.4M460.9 845.9h6.4M464.1 842.7v6.4M456.4 845.4h6.4M459.6 842.2v6.4M490.6 852.4h6.4M493.8 849.2v6.4M471.2 851.6h6.4M474.4 848.4v6.4M491.2 842.5h6.4M494.4 839.3v6.4M491.0 856.1h6.4M494.2 852.9v6.4M488.7 857.7h6.4M491.9 854.5v6.4M471.6 849.9h6.4M474.8 846.7v6.4M490.8 856.8h6.4M494.0 853.6v6.4M488.9 854.8h6.4M492.1 851.6v6.4M479.9 860.0h6.4M483.1 856.8v6.4M474.0 860.5h6.4M477.2 857.3v6.4M490.7 851.6h6.4M493.9 848.4v6.4M485.0 857.2h6.4M488.2 854.0v6.4M471.3 843.8h6.4M474.5 840.6v6.4M490.1 846.9h6.4M493.3 843.7v6.4M480.6 858.5h6.4M483.8 855.3v6.4M487.2 841.4h6.4M490.4 838.2v6.4M480.3 845.4h6.4M483.5 842.2v6.4M481.5 849.4h6.4M484.7 846.2v6.4M479.6 858.7h6.4M482.8 855.5v6.4M482.2 855.1h6.4M485.4 851.9v6.4M475.8 847.4h6.4M479.0 844.2v6.4M482.0 854.5h6.4M485.2 851.3v6.4M481.0 858.7h6.4M484.2 855.5v6.4M479.6 845.7h6.4M482.8 842.5v6.4M478.1 851.4h6.4M481.3 848.2v6.4M491.2 857.8h6.4M494.4 854.6v6.4M476.0 863.1h6.4M479.2 859.9v6.4M492.1 855.4h6.4M495.3 852.2v6.4M483.2 860.9h6.4M486.4 857.7v6.4M487.0 854.6h6.4M490.2 851.4v6.4M471.8 852.6h6.4M475.0 849.4v6.4M491.1 850.1h6.4M494.3 846.9v6.4M493.4 849.0h6.4M496.6 845.8v6.4M481.0 859.2h6.4M484.2 856.0v6.4M481.2 844.7h6.4M484.4 841.5v6.4M485.7 842.2h6.4M488.9 839.0v6.4M473.4 854.9h6.4M476.6 851.7v6.4M483.6 842.9h6.4M486.8 839.7v6.4M504.7 840.4h6.4M507.9 837.2v6.4M515.3 860.4h6.4M518.5 857.2v6.4M496.8 848.5h6.4M500.0 845.3v6.4M500.7 855.6h6.4M503.9 852.4v6.4M507.1 853.4h6.4M510.3 850.2v6.4M515.5 853.8h6.4M518.7 850.6v6.4M508.5 857.5h6.4M511.7 854.3v6.4M500.4 857.8h6.4M503.6 854.6v6.4M517.1 854.8h6.4M520.3 851.6v6.4M516.7 847.6h6.4M519.9 844.4v6.4M502.4 853.6h6.4M505.6 850.4v6.4M496.2 852.5h6.4M499.4 849.3v6.4M497.3 854.2h6.4M500.5 851.0v6.4M517.5 840.5h6.4M520.7 837.3v6.4M502.9 840.4h6.4M506.1 837.2v6.4M503.1 848.2h6.4M506.3 845.0v6.4M494.9 843.5h6.4M498.1 840.3v6.4M509.7 851.6h6.4M512.9 848.4v6.4M511.3 848.6h6.4M514.5 845.4v6.4M511.9 855.4h6.4M515.1 852.2v6.4M513.3 847.2h6.4M516.5 844.0v6.4M506.6 841.8h6.4M509.8 838.6v6.4M502.4 852.1h6.4M505.6 848.9v6.4M514.7 862.3h6.4M517.9 859.1v6.4M416.5 870.8h6.4M419.7 867.6v6.4M408.5 882.0h6.4M411.7 878.8v6.4M420.3 886.4h6.4M423.5 883.2v6.4M407.7 872.0h6.4M410.9 868.8v6.4M416.7 876.0h6.4M419.9 872.8v6.4M419.0 874.5h6.4M422.2 871.3v6.4M402.4 873.3h6.4M405.6 870.1v6.4M412.0 881.1h6.4M415.2 877.9v6.4M407.8 887.3h6.4M411.0 884.1v6.4M402.3 873.5h6.4M405.5 870.3v6.4M403.6 867.9h6.4M406.8 864.7v6.4M419.4 886.0h6.4M422.6 882.8v6.4M421.7 877.4h6.4M424.9 874.2v6.4M399.8 864.9h6.4M403.0 861.7v6.4M404.6 886.9h6.4M407.8 883.7v6.4M406.8 886.7h6.4M410.0 883.5v6.4M407.9 865.0h6.4M411.1 861.8v6.4M417.6 881.5h6.4M420.8 878.3v6.4M412.8 877.2h6.4M416.0 874.0v6.4M439.6 868.2h6.4M442.8 865.0v6.4M431.0 873.4h6.4M434.2 870.2v6.4M425.8 879.0h6.4M429.0 875.8v6.4M436.0 867.7h6.4M439.2 864.5v6.4M467.6 866.0h6.4M470.8 862.8v6.4M455.8 868.8h6.4M459.0 865.6v6.4M465.1 868.4h6.4M468.3 865.2v6.4M448.4 883.6h6.4M451.6 880.4v6.4M479.6 881.9h6.4M482.8 878.7v6.4M487.9 884.9h6.4M491.1 881.7v6.4M479.1 883.3h6.4M482.3 880.1v6.4M483.3 883.7h6.4M486.5 880.5v6.4M477.5 866.7h6.4M480.7 863.5v6.4M510.1 886.0h6.4M513.3 882.8v6.4M502.2 877.4h6.4M505.4 874.2v6.4M412.7 890.0h6.4M415.9 886.8v6.4M413.6 906.8h6.4M416.8 903.6v6.4M406.2 888.3h6.4M409.4 885.1v6.4M407.0 898.0h6.4M410.2 894.8v6.4M413.3 892.3h6.4M416.5 889.1v6.4M400.0 909.4h6.4M403.2 906.2v6.4M412.1 898.3h6.4M415.3 895.1v6.4M417.5 890.1h6.4M420.7 886.9v6.4M415.2 932.1h6.4M418.4 928.9v6.4M432.3 369.7h6.4M435.5 366.5v6.4M468.9 363.8h6.4M472.1 360.6v6.4M462.1 371.9h6.4M465.3 368.7v6.4M482.8 375.3h6.4M486.0 372.1v6.4M484.7 376.1h6.4M487.9 372.9v6.4M572.8 378.2h6.4M576.0 375.0v6.4M433.5 390.1h6.4M436.7 386.9v6.4M426.7 402.1h6.4M429.9 398.9v6.4M444.9 405.0h6.4M448.1 401.8v6.4M489.7 407.1h6.4M492.9 403.9v6.4M566.1 396.9h6.4M569.3 393.7v6.4M584.3 386.0h6.4M587.5 382.8v6.4M447.5 410.6h6.4M450.7 407.4v6.4M485.8 430.8h6.4M489.0 427.6v6.4M482.2 430.0h6.4M485.4 426.8v6.4M499.5 424.7h6.4M502.7 421.5v6.4M510.1 411.3h6.4M513.3 408.1v6.4M502.2 425.2h6.4M505.4 422.0v6.4M411.5 448.9h6.4M414.7 445.7v6.4M458.9 451.8h6.4M462.1 448.6v6.4M461.0 445.8h6.4M464.2 442.6v6.4M466.8 452.5h6.4M470.0 449.3v6.4M486.3 455.8h6.4M489.5 452.6v6.4M486.1 452.9h6.4M489.3 449.7v6.4M483.5 451.6h6.4M486.7 448.4v6.4M479.4 442.1h6.4M482.6 438.9v6.4M511.1 453.9h6.4M514.3 450.7v6.4M539.2 453.1h6.4M542.4 449.9v6.4M558.3 454.0h6.4M561.5 450.8v6.4M422.6 459.7h6.4M425.8 456.5v6.4M429.6 463.8h6.4M432.8 460.6v6.4M434.2 475.9h6.4M437.4 472.7v6.4M444.0 471.2h6.4M447.2 468.0v6.4M448.3 465.3h6.4M451.5 462.1v6.4M463.4 476.8h6.4M466.6 473.6v6.4M450.3 476.8h6.4M453.5 473.6v6.4M490.1 475.1h6.4M493.3 471.9v6.4M510.4 479.9h6.4M513.6 476.7v6.4M512.5 466.5h6.4M515.7 463.3v6.4M422.4 492.5h6.4M425.6 489.3v6.4M446.1 493.6h6.4M449.3 490.4v6.4M465.4 496.8h6.4M468.6 493.6v6.4M447.4 482.9h6.4M450.6 479.7v6.4M468.1 481.3h6.4M471.3 478.1v6.4M481.3 493.1h6.4M484.5 489.9v6.4M491.4 485.3h6.4M494.6 482.1v6.4M478.8 500.3h6.4M482.0 497.1v6.4M481.2 497.8h6.4M484.4 494.6v6.4M474.2 497.1h6.4M477.4 493.9v6.4M482.5 503.0h6.4M485.7 499.8v6.4M481.0 489.1h6.4M484.2 485.9v6.4M478.2 484.9h6.4M481.4 481.7v6.4M485.9 483.8h6.4M489.1 480.6v6.4M502.4 492.0h6.4M505.6 488.8v6.4M515.3 485.2h6.4M518.5 482.0v6.4M498.5 502.1h6.4M501.7 498.9v6.4M535.9 489.1h6.4M539.1 485.9v6.4M520.7 487.6h6.4M523.9 484.4v6.4M523.3 481.8h6.4M526.5 478.6v6.4M406.7 513.3h6.4M409.9 510.1v6.4M416.3 527.3h6.4M419.5 524.1v6.4M429.1 509.7h6.4M432.3 506.5v6.4M427.9 508.3h6.4M431.1 505.1v6.4M464.1 517.6h6.4M467.3 514.4v6.4M450.9 514.2h6.4M454.1 511.0v6.4M480.2 515.6h6.4M483.4 512.4v6.4M488.9 524.2h6.4M492.1 521.0v6.4M490.5 516.0h6.4M493.7 512.8v6.4M488.8 527.7h6.4M492.0 524.5v6.4M517.5 516.5h6.4M520.7 513.3v6.4M515.1 507.5h6.4M518.3 504.3v6.4M506.6 515.4h6.4M509.8 512.2v6.4M505.8 517.8h6.4M509.0 514.6v6.4M541.3 512.1h6.4M544.5 508.9v6.4M528.5 523.9h6.4M531.7 520.7v6.4M555.2 517.1h6.4M558.4 513.9v6.4M420.5 528.0h6.4M423.7 524.8v6.4M409.4 547.2h6.4M412.6 544.0v6.4M411.3 536.2h6.4M414.5 533.0v6.4M425.3 544.4h6.4M428.5 541.2v6.4M461.5 531.1h6.4M464.7 527.9v6.4M446.8 540.6h6.4M450.0 537.4v6.4M460.1 546.5h6.4M463.3 543.3v6.4M485.2 528.8h6.4M488.4 525.6v6.4M487.6 535.8h6.4M490.8 532.6v6.4M487.8 543.9h6.4M491.0 540.7v6.4M490.1 534.7h6.4M493.3 531.5v6.4M481.3 538.1h6.4M484.5 534.9v6.4M505.9 536.2h6.4M509.1 533.0v6.4M496.4 533.1h6.4M499.6 529.9v6.4M504.9 533.6h6.4M508.1 530.4v6.4M508.4 536.5h6.4M511.6 533.3v6.4M510.2 533.0h6.4M513.4 529.8v6.4M532.7 541.9h6.4M535.9 538.7v6.4M541.4 546.2h6.4M544.6 543.0v6.4M539.9 540.7h6.4M543.1 537.5v6.4M532.0 528.8h6.4M535.2 525.6v6.4M530.7 538.7h6.4M533.9 535.5v6.4M544.4 538.2h6.4M547.6 535.0v6.4M554.5 539.4h6.4M557.7 536.2v6.4M590.8 529.9h6.4M594.0 526.7v6.4M411.5 559.5h6.4M414.7 556.3v6.4M406.9 562.5h6.4M410.1 559.3v6.4M420.4 572.9h6.4M423.6 569.7v6.4M402.8 559.1h6.4M406.0 555.9v6.4M437.2 568.6h6.4M440.4 565.4v6.4M437.3 558.3h6.4M440.5 555.1v6.4M463.1 563.5h6.4M466.3 560.3v6.4M481.9 574.0h6.4M485.1 570.8v6.4M477.3 572.5h6.4M480.5 569.3v6.4M487.3 568.5h6.4M490.5 565.3v6.4M479.2 559.5h6.4M482.4 556.3v6.4M511.4 565.6h6.4M514.6 562.4v6.4M496.5 555.3h6.4M499.7 552.1v6.4M511.5 552.5h6.4M514.7 549.3v6.4M506.5 554.7h6.4M509.7 551.5v6.4M511.3 559.1h6.4M514.5 555.9v6.4M533.7 560.7h6.4M536.9 557.5v6.4M538.6 552.9h6.4M541.8 549.7v6.4M542.2 568.9h6.4M545.4 565.7v6.4M518.9 553.9h6.4M522.1 550.7v6.4M530.3 573.5h6.4M533.5 570.3v6.4M527.2 552.0h6.4M530.4 548.8v6.4M538.0 555.9h6.4M541.2 552.7v6.4M524.5 570.5h6.4M527.7 567.3v6.4M556.9 573.1h6.4M560.1 569.9v6.4M562.4 552.5h6.4M565.6 549.3v6.4M581.8 570.8h6.4M585.0 567.6v6.4M412.5 594.7h6.4M415.7 591.5v6.4M415.6 588.6h6.4M418.8 585.4v6.4M419.6 592.5h6.4M422.8 589.3v6.4M404.9 589.7h6.4M408.1 586.5v6.4M420.2 591.5h6.4M423.4 588.3v6.4M444.0 578.3h6.4M447.2 575.1v6.4M428.3 584.4h6.4M431.5 581.2v6.4M437.1 580.9h6.4M440.3 577.7v6.4M448.9 593.2h6.4M452.1 590.0v6.4M458.0 580.5h6.4M461.2 577.3v6.4M470.1 576.5h6.4M473.3 573.3v6.4M463.3 597.6h6.4M466.5 594.4v6.4M464.6 587.2h6.4M467.8 584.0v6.4M476.5 591.7h6.4M479.7 588.5v6.4M474.7 598.8h6.4M477.9 595.6v6.4M483.6 585.4h6.4M486.8 582.2v6.4M505.8 599.2h6.4M509.0 596.0v6.4M497.5 593.3h6.4M500.7 590.1v6.4M498.2 582.2h6.4M501.4 579.0v6.4M500.7 592.2h6.4M503.9 589.0v6.4M509.9 582.7h6.4M513.1 579.5v6.4M507.3 595.6h6.4M510.5 592.4v6.4M496.1 586.2h6.4M499.3 583.0v6.4M503.3 594.3h6.4M506.5 591.1v6.4M515.4 595.7h6.4M518.6 592.5v6.4M528.1 597.4h6.4M531.3 594.2v6.4M537.0 588.9h6.4M540.2 585.7v6.4M540.6 577.7h6.4M543.8 574.5v6.4M526.9 593.9h6.4M530.1 590.7v6.4M534.7 599.0h6.4M537.9 595.8v6.4M539.8 591.5h6.4M543.0 588.3v6.4M529.1 586.1h6.4M532.3 582.9v6.4M541.5 582.3h6.4M544.7 579.1v6.4M524.8 576.3h6.4M528.0 573.1v6.4M544.9 596.1h6.4M548.1 592.9v6.4M550.2 585.0h6.4M553.4 581.8v6.4M565.6 581.8h6.4M568.8 578.6v6.4" stroke="#888" stroke-width="1.7" fill="none"/><g fill="#ff0000"><circle cx="518.7" cy="475.8" r="5.4"/><circle cx="470.3" cy="530.8" r="5.4"/><circle cx="465.8" cy="555.4" r="5.4"/><circle cx="488.3" cy="563.9" r="5.4"/><circle cx="470.1" cy="571.8" r="5.4"/><circle cx="492.1" cy="582.0" r="5.4"/><circle cx="492.1" cy="592.1" r="5.4"/><circle cx="482.0" cy="357.0" r="5.4"/><circle cx="470.1" cy="297.4" r="5.4"/><circle cx="482.0" cy="295.3" r="5.4"/><circle cx="334.8" cy="373.6" r="5.4"/><circle cx="375.2" cy="472.0" r="5.4"/><circle cx="375.2" cy="477.0" r="5.4"/><circle cx="354.9" cy="481.9" r="5.4"/><circle cx="364.3" cy="535.2" r="5.4"/><circle cx="350.8" cy="557.9" r="5.4"/><circle cx="361.4" cy="573.8" r="5.4"/><circle cx="352.5" cy="596.5" r="5.4"/><circle cx="350.2" cy="604.5" r="5.4"/><circle cx="354.1" cy="611.3" r="5.4"/><circle cx="364.3" cy="619.2" r="5.4"/><circle cx="353.5" cy="625.4" r="5.4"/><circle cx="362.0" cy="641.1" r="5.4"/><circle cx="373.8" cy="637.2" r="5.4"/><circle cx="377.8" cy="645.6" r="5.4"/><circle cx="392.4" cy="639.4" r="5.4"/><circle cx="393.5" cy="651.8" r="5.4"/><circle cx="347.4" cy="662.0" r="5.4"/><circle cx="353.0" cy="660.3" r="5.4"/><circle cx="366.5" cy="658.6" r="5.4"/><circle cx="368.8" cy="663.1" r="5.4"/><circle cx="381.7" cy="660.3" r="5.4"/><circle cx="366.5" cy="673.2" r="5.4"/><circle cx="380.0" cy="674.9" r="5.4"/><circle cx="400.3" cy="670.4" r="5.4"/><circle cx="338.9" cy="682.8" r="5.4"/><circle cx="340.6" cy="695.2" r="5.4"/><circle cx="359.7" cy="685.1" r="5.4"/><circle cx="372.1" cy="689.0" r="5.4"/><circle cx="369.9" cy="693.5" r="5.4"/><circle cx="390.2" cy="693.0" r="5.4"/><circle cx="380.0" cy="699.2" r="5.4"/><circle cx="375.5" cy="707.0" r="5.4"/><circle cx="384.5" cy="709.9" r="5.4"/><circle cx="399.2" cy="705.4" r="5.4"/><circle cx="386.8" cy="716.1" r="5.4"/><circle cx="396.9" cy="717.2" r="5.4"/><circle cx="363.1" cy="719.4" r="5.4"/><circle cx="486.3" cy="631.5" r="5.4"/><circle cx="516.9" cy="693.0" r="5.4"/><circle cx="529.3" cy="662.0" r="5.4"/><circle cx="363.1" cy="723.4" r="5.4"/><circle cx="345.1" cy="735.8" r="5.4"/><circle cx="353.0" cy="740.3" r="5.4"/><circle cx="368.8" cy="738.0" r="5.4"/><circle cx="376.6" cy="724.5" r="5.4"/><circle cx="386.8" cy="724.5" r="5.4"/><circle cx="398.1" cy="724.5" r="5.4"/><circle cx="381.2" cy="734.6" r="5.4"/><circle cx="392.4" cy="735.8" r="5.4"/><circle cx="380.0" cy="745.9" r="5.4"/><circle cx="390.2" cy="747.0" r="5.4"/><circle cx="399.2" cy="745.9" r="5.4"/><circle cx="387.9" cy="757.2" r="5.4"/><circle cx="398.1" cy="758.3" r="5.4"/><circle cx="394.7" cy="767.3" r="5.4"/><circle cx="399.7" cy="775.2" r="5.4"/><circle cx="366.5" cy="753.8" r="5.4"/><circle cx="365.4" cy="760.6" r="5.4"/><circle cx="363.1" cy="780.8" r="5.4"/><circle cx="375.5" cy="777.5" r="5.4"/><circle cx="381.2" cy="783.1" r="5.4"/><circle cx="363.1" cy="788.7" r="5.4"/><circle cx="385.7" cy="796.6" r="5.4"/><circle cx="385.7" cy="803.4" r="5.4"/><circle cx="393.5" cy="810.1" r="5.4"/><circle cx="399.2" cy="796.6" r="5.4"/><circle cx="399.2" cy="805.6" r="5.4"/><circle cx="377.8" cy="818.0" r="5.4"/><circle cx="383.4" cy="824.8" r="5.4"/><circle cx="390.2" cy="830.4" r="5.4"/><circle cx="395.8" cy="834.9" r="5.4"/><circle cx="398.1" cy="821.4" r="5.4"/><circle cx="355.2" cy="827.6" r="5.4"/><circle cx="330.5" cy="833.8" r="5.4"/><circle cx="407.6" cy="724.5" r="5.4"/><circle cx="417.8" cy="729.0" r="5.4"/><circle cx="431.3" cy="725.6" r="5.4"/><circle cx="463.4" cy="738.0" r="5.4"/><circle cx="475.8" cy="746.5" r="5.4"/><circle cx="484.8" cy="756.6" r="5.4"/><circle cx="520.9" cy="769.6" r="5.4"/><circle cx="405.4" cy="740.3" r="5.4"/><circle cx="405.4" cy="750.4" r="5.4"/><circle cx="408.8" cy="757.2" r="5.4"/><circle cx="413.3" cy="752.7" r="5.4"/><circle cx="414.4" cy="758.3" r="5.4"/><circle cx="431.3" cy="743.7" r="5.4"/><circle cx="427.9" cy="757.2" r="5.4"/><circle cx="435.8" cy="756.1" r="5.4"/><circle cx="427.9" cy="762.8" r="5.4"/><circle cx="405.4" cy="767.3" r="5.4"/><circle cx="406.5" cy="774.1" r="5.4"/><circle cx="405.4" cy="780.8" r="5.4"/><circle cx="418.9" cy="774.1" r="5.4"/><circle cx="427.9" cy="778.6" r="5.4"/><circle cx="430.2" cy="785.4" r="5.4"/><circle cx="443.7" cy="767.3" r="5.4"/><circle cx="444.8" cy="774.1" r="5.4"/><circle cx="441.4" cy="783.1" r="5.4"/><circle cx="411.0" cy="791.0" r="5.4"/><circle cx="486.5" cy="780.8" r="5.4"/><circle cx="425.7" cy="805.6" r="5.4"/><circle cx="435.8" cy="803.4" r="5.4"/><circle cx="449.3" cy="801.1" r="5.4"/><circle cx="482.0" cy="801.1" r="5.4"/><circle cx="495.5" cy="796.6" r="5.4"/><circle cx="498.9" cy="803.4" r="5.4"/><circle cx="447.1" cy="811.3" r="5.4"/><circle cx="445.9" cy="820.3" r="5.4"/><circle cx="445.9" cy="829.3" r="5.4"/><circle cx="456.1" cy="815.8" r="5.4"/><circle cx="456.1" cy="824.8" r="5.4"/><circle cx="467.4" cy="811.3" r="5.4"/><circle cx="469.6" cy="820.3" r="5.4"/><circle cx="467.4" cy="828.2" r="5.4"/><circle cx="478.6" cy="816.9" r="5.4"/><circle cx="487.6" cy="812.4" r="5.4"/><circle cx="492.1" cy="819.2" r="5.4"/><circle cx="487.6" cy="825.9" r="5.4"/><circle cx="480.9" cy="825.9" r="5.4"/><circle cx="504.5" cy="823.7" r="5.4"/><circle cx="498.9" cy="832.7" r="5.4"/><circle cx="520.3" cy="813.5" r="5.4"/><circle cx="511.3" cy="837.7" r="5.4"/><circle cx="461.7" cy="837.2" r="5.4"/><circle cx="406.5" cy="813.5" r="5.4"/><circle cx="406.5" cy="821.4" r="5.4"/><circle cx="415.5" cy="811.3" r="5.4"/><circle cx="426.8" cy="828.2" r="5.4"/><circle cx="408.8" cy="830.4" r="5.4"/><circle cx="414.4" cy="834.9" r="5.4"/><circle cx="560.3" cy="780.8" r="5.4"/><circle cx="603.1" cy="778.6" r="5.4"/><circle cx="617.8" cy="787.0" r="5.4"/><circle cx="635.8" cy="791.0" r="5.4"/><circle cx="526.5" cy="791.0" r="5.4"/><circle cx="527.6" cy="805.6" r="5.4"/><circle cx="528.8" cy="813.5" r="5.4"/><circle cx="539.5" cy="819.7" r="5.4"/><circle cx="551.9" cy="816.9" r="5.4"/><circle cx="552.4" cy="825.9" r="5.4"/><circle cx="566.5" cy="819.7" r="5.4"/><circle cx="531.0" cy="829.9" r="5.4"/><circle cx="537.8" cy="837.7" r="5.4"/><circle cx="605.4" cy="817.5" r="5.4"/><circle cx="406.7" cy="852.9" r="5.4"/><circle cx="420.8" cy="845.9" r="5.4"/><circle cx="433.1" cy="846.5" r="5.4"/><circle cx="461.9" cy="841.8" r="5.4"/><circle cx="476.0" cy="854.7" r="5.4"/><circle cx="461.9" cy="863.5" r="5.4"/><circle cx="494.8" cy="843.5" r="5.4"/><circle cx="500.6" cy="848.8" r="5.4"/><circle cx="511.8" cy="842.3" r="5.4"/><circle cx="439.6" cy="864.6" r="5.4"/><circle cx="443.1" cy="869.3" r="5.4"/><circle cx="451.3" cy="870.5" r="5.4"/><circle cx="450.1" cy="878.7" r="5.4"/><circle cx="431.4" cy="881.7" r="5.4"/><circle cx="403.8" cy="894.0" r="5.4"/><circle cx="306.1" cy="840.0" r="5.4"/><circle cx="363.8" cy="839.0" r="5.4"/><circle cx="339.0" cy="861.1" r="5.4"/><circle cx="391.8" cy="851.7" r="5.4"/><circle cx="391.8" cy="856.4" r="5.4"/><circle cx="363.6" cy="887.6" r="5.4"/><circle cx="390.0" cy="887.0" r="5.4"/><circle cx="395.9" cy="890.5" r="5.4"/><circle cx="171.0" cy="942.8" r="5.4"/><circle cx="246.4" cy="939.6" r="5.4"/><circle cx="246.4" cy="943.8" r="5.4"/><circle cx="471.6" cy="327.9" r="5.4"/><circle cx="643.8" cy="750.0" r="5.4"/></g><path d="M584.1 18.9C582.0 25.8 575.3 48.1 571.8 60.0C568.3 71.8 566.2 80.0 563.1 90.0C560.0 100.0 556.7 110.0 553.3 120.0C549.9 130.0 545.5 141.3 542.5 150.0C539.5 158.7 537.2 166.2 535.5 172.0C533.8 177.8 533.0 179.1 532.0 185.0C531.0 190.9 530.8 200.1 529.5 207.6C528.2 215.1 526.7 222.6 524.5 230.1C522.3 237.6 519.3 245.2 516.5 252.7C513.7 260.2 509.9 268.6 507.6 275.2C505.3 281.8 504.0 286.4 502.5 292.0C501.0 297.6 500.2 302.4 498.6 309.0C497.0 315.6 494.8 325.6 493.0 331.6C491.2 337.6 489.8 340.8 488.0 345.0C486.2 349.2 483.7 354.2 482.0 356.8C480.3 359.4 480.0 359.9 478.0 360.3C476.0 360.7 473.0 359.7 470.0 359.4C467.0 359.1 463.5 358.4 460.0 358.3C456.5 358.2 453.1 356.8 449.0 358.6C444.9 360.5 441.4 364.8 435.6 369.4C429.9 374.0 421.1 380.2 414.5 386.3C407.9 392.4 401.4 399.4 396.2 406.0C391.0 412.6 387.0 419.7 383.5 425.8C380.0 431.9 377.5 436.8 375.1 442.7C372.8 448.6 371.3 453.5 369.4 461.0C367.5 468.5 364.8 480.1 363.5 487.9C362.2 495.7 362.0 501.0 361.5 507.6C361.0 514.2 360.8 518.8 360.5 527.3C360.2 535.8 360.3 542.0 360.0 558.9C359.7 575.8 358.4 610.7 358.5 628.9C358.6 647.1 359.4 655.3 360.4 668.3C361.4 681.3 363.2 697.6 364.5 706.9C365.8 716.1 366.8 718.2 367.9 723.8C369.0 729.4 370.0 735.4 371.3 740.7C372.6 746.1 373.9 751.7 375.5 755.9C377.1 760.1 378.4 762.7 380.6 766.1C382.9 769.5 386.2 773.1 389.0 776.2C391.8 779.3 395.0 781.8 397.5 784.6C400.0 787.4 402.4 790.3 404.2 793.1C406.0 795.9 407.0 798.1 408.4 801.5C409.8 804.9 411.1 809.4 412.7 813.4C414.2 817.4 416.0 821.3 417.7 825.2C419.4 829.1 421.1 832.8 422.8 837.0C424.5 841.2 426.2 845.5 427.9 850.6C429.6 855.7 429.9 860.0 433.0 867.5C436.1 875.0 441.6 887.2 446.4 895.5C451.1 903.8 456.1 910.6 461.5 917.1C466.9 923.6 473.4 928.6 478.8 934.4C484.2 940.2 489.2 947.0 493.9 951.7C498.6 956.4 504.7 960.7 506.9 962.5" stroke="#000" stroke-width="3.9" fill="none" stroke-linejoin="round" stroke-linecap="round"/><path d="M496.3 318.0C495.9 318.8 495.2 321.8 494.1 322.5C493.0 323.2 490.9 323.6 489.6 322.5C488.3 321.4 486.8 319.9 486.2 315.8C485.6 311.7 485.6 302.2 486.2 297.7C486.8 293.2 487.2 292.4 489.6 288.7C492.0 284.9 497.8 280.4 500.8 275.2C503.8 269.9 505.6 262.2 507.6 257.2C509.6 252.2 511.2 249.5 513.0 245.0C514.8 240.5 516.6 236.3 518.5 230.1C520.4 223.9 522.6 214.6 524.5 207.6C526.4 200.6 529.1 191.3 530.0 188.0" stroke="#000" stroke-width="3.9" fill="none" stroke-linejoin="round" stroke-linecap="round"/><path d="M534.0 178.0C532.9 182.9 529.6 198.9 527.5 207.6C525.4 216.3 523.7 222.6 521.5 230.1C519.3 237.6 515.7 248.9 514.5 252.7" stroke="#000" stroke-width="7" fill="none" stroke-linejoin="round" stroke-linecap="round"/><ellipse cx="360.4" cy="516.5" rx="3.6" ry="7.5" fill="#000"/><rect x="114.6" y="17.8" width="577.8" height="946.8" fill="none" stroke="#000" stroke-width="4"/><line x1="115.9" y1="964.6" x2="115.9" y2="975.2" stroke="#000" stroke-width="2.3" stroke-linecap="round"/><text x="114.4" y="1007.6" text-anchor="middle" textLength="71.3" lengthAdjust="spacingAndGlyphs" >−1.0</text><line x1="212.1" y1="964.6" x2="212.1" y2="975.2" stroke="#000" stroke-width="2.3" stroke-linecap="round"/><text x="210.6" y="1007.6" text-anchor="middle" textLength="71.3" lengthAdjust="spacingAndGlyphs" >−0.5</text><line x1="308.3" y1="964.6" x2="308.3" y2="975.2" stroke="#000" stroke-width="2.3" stroke-linecap="round"/><text x="306.8" y="1007.6" text-anchor="middle" textLength="48.2" lengthAdjust="spacingAndGlyphs" >0.0</text><line x1="404.5" y1="964.6" x2="404.5" y2="975.2" stroke="#000" stroke-width="2.3" stroke-linecap="round"/><text x="403.0" y="1007.6" text-anchor="middle" textLength="48.2" lengthAdjust="spacingAndGlyphs" >0.5</text><line x1="500.7" y1="964.6" x2="500.7" y2="975.2" stroke="#000" stroke-width="2.3" stroke-linecap="round"/><text x="499.2" y="1007.6" text-anchor="middle" textLength="48.2" lengthAdjust="spacingAndGlyphs" >1.0</text><line x1="596.9" y1="964.6" x2="596.9" y2="975.2" stroke="#000" stroke-width="2.3" stroke-linecap="round"/><text x="595.4" y="1007.6" text-anchor="middle" textLength="48.2" lengthAdjust="spacingAndGlyphs" >1.5</text><line x1="693.1" y1="964.6" x2="693.1" y2="975.2" stroke="#000" stroke-width="2.3" stroke-linecap="round"/><text x="691.6" y="1007.6" text-anchor="middle" textLength="48.2" lengthAdjust="spacingAndGlyphs" >2.0</text><line x1="105.8" y1="98.7" x2="114.6" y2="98.7" stroke="#000" stroke-width="2.3" stroke-linecap="round"/><text x="98.0" y="108.5" text-anchor="end" textLength="18.6" lengthAdjust="spacingAndGlyphs" >6</text><line x1="105.8" y1="256.5" x2="114.6" y2="256.5" stroke="#000" stroke-width="2.3" stroke-linecap="round"/><text x="98.0" y="266.3" text-anchor="end" textLength="18.6" lengthAdjust="spacingAndGlyphs" >8</text><line x1="105.8" y1="414.3" x2="114.6" y2="414.3" stroke="#000" stroke-width="2.3" stroke-linecap="round"/><text x="94.7" y="424.1" text-anchor="end" textLength="37.8" lengthAdjust="spacingAndGlyphs" >10</text><line x1="105.8" y1="572.0" x2="114.6" y2="572.0" stroke="#000" stroke-width="2.3" stroke-linecap="round"/><text x="94.7" y="581.8" text-anchor="end" textLength="37.8" lengthAdjust="spacingAndGlyphs" >12</text><line x1="105.8" y1="729.8" x2="114.6" y2="729.8" stroke="#000" stroke-width="2.3" stroke-linecap="round"/><text x="94.7" y="739.6" text-anchor="end" textLength="37.8" lengthAdjust="spacingAndGlyphs" >14</text><line x1="105.8" y1="887.6" x2="114.6" y2="887.6" stroke="#000" stroke-width="2.3" stroke-linecap="round"/><text x="94.7" y="897.4" text-anchor="end" textLength="37.8" lengthAdjust="spacingAndGlyphs" >16</text><path d="M999.6 211.3h6.4M1002.8 208.1v6.4M1058.7 269.0h6.4M1061.9 265.8v6.4M1024.1 299.4h6.4M1027.3 296.2v6.4M1060.7 344.5h6.4M1063.9 341.3v6.4M1044.1 371.3h6.4M1047.3 368.1v6.4M1095.3 398.6h6.4M1098.5 395.4v6.4M1191.6 131.4h6.4M1194.8 128.2v6.4M1205.7 143.6h6.4M1208.9 140.4v6.4M1202.2 172.2h6.4M1205.4 169.0v6.4M1134.4 176.3h6.4M1137.6 173.1v6.4M1140.4 189.1h6.4M1143.6 185.9v6.4M1142.6 262.6h6.4M1145.8 259.4v6.4M1107.7 268.9h6.4M1110.9 265.7v6.4M1124.0 281.2h6.4M1127.2 278.0v6.4M1152.6 274.4h6.4M1155.8 271.2v6.4M1179.3 274.4h6.4M1182.5 271.2v6.4M1202.2 281.2h6.4M1205.4 278.0v6.4M1128.1 293.4h6.4M1131.3 290.2v6.4M1130.6 346.6h6.4M1133.8 343.4v6.4M1169.2 344.7h6.4M1172.4 341.5v6.4M1125.0 362.6h6.4M1128.2 359.4v6.4M1128.8 362.6h6.4M1132.0 359.4v6.4M1113.7 389.8h6.4M1116.9 386.6v6.4M1120.3 391.7h6.4M1123.5 388.5v6.4M1128.8 387.6h6.4M1132.0 384.4v6.4M1132.5 387.6h6.4M1135.7 384.4v6.4M1189.8 379.5h6.4M1193.0 376.3v6.4M847.7 590.4h6.4M850.9 587.2v6.4M1007.8 580.3h6.4M1011.0 577.1v6.4M1019.7 475.9h6.4M1022.9 472.7v6.4M1027.6 496.5h6.4M1030.8 493.3v6.4M1033.7 472.1h6.4M1036.9 468.9v6.4M1040.4 465.4h6.4M1043.6 462.2v6.4M1015.6 510.4h6.4M1018.8 507.2v6.4M1015.6 520.6h6.4M1018.8 517.4v6.4M1020.1 518.3h6.4M1023.3 515.1v6.4M1019.7 533.0h6.4M1022.9 529.8v6.4M1040.4 533.0h6.4M1043.6 529.8v6.4M1015.6 543.1h6.4M1018.8 539.9v6.4M1016.8 547.6h6.4M1020.0 544.4v6.4M1025.8 549.9h6.4M1029.0 546.7v6.4M1029.2 557.7h6.4M1032.4 554.5v6.4M1021.3 566.3h6.4M1024.5 563.1v6.4M1024.2 573.5h6.4M1027.4 570.3v6.4M1040.0 573.5h6.4M1043.2 570.3v6.4M1040.4 586.6h6.4M1043.6 583.4v6.4M1015.6 600.6h6.4M1018.8 597.4v6.4M1024.2 609.6h6.4M1027.4 606.4v6.4M1023.5 619.7h6.4M1026.7 616.5v6.4M1027.6 625.4h6.4M1030.8 622.2v6.4M1040.0 603.9h6.4M1043.2 600.7v6.4M1041.5 606.2h6.4M1044.7 603.0v6.4M1039.3 625.4h6.4M1042.5 622.2v6.4M1041.5 418.0h6.4M1044.7 414.8v6.4M1040.4 436.1h6.4M1043.6 432.9v6.4M1040.4 499.2h6.4M1043.6 496.0v6.4M1038.2 546.5h6.4M1041.4 543.3v6.4M1238.8 330.0h6.4M1242.0 326.8v6.4M1214.4 352.6h6.4M1217.6 349.4v6.4M1204.3 375.9h6.4M1207.5 372.7v6.4M921.4 680.6h6.4M924.6 677.4v6.4M949.8 680.6h6.4M953.0 677.4v6.4M812.8 754.5h6.4M816.0 751.3v6.4M864.2 783.1h6.4M867.4 779.9v6.4M851.8 789.2h6.4M855.0 786.0v6.4M907.0 780.8h6.4M910.2 777.6v6.4M930.0 775.2h6.4M933.2 772.0v6.4M907.0 803.8h6.4M910.2 800.6v6.4M960.4 811.7h6.4M963.6 808.5v6.4M958.2 818.5h6.4M961.4 815.3v6.4M945.8 830.4h6.4M949.0 827.2v6.4M966.5 832.7h6.4M969.7 829.5v6.4M988.6 818.5h6.4M991.8 815.3v6.4M1003.2 695.2h6.4M1006.4 692.0v6.4M1017.9 662.5h6.4M1021.1 659.3v6.4M1024.6 686.2h6.4M1027.8 683.0v6.4M1021.3 717.7h6.4M1024.5 714.5v6.4M1030.3 748.2h6.4M1033.5 745.0v6.4M1020.1 774.1h6.4M1023.3 770.9v6.4M1013.4 783.1h6.4M1016.6 779.9v6.4M1033.7 793.2h6.4M1036.9 790.0v6.4M1035.9 800.0h6.4M1039.1 796.8v6.4M1039.3 791.0h6.4M1042.5 787.8v6.4M1009.3 811.7h6.4M1012.5 808.5v6.4M1016.8 811.7h6.4M1020.0 808.5v6.4M1029.2 813.5h6.4M1032.4 810.3v6.4M1005.5 820.3h6.4M1008.7 817.1v6.4M1020.1 824.8h6.4M1023.3 821.6v6.4M1026.9 827.0h6.4M1030.1 823.8v6.4M1033.7 827.0h6.4M1036.9 823.8v6.4M1038.2 824.8h6.4M1041.4 821.6v6.4M995.3 836.1h6.4M998.5 832.9v6.4M1020.1 836.1h6.4M1023.3 832.9v6.4M1025.8 838.3h6.4M1029.0 835.1v6.4M1035.9 836.1h6.4M1039.1 832.9v6.4M1038.2 842.8h6.4M1041.4 839.6v6.4M1005.5 844.6h6.4M1008.7 841.4v6.4M1019.7 848.5h6.4M1022.9 845.3v6.4M1005.5 857.5h6.4M1008.7 854.3v6.4M1025.8 857.5h6.4M1029.0 854.3v6.4M1039.3 854.1h6.4M1042.5 850.9v6.4M1017.9 864.9h6.4M1021.1 861.7v6.4M986.8 871.0h6.4M990.0 867.8v6.4M1005.5 871.0h6.4M1008.7 867.8v6.4M1022.4 872.1h6.4M1025.6 868.9v6.4M1029.2 874.4h6.4M1032.4 871.2v6.4M1035.9 874.4h6.4M1039.1 871.2v6.4M1042.7 797.7h6.4M1045.9 794.5v6.4M1042.7 831.5h6.4M1045.9 828.3v6.4M1040.4 849.6h6.4M1043.6 846.4v6.4M1169.6 641.1h6.4M1172.8 637.9v6.4M1167.3 645.6h6.4M1170.5 642.4v6.4M1175.2 649.0h6.4M1178.4 645.8v6.4M1181.4 649.0h6.4M1184.6 645.8v6.4M1189.8 647.9h6.4M1193.0 644.7v6.4M1193.8 645.6h6.4M1197.0 642.4v6.4M1167.9 658.6h6.4M1171.1 655.4v6.4M1169.6 660.3h6.4M1172.8 657.1v6.4M1179.5 656.3h6.4M1182.7 653.1v6.4M1185.9 666.5h6.4M1189.1 663.3v6.4M1167.3 682.8h6.4M1170.5 679.6v6.4M1167.3 687.3h6.4M1170.5 684.1v6.4M1173.5 686.8h6.4M1176.7 683.6v6.4M1181.4 685.1h6.4M1184.6 681.9v6.4M1163.9 693.0h6.4M1167.1 689.8v6.4M1177.4 693.0h6.4M1180.6 689.8v6.4M1167.9 703.7h6.4M1171.1 700.5v6.4M1169.6 705.4h6.4M1172.8 702.2v6.4M1169.6 709.3h6.4M1172.8 706.1v6.4M1179.7 707.4h6.4M1182.9 704.2v6.4M1163.9 715.5h6.4M1167.1 712.3v6.4M1173.5 719.4h6.4M1176.7 716.2v6.4M1193.8 723.9h6.4M1197.0 720.7v6.4M1163.9 744.2h6.4M1167.1 741.0v6.4M1171.3 744.2h6.4M1174.5 741.0v6.4M1172.4 750.4h6.4M1175.6 747.2v6.4M1181.4 756.1h6.4M1184.6 752.9v6.4M1169.0 758.3h6.4M1172.2 755.1v6.4M1169.6 762.3h6.4M1172.8 759.1v6.4M1163.9 768.5h6.4M1167.1 765.3v6.4M1167.3 774.6h6.4M1170.5 771.4v6.4M1171.3 780.8h6.4M1174.5 777.6v6.4M1175.8 779.2h6.4M1179.0 776.0v6.4M1181.4 787.0h6.4M1184.6 783.8v6.4M1185.9 783.1h6.4M1189.1 779.9v6.4M1192.1 783.1h6.4M1195.3 779.9v6.4M1196.0 789.3h6.4M1199.2 786.1v6.4M1183.6 793.2h6.4M1186.8 790.0v6.4M1185.9 801.7h6.4M1189.1 798.5v6.4M1165.1 796.1h6.4M1168.3 792.9v6.4M1167.3 797.2h6.4M1170.5 794.0v6.4M1163.9 805.6h6.4M1167.1 802.4v6.4M1170.7 812.4h6.4M1173.9 809.2v6.4M1169.6 813.0h6.4M1172.8 809.8v6.4M1179.7 818.0h6.4M1182.9 814.8v6.4M1179.7 821.4h6.4M1182.9 818.2v6.4M1167.3 829.9h6.4M1170.5 826.7v6.4M1167.3 833.2h6.4M1170.5 830.0v6.4M1193.8 828.2h6.4M1197.0 825.0v6.4M1187.6 834.4h6.4M1190.8 831.2v6.4M1202.2 836.4h6.4M1205.4 833.2v6.4M1212.4 832.1h6.4M1215.6 828.9v6.4M1228.7 830.4h6.4M1231.9 827.2v6.4M1236.6 807.9h6.4M1239.8 804.7v6.4M1179.7 840.6h6.4M1182.9 837.4v6.4M1175.8 844.5h6.4M1179.0 841.3v6.4M1169.6 843.9h6.4M1172.8 840.7v6.4M1171.8 850.1h6.4M1175.0 846.9v6.4M1181.4 854.6h6.4M1184.6 851.4v6.4M1189.8 853.0h6.4M1193.0 849.8v6.4M1193.8 853.0h6.4M1197.0 849.8v6.4M1202.2 850.7h6.4M1205.4 847.5v6.4M1228.7 848.5h6.4M1231.9 845.3v6.4M1165.6 862.5h6.4M1168.8 859.3v6.4M1174.1 863.7h6.4M1177.3 860.5v6.4M1174.1 866.5h6.4M1177.3 863.3v6.4M1177.4 862.5h6.4M1180.6 859.3v6.4M1167.3 871.0h6.4M1170.5 867.8v6.4M1192.1 869.1h6.4M1195.3 865.9v6.4M1185.9 873.2h6.4M1189.1 870.0v6.4M1209.6 868.2h6.4M1212.8 865.0v6.4M1222.5 871.0h6.4M1225.7 867.8v6.4M1228.7 874.9h6.4M1231.9 871.7v6.4M1241.1 869.1h6.4M1244.3 865.9v6.4M1177.4 874.9h6.4M1180.6 871.7v6.4M1204.5 878.3h6.4M1207.7 875.1v6.4M1271.5 878.3h6.4M1274.7 875.1v6.4M1165.1 877.2h6.4M1168.3 874.0v6.4M1171.8 858.0h6.4M1175.0 854.8v6.4M1241.1 868.7h6.4M1244.3 865.5v6.4M1272.0 879.8h6.4M1275.2 876.6v6.4M1247.5 889.3h6.4M1250.7 886.1v6.4M1328.9 863.2h6.4M1332.1 860.0v6.4M1341.3 893.5h6.4M1344.5 890.3v6.4M1286.2 898.0h6.4M1289.4 894.8v6.4M1314.7 900.3h6.4M1317.9 897.1v6.4M1259.3 901.9h6.4M1262.5 898.7v6.4M1268.0 904.3h6.4M1271.2 901.1v6.4M1368.2 906.2h6.4M1371.4 903.0v6.4M1234.8 907.5h6.4M1238.0 904.3v6.4M1245.1 907.5h6.4M1248.3 904.3v6.4M1248.2 913.8h6.4M1251.4 910.6v6.4M1265.6 913.8h6.4M1268.8 910.6v6.4M1283.1 913.8h6.4M1286.3 910.6v6.4M1287.0 913.8h6.4M1290.2 910.6v6.4M1312.3 912.2h6.4M1315.5 909.0v6.4M1319.4 910.6h6.4M1322.6 907.4v6.4M1321.0 914.6h6.4M1324.2 911.4v6.4M1238.7 924.1h6.4M1241.9 920.9v6.4M1252.2 922.5h6.4M1255.4 919.3v6.4M1256.2 926.5h6.4M1259.4 923.3v6.4M1260.1 924.9h6.4M1263.3 921.7v6.4M1265.6 926.5h6.4M1268.8 923.3v6.4M1246.7 928.0h6.4M1249.9 924.8v6.4M1295.7 920.9h6.4M1298.9 917.7v6.4M1301.2 920.9h6.4M1304.4 917.7v6.4M1309.2 920.9h6.4M1312.4 917.7v6.4M1308.4 928.8h6.4M1311.6 925.6v6.4M1324.2 920.1h6.4M1327.4 916.9v6.4M1328.9 928.0h6.4M1332.1 924.8v6.4M1326.6 930.4h6.4M1329.8 927.2v6.4M1341.6 928.0h6.4M1344.8 924.8v6.4M1344.0 926.5h6.4M1347.2 923.3v6.4M1279.9 932.8h6.4M1283.1 929.6v6.4M1277.5 936.7h6.4M1280.7 933.5v6.4M1245.1 940.7h6.4M1248.3 937.5v6.4M1249.0 947.0h6.4M1252.2 943.8v6.4M1234.8 946.2h6.4M1238.0 943.0v6.4M1230.8 957.3h6.4M1234.0 954.1v6.4M1241.1 960.5h6.4M1244.3 957.3v6.4M862.3 908.3h6.4M865.5 905.1v6.4M839.7 920.7h6.4M842.9 917.5v6.4M870.2 919.0h6.4M873.4 915.8v6.4M870.2 938.8h6.4M873.4 935.6v6.4M896.7 928.6h6.4M899.9 925.4v6.4M913.5 935.9h6.4M916.7 932.7v6.4M931.8 920.2h6.4M935.0 917.0v6.4M931.8 928.6h6.4M935.0 925.4v6.4M939.4 918.5h6.4M942.6 915.3v6.4M941.9 920.2h6.4M945.1 917.0v6.4M949.9 917.6h6.4M953.1 914.4v6.4M958.0 922.4h6.4M961.2 919.2v6.4M966.5 921.9h6.4M969.7 918.7v6.4M969.1 928.6h6.4M972.3 925.4v6.4M973.3 930.3h6.4M976.5 927.1v6.4M947.9 937.1h6.4M951.1 933.9v6.4M986.9 871.9h6.4M990.1 868.7v6.4M1005.5 871.9h6.4M1008.7 868.7v6.4M1018.2 865.1h6.4M1021.4 861.9v6.4M1005.5 860.0h6.4M1008.7 856.8v6.4M1014.0 881.2h6.4M1017.2 878.0v6.4M993.6 890.2h6.4M996.8 887.0v6.4M982.6 898.1h6.4M985.8 894.9v6.4M990.2 897.6h6.4M993.4 894.4v6.4M982.6 904.4h6.4M985.8 901.2v6.4M1008.9 897.6h6.4M1012.1 894.4v6.4M1015.7 895.6h6.4M1018.9 892.4v6.4M1015.7 890.5h6.4M1018.9 887.3v6.4M1024.1 891.4h6.4M1027.3 888.2v6.4M1015.7 902.4h6.4M1018.9 899.2v6.4M1015.7 908.3h6.4M1018.9 905.1v6.4M990.2 918.5h6.4M993.4 915.3v6.4M995.3 918.5h6.4M998.5 915.3v6.4M1001.3 914.2h6.4M1004.5 911.0v6.4M1007.2 912.5h6.4M1010.4 909.3v6.4M1005.5 919.3h6.4M1008.7 916.1v6.4M988.5 926.1h6.4M991.7 922.9v6.4M986.9 930.3h6.4M990.1 927.1v6.4M991.1 937.1h6.4M994.3 933.9v6.4M999.6 932.9h6.4M1002.8 929.7v6.4M1005.5 926.9h6.4M1008.7 923.7v6.4M1011.4 932.9h6.4M1014.6 929.7v6.4M1021.6 927.8h6.4M1024.8 924.6v6.4M1022.4 925.3h6.4M1025.6 922.1v6.4M1024.1 941.0h6.4M1027.3 937.8v6.4M1008.0 944.7h6.4M1011.2 941.5v6.4M1025.8 918.5h6.4M1029.0 915.3v6.4M1034.3 921.0h6.4M1037.5 917.8v6.4M1036.0 926.1h6.4M1039.2 922.9v6.4M1335.2 799.6h6.4M1338.4 796.4v6.4M1292.3 853.0h6.4M1295.5 849.8v6.4M1337.0 850.8h6.4M1340.2 847.6v6.4M1329.1 863.2h6.4M1332.3 860.0v6.4M1271.6 879.0h6.4M1274.8 875.8v6.4M1063.9 408.4h6.4M1067.1 405.2v6.4M1111.2 422.8h6.4M1114.4 419.6v6.4M1103.6 421.6h6.4M1106.8 418.4v6.4M1146.5 406.5h6.4M1149.7 403.3v6.4M1157.2 417.8h6.4M1160.4 414.6v6.4M1209.2 411.2h6.4M1212.4 408.0v6.4M1064.8 425.1h6.4M1068.0 421.9v6.4M1065.8 429.1h6.4M1069.0 425.9v6.4M1059.2 446.2h6.4M1062.4 443.0v6.4M1135.7 437.8h6.4M1138.9 434.6v6.4M1133.1 434.3h6.4M1136.3 431.1v6.4M1130.5 428.2h6.4M1133.7 425.0v6.4M1166.2 443.1h6.4M1169.4 439.9v6.4M1055.8 467.8h6.4M1059.0 464.6v6.4M1044.4 452.1h6.4M1047.6 448.9v6.4M1108.3 460.4h6.4M1111.5 457.2v6.4M1118.2 464.8h6.4M1121.4 461.6v6.4M1127.9 454.0h6.4M1131.1 450.8v6.4M1144.8 463.2h6.4M1148.0 460.0v6.4M1162.6 456.4h6.4M1165.8 453.2v6.4M1144.1 463.5h6.4M1147.3 460.3v6.4M1203.3 464.1h6.4M1206.5 460.9v6.4M1197.0 467.6h6.4M1200.2 464.4v6.4M1049.6 492.1h6.4M1052.8 488.9v6.4M1088.9 495.2h6.4M1092.1 492.0v6.4M1103.5 477.4h6.4M1106.7 474.2v6.4M1130.9 472.8h6.4M1134.1 469.6v6.4M1132.7 479.0h6.4M1135.9 475.8v6.4M1135.8 473.0h6.4M1139.0 469.8v6.4M1137.3 482.3h6.4M1140.5 479.1v6.4M1122.4 486.0h6.4M1125.6 482.8v6.4M1162.6 492.7h6.4M1165.8 489.5v6.4M1149.3 484.0h6.4M1152.5 480.8v6.4M1165.7 486.0h6.4M1168.9 482.8v6.4M1167.4 474.0h6.4M1170.6 470.8v6.4M1174.0 473.4h6.4M1177.2 470.2v6.4M1051.5 508.9h6.4M1054.7 505.7v6.4M1062.5 503.6h6.4M1065.7 500.4v6.4M1059.0 503.2h6.4M1062.2 500.0v6.4M1050.7 503.6h6.4M1053.9 500.4v6.4M1077.1 497.8h6.4M1080.3 494.6v6.4M1079.6 517.4h6.4M1082.8 514.2v6.4M1100.8 510.6h6.4M1104.0 507.4v6.4M1104.0 509.2h6.4M1107.2 506.0v6.4M1092.0 496.5h6.4M1095.2 493.3v6.4M1121.8 517.0h6.4M1125.0 513.8v6.4M1115.6 509.9h6.4M1118.8 506.7v6.4M1118.2 496.1h6.4M1121.4 492.9v6.4M1118.3 512.3h6.4M1121.5 509.1v6.4M1139.5 507.1h6.4M1142.7 503.9v6.4M1156.7 511.6h6.4M1159.9 508.4v6.4M1148.4 517.6h6.4M1151.6 514.4v6.4M1200.0 501.2h6.4M1203.2 498.0v6.4M1047.5 540.0h6.4M1050.7 536.8v6.4M1048.2 528.3h6.4M1051.4 525.1v6.4M1060.7 533.8h6.4M1063.9 530.6v6.4M1076.1 524.7h6.4M1079.3 521.5v6.4M1067.7 530.2h6.4M1070.9 527.0v6.4M1082.0 538.6h6.4M1085.2 535.4v6.4M1069.1 529.5h6.4M1072.3 526.3v6.4M1094.4 540.8h6.4M1097.6 537.6v6.4M1100.5 532.2h6.4M1103.7 529.0v6.4M1132.7 534.6h6.4M1135.9 531.4v6.4M1114.9 538.6h6.4M1118.1 535.4v6.4M1116.0 534.0h6.4M1119.2 530.8v6.4M1127.6 540.6h6.4M1130.8 537.4v6.4M1135.3 535.7h6.4M1138.5 532.5v6.4M1149.7 522.8h6.4M1152.9 519.6v6.4M1145.8 540.1h6.4M1149.0 536.9v6.4M1147.7 538.7h6.4M1150.9 535.5v6.4M1148.5 524.8h6.4M1151.7 521.6v6.4M1150.5 541.9h6.4M1153.7 538.7v6.4M1184.2 533.9h6.4M1187.4 530.7v6.4M1047.6 568.0h6.4M1050.8 564.8v6.4M1052.2 552.3h6.4M1055.4 549.1v6.4M1049.4 549.9h6.4M1052.6 546.7v6.4M1043.7 553.3h6.4M1046.9 550.1v6.4M1052.3 565.3h6.4M1055.5 562.1v6.4M1083.9 557.0h6.4M1087.1 553.8v6.4M1089.8 549.0h6.4M1093.0 545.8v6.4M1079.4 567.3h6.4M1082.6 564.1v6.4M1067.3 548.1h6.4M1070.5 544.9v6.4M1094.4 548.1h6.4M1097.6 544.9v6.4M1102.5 558.9h6.4M1105.7 555.7v6.4M1114.5 552.8h6.4M1117.7 549.6v6.4M1113.6 548.7h6.4M1116.8 545.5v6.4M1116.9 559.6h6.4M1120.1 556.4v6.4M1134.8 559.0h6.4M1138.0 555.8v6.4M1122.7 556.3h6.4M1125.9 553.1v6.4M1160.6 551.7h6.4M1163.8 548.5v6.4M1160.8 558.8h6.4M1164.0 555.6v6.4M1144.5 548.1h6.4M1147.7 544.9v6.4M1153.3 559.2h6.4M1156.5 556.0v6.4M1152.6 550.1h6.4M1155.8 546.9v6.4M1172.8 560.8h6.4M1176.0 557.6v6.4M1053.6 569.7h6.4M1056.8 566.5v6.4M1058.7 572.6h6.4M1061.9 569.4v6.4M1064.3 576.6h6.4M1067.5 573.4v6.4M1055.5 586.2h6.4M1058.7 583.0v6.4M1056.5 571.3h6.4M1059.7 568.1v6.4M1055.2 591.4h6.4M1058.4 588.2v6.4M1054.1 570.0h6.4M1057.3 566.8v6.4M1064.2 583.4h6.4M1067.4 580.2v6.4M1050.6 590.5h6.4M1053.8 587.3v6.4M1071.9 584.9h6.4M1075.1 581.7v6.4M1074.0 573.1h6.4M1077.2 569.9v6.4M1072.0 581.9h6.4M1075.2 578.7v6.4M1084.8 576.0h6.4M1088.0 572.8v6.4M1089.0 581.2h6.4M1092.2 578.0v6.4M1102.3 582.9h6.4M1105.5 579.7v6.4M1127.9 586.2h6.4M1131.1 583.0v6.4M1136.8 588.6h6.4M1140.0 585.4v6.4M1115.6 587.0h6.4M1118.8 583.8v6.4M1119.3 585.5h6.4M1122.5 582.3v6.4M1140.0 572.4h6.4M1143.2 569.2v6.4M1147.6 572.5h6.4M1150.8 569.3v6.4M1154.4 582.4h6.4M1157.6 579.2v6.4M1153.6 590.8h6.4M1156.8 587.6v6.4M1140.3 581.1h6.4M1143.5 577.9v6.4M1165.8 575.0h6.4M1169.0 571.8v6.4M1172.6 586.3h6.4M1175.8 583.1v6.4M1060.3 604.6h6.4M1063.5 601.4v6.4M1061.4 601.6h6.4M1064.6 598.4v6.4M1050.7 602.8h6.4M1053.9 599.6v6.4M1064.0 610.1h6.4M1067.2 606.9v6.4M1054.3 601.2h6.4M1057.5 598.0v6.4M1053.0 599.2h6.4M1056.2 596.0v6.4M1055.3 592.3h6.4M1058.5 589.1v6.4M1065.3 597.3h6.4M1068.5 594.1v6.4M1048.8 613.0h6.4M1052.0 609.8v6.4M1068.8 603.7h6.4M1072.0 600.5v6.4M1072.2 596.3h6.4M1075.4 593.1v6.4M1071.5 596.5h6.4M1074.7 593.3v6.4M1076.1 612.7h6.4M1079.3 609.5v6.4M1089.3 607.8h6.4M1092.5 604.6v6.4M1098.1 600.1h6.4M1101.3 596.9v6.4M1096.9 600.4h6.4M1100.1 597.2v6.4M1134.3 600.0h6.4M1137.5 596.8v6.4M1133.3 603.9h6.4M1136.5 600.7v6.4M1115.1 602.3h6.4M1118.3 599.1v6.4M1125.5 608.6h6.4M1128.7 605.4v6.4M1144.7 599.3h6.4M1147.9 596.1v6.4M1143.4 610.6h6.4M1146.6 607.4v6.4M1139.8 611.6h6.4M1143.0 608.4v6.4M1152.0 608.1h6.4M1155.2 604.9v6.4M1148.2 609.0h6.4M1151.4 605.8v6.4M1155.0 608.0h6.4M1158.2 604.8v6.4M1157.9 615.4h6.4M1161.1 612.2v6.4M1151.5 592.3h6.4M1154.7 589.1v6.4M1144.2 595.8h6.4M1147.4 592.6v6.4M1175.0 596.7h6.4M1178.2 593.5v6.4M1178.3 610.9h6.4M1181.5 607.7v6.4M1179.4 597.9h6.4M1182.6 594.7v6.4M1199.5 614.9h6.4M1202.7 611.7v6.4M1202.6 601.9h6.4M1205.8 598.7v6.4M1043.4 635.9h6.4M1046.6 632.7v6.4M1058.3 627.4h6.4M1061.5 624.2v6.4M1062.3 638.4h6.4M1065.5 635.2v6.4M1047.0 626.2h6.4M1050.2 623.0v6.4M1057.8 616.5h6.4M1061.0 613.3v6.4M1054.4 636.6h6.4M1057.6 633.4v6.4M1049.3 630.0h6.4M1052.5 626.8v6.4M1059.2 635.1h6.4M1062.4 631.9v6.4M1062.7 631.9h6.4M1065.9 628.7v6.4M1060.8 618.2h6.4M1064.0 615.0v6.4M1048.6 637.2h6.4M1051.8 634.0v6.4M1080.9 622.1h6.4M1084.1 618.9v6.4M1075.8 626.7h6.4M1079.0 623.5v6.4M1075.8 617.9h6.4M1079.0 614.7v6.4M1079.1 625.2h6.4M1082.3 622.0v6.4M1068.2 635.9h6.4M1071.4 632.7v6.4M1071.0 617.8h6.4M1074.2 614.6v6.4M1090.3 635.9h6.4M1093.5 632.7v6.4M1072.2 637.1h6.4M1075.4 633.9v6.4M1087.5 620.7h6.4M1090.7 617.5v6.4M1085.3 618.3h6.4M1088.5 615.1v6.4M1086.3 624.9h6.4M1089.5 621.7v6.4M1096.7 638.3h6.4M1099.9 635.1v6.4M1100.7 630.9h6.4M1103.9 627.7v6.4M1100.2 636.9h6.4M1103.4 633.7v6.4M1110.7 637.7h6.4M1113.9 634.5v6.4M1128.4 636.0h6.4M1131.6 632.8v6.4M1125.9 640.0h6.4M1129.1 636.8v6.4M1129.0 619.4h6.4M1132.2 616.2v6.4M1127.8 633.4h6.4M1131.0 630.2v6.4M1121.1 634.6h6.4M1124.3 631.4v6.4M1155.4 633.7h6.4M1158.6 630.5v6.4M1152.8 627.4h6.4M1156.0 624.2v6.4M1152.7 627.2h6.4M1155.9 624.0v6.4M1152.0 626.9h6.4M1155.2 623.7v6.4M1144.5 624.2h6.4M1147.7 621.0v6.4M1151.9 621.2h6.4M1155.1 618.0v6.4M1152.5 617.0h6.4M1155.7 613.8v6.4M1143.8 622.2h6.4M1147.0 619.0v6.4M1139.8 616.7h6.4M1143.0 613.5v6.4M1174.4 630.5h6.4M1177.6 627.3v6.4M1178.3 638.1h6.4M1181.5 634.9v6.4M1172.3 630.2h6.4M1175.5 627.0v6.4M1165.8 622.3h6.4M1169.0 619.1v6.4M1188.2 637.3h6.4M1191.4 634.1v6.4M1061.1 657.0h6.4M1064.3 653.8v6.4M1064.6 657.9h6.4M1067.8 654.7v6.4M1065.8 659.3h6.4M1069.0 656.1v6.4M1046.3 649.1h6.4M1049.5 645.9v6.4M1052.3 653.0h6.4M1055.5 649.8v6.4M1061.3 655.9h6.4M1064.5 652.7v6.4M1053.0 656.4h6.4M1056.2 653.2v6.4M1065.5 641.8h6.4M1068.7 638.6v6.4M1070.0 647.5h6.4M1073.2 644.3v6.4M1071.0 659.4h6.4M1074.2 656.2v6.4M1086.8 644.9h6.4M1090.0 641.7v6.4M1068.3 650.7h6.4M1071.5 647.5v6.4M1071.3 654.6h6.4M1074.5 651.4v6.4M1089.6 651.2h6.4M1092.8 648.0v6.4M1080.5 655.2h6.4M1083.7 652.0v6.4M1069.5 663.4h6.4M1072.7 660.2v6.4M1070.0 647.8h6.4M1073.2 644.6v6.4M1081.0 652.1h6.4M1084.2 648.9v6.4M1067.2 647.1h6.4M1070.4 643.9v6.4M1082.8 648.0h6.4M1086.0 644.8v6.4M1068.1 657.7h6.4M1071.3 654.5v6.4M1069.0 644.9h6.4M1072.2 641.7v6.4M1094.9 663.9h6.4M1098.1 660.7v6.4M1104.7 651.1h6.4M1107.9 647.9v6.4M1108.3 654.3h6.4M1111.5 651.1v6.4M1113.0 645.0h6.4M1116.2 641.8v6.4M1097.6 652.4h6.4M1100.8 649.2v6.4M1097.0 655.9h6.4M1100.2 652.7v6.4M1099.7 641.0h6.4M1102.9 637.8v6.4M1102.6 642.9h6.4M1105.8 639.7v6.4M1108.6 657.3h6.4M1111.8 654.1v6.4M1108.3 644.7h6.4M1111.5 641.5v6.4M1102.1 644.4h6.4M1105.3 641.2v6.4M1131.7 640.0h6.4M1134.9 636.8v6.4M1134.2 663.5h6.4M1137.4 660.3v6.4M1134.5 656.7h6.4M1137.7 653.5v6.4M1129.4 650.9h6.4M1132.6 647.7v6.4M1128.4 652.2h6.4M1131.6 649.0v6.4M1123.6 653.0h6.4M1126.8 649.8v6.4M1117.9 641.8h6.4M1121.1 638.6v6.4M1121.9 663.1h6.4M1125.1 659.9v6.4M1129.6 662.1h6.4M1132.8 658.9v6.4M1132.0 658.5h6.4M1135.2 655.3v6.4M1126.9 654.7h6.4M1130.1 651.5v6.4M1115.5 642.3h6.4M1118.7 639.1v6.4M1115.2 650.5h6.4M1118.4 647.3v6.4M1115.7 643.9h6.4M1118.9 640.7v6.4M1141.3 662.5h6.4M1144.5 659.3v6.4M1146.0 645.5h6.4M1149.2 642.3v6.4M1158.3 654.5h6.4M1161.5 651.3v6.4M1146.6 646.3h6.4M1149.8 643.1v6.4M1160.3 644.1h6.4M1163.5 640.9v6.4M1139.8 649.9h6.4M1143.0 646.7v6.4M1155.5 656.5h6.4M1158.7 653.3v6.4M1141.0 650.4h6.4M1144.2 647.2v6.4M1152.2 657.4h6.4M1155.4 654.2v6.4M1155.6 650.6h6.4M1158.8 647.4v6.4M1156.9 651.9h6.4M1160.1 648.7v6.4M1141.6 643.5h6.4M1144.8 640.3v6.4M1141.8 656.4h6.4M1145.0 653.2v6.4M1139.2 645.4h6.4M1142.4 642.2v6.4M1162.6 660.3h6.4M1165.8 657.1v6.4M1150.9 642.1h6.4M1154.1 638.9v6.4M1051.8 669.1h6.4M1055.0 665.9v6.4M1048.9 676.2h6.4M1052.1 673.0v6.4M1063.9 667.0h6.4M1067.1 663.8v6.4M1058.0 667.2h6.4M1061.2 664.0v6.4M1046.3 676.4h6.4M1049.5 673.2v6.4M1062.1 670.6h6.4M1065.3 667.4v6.4M1057.8 685.9h6.4M1061.0 682.7v6.4M1056.7 672.8h6.4M1059.9 669.6v6.4M1050.1 682.0h6.4M1053.3 678.8v6.4M1059.0 679.8h6.4M1062.2 676.6v6.4M1058.6 679.2h6.4M1061.8 676.0v6.4M1078.6 687.3h6.4M1081.8 684.1v6.4M1069.4 665.3h6.4M1072.6 662.1v6.4M1078.6 686.0h6.4M1081.8 682.8v6.4M1077.2 685.8h6.4M1080.4 682.6v6.4M1077.0 676.5h6.4M1080.2 673.3v6.4M1084.5 686.3h6.4M1087.7 683.1v6.4M1078.8 674.2h6.4M1082.0 671.0v6.4M1089.5 673.7h6.4M1092.7 670.5v6.4M1081.6 677.3h6.4M1084.8 674.1v6.4M1081.0 665.4h6.4M1084.2 662.2v6.4M1082.3 679.0h6.4M1085.5 675.8v6.4M1088.3 684.7h6.4M1091.5 681.5v6.4M1082.6 677.7h6.4M1085.8 674.5v6.4M1084.7 669.0h6.4M1087.9 665.8v6.4M1067.2 680.5h6.4M1070.4 677.3v6.4M1076.2 673.7h6.4M1079.4 670.5v6.4M1070.5 668.7h6.4M1073.7 665.5v6.4M1080.2 673.9h6.4M1083.4 670.7v6.4M1089.7 677.3h6.4M1092.9 674.1v6.4M1074.2 672.1h6.4M1077.4 668.9v6.4M1067.3 683.2h6.4M1070.5 680.0v6.4M1066.9 681.9h6.4M1070.1 678.7v6.4M1092.4 667.4h6.4M1095.6 664.2v6.4M1096.9 670.9h6.4M1100.1 667.7v6.4M1093.8 673.7h6.4M1097.0 670.5v6.4M1092.3 665.5h6.4M1095.5 662.3v6.4M1093.0 671.1h6.4M1096.2 667.9v6.4M1092.5 679.3h6.4M1095.7 676.1v6.4M1103.9 684.2h6.4M1107.1 681.0v6.4M1091.7 679.2h6.4M1094.9 676.0v6.4M1094.0 687.5h6.4M1097.2 684.3v6.4M1094.7 669.7h6.4M1097.9 666.5v6.4M1113.4 685.2h6.4M1116.6 682.0v6.4M1134.7 664.3h6.4M1137.9 661.1v6.4M1115.8 664.5h6.4M1119.0 661.3v6.4M1127.3 686.4h6.4M1130.5 683.2v6.4M1118.3 671.6h6.4M1121.5 668.4v6.4M1126.5 677.4h6.4M1129.7 674.2v6.4M1137.3 670.8h6.4M1140.5 667.6v6.4M1123.2 680.6h6.4M1126.4 677.4v6.4M1123.8 671.6h6.4M1127.0 668.4v6.4M1128.0 668.8h6.4M1131.2 665.6v6.4M1123.1 687.6h6.4M1126.3 684.4v6.4M1117.1 668.9h6.4M1120.3 665.7v6.4M1153.8 670.9h6.4M1157.0 667.7v6.4M1150.9 680.7h6.4M1154.1 677.5v6.4M1142.5 668.1h6.4M1145.7 664.9v6.4M1144.2 681.2h6.4M1147.4 678.0v6.4M1153.5 687.9h6.4M1156.7 684.7v6.4M1147.0 676.0h6.4M1150.2 672.8v6.4M1143.2 687.2h6.4M1146.4 684.0v6.4M1155.6 679.6h6.4M1158.8 676.4v6.4M1143.3 683.4h6.4M1146.5 680.2v6.4M1158.9 667.2h6.4M1162.1 664.0v6.4M1142.0 684.8h6.4M1145.2 681.6v6.4M1151.7 682.2h6.4M1154.9 679.0v6.4M1161.3 682.6h6.4M1164.5 679.4v6.4M1142.6 668.2h6.4M1145.8 665.0v6.4M1155.8 679.1h6.4M1159.0 675.9v6.4M1159.7 681.4h6.4M1162.9 678.2v6.4M1050.3 702.7h6.4M1053.5 699.5v6.4M1057.5 711.0h6.4M1060.7 707.8v6.4M1066.3 700.3h6.4M1069.5 697.1v6.4M1053.7 703.8h6.4M1056.9 700.6v6.4M1055.0 698.7h6.4M1058.2 695.5v6.4M1047.3 692.1h6.4M1050.5 688.9v6.4M1055.8 697.9h6.4M1059.0 694.7v6.4M1055.2 705.7h6.4M1058.4 702.5v6.4M1046.8 694.4h6.4M1050.0 691.2v6.4M1061.7 695.4h6.4M1064.9 692.2v6.4M1051.3 709.6h6.4M1054.5 706.4v6.4M1043.2 696.8h6.4M1046.4 693.6v6.4M1047.0 711.5h6.4M1050.2 708.3v6.4M1065.2 709.7h6.4M1068.4 706.5v6.4M1055.0 701.7h6.4M1058.2 698.5v6.4M1057.3 705.5h6.4M1060.5 702.3v6.4M1061.8 708.8h6.4M1065.0 705.6v6.4M1057.3 689.6h6.4M1060.5 686.4v6.4M1059.9 698.0h6.4M1063.1 694.8v6.4M1055.1 706.1h6.4M1058.3 702.9v6.4M1088.8 704.1h6.4M1092.0 700.9v6.4M1081.8 711.9h6.4M1085.0 708.7v6.4M1067.2 705.2h6.4M1070.4 702.0v6.4M1069.2 701.3h6.4M1072.4 698.1v6.4M1072.9 696.7h6.4M1076.1 693.5v6.4M1086.8 695.8h6.4M1090.0 692.6v6.4M1088.4 703.1h6.4M1091.6 699.9v6.4M1088.5 703.2h6.4M1091.7 700.0v6.4M1081.4 701.3h6.4M1084.6 698.1v6.4M1088.8 688.2h6.4M1092.0 685.0v6.4M1069.5 693.2h6.4M1072.7 690.0v6.4M1088.2 711.1h6.4M1091.4 707.9v6.4M1070.9 694.9h6.4M1074.1 691.7v6.4M1078.1 693.5h6.4M1081.3 690.3v6.4M1071.9 692.4h6.4M1075.1 689.2v6.4M1086.2 691.3h6.4M1089.4 688.1v6.4M1081.2 708.6h6.4M1084.4 705.4v6.4M1072.1 698.3h6.4M1075.3 695.1v6.4M1067.2 690.8h6.4M1070.4 687.6v6.4M1077.2 702.8h6.4M1080.4 699.6v6.4M1071.7 710.0h6.4M1074.9 706.8v6.4M1080.6 712.0h6.4M1083.8 708.8v6.4M1078.6 702.1h6.4M1081.8 698.9v6.4M1083.0 703.4h6.4M1086.2 700.2v6.4M1080.7 702.8h6.4M1083.9 699.6v6.4M1073.0 705.5h6.4M1076.2 702.3v6.4M1084.8 702.5h6.4M1088.0 699.3v6.4M1099.1 696.6h6.4M1102.3 693.4v6.4M1097.4 689.0h6.4M1100.6 685.8v6.4M1103.9 708.9h6.4M1107.1 705.7v6.4M1103.9 711.5h6.4M1107.1 708.3v6.4M1104.7 688.8h6.4M1107.9 685.6v6.4M1105.4 688.6h6.4M1108.6 685.4v6.4M1099.2 711.8h6.4M1102.4 708.6v6.4M1111.4 697.4h6.4M1114.6 694.2v6.4M1095.4 689.7h6.4M1098.6 686.5v6.4M1094.1 693.3h6.4M1097.3 690.1v6.4M1111.2 696.2h6.4M1114.4 693.0v6.4M1135.6 710.4h6.4M1138.8 707.2v6.4M1138.6 695.6h6.4M1141.8 692.4v6.4M1133.1 704.2h6.4M1136.3 701.0v6.4M1118.5 706.7h6.4M1121.7 703.5v6.4M1129.8 690.6h6.4M1133.0 687.4v6.4M1124.9 695.1h6.4M1128.1 691.9v6.4M1126.4 693.5h6.4M1129.6 690.3v6.4M1119.3 688.2h6.4M1122.5 685.0v6.4M1130.5 695.1h6.4M1133.7 691.9v6.4M1122.2 703.3h6.4M1125.4 700.1v6.4M1132.1 697.9h6.4M1135.3 694.7v6.4M1138.1 691.7h6.4M1141.3 688.5v6.4M1120.4 706.9h6.4M1123.6 703.7v6.4M1124.7 691.6h6.4M1127.9 688.4v6.4M1133.7 689.9h6.4M1136.9 686.7v6.4M1135.8 695.9h6.4M1139.0 692.7v6.4M1157.0 697.2h6.4M1160.2 694.0v6.4M1151.7 695.0h6.4M1154.9 691.8v6.4M1159.1 696.8h6.4M1162.3 693.6v6.4M1141.5 710.4h6.4M1144.7 707.2v6.4M1157.8 695.6h6.4M1161.0 692.4v6.4M1149.1 697.9h6.4M1152.3 694.7v6.4M1143.1 707.0h6.4M1146.3 703.8v6.4M1156.9 707.1h6.4M1160.1 703.9v6.4M1143.1 696.8h6.4M1146.3 693.6v6.4M1155.1 690.4h6.4M1158.3 687.2v6.4M1157.0 696.2h6.4M1160.2 693.0v6.4M1138.8 696.3h6.4M1142.0 693.1v6.4M1160.7 696.7h6.4M1163.9 693.5v6.4M1146.5 690.7h6.4M1149.7 687.5v6.4M1148.0 690.3h6.4M1151.2 687.1v6.4M1139.1 703.5h6.4M1142.3 700.3v6.4M1061.9 721.5h6.4M1065.1 718.3v6.4M1065.3 724.0h6.4M1068.5 720.8v6.4M1054.3 723.6h6.4M1057.5 720.4v6.4M1064.1 724.3h6.4M1067.3 721.1v6.4M1052.6 719.1h6.4M1055.8 715.9v6.4M1054.9 726.3h6.4M1058.1 723.1v6.4M1053.4 733.6h6.4M1056.6 730.4v6.4M1043.5 722.6h6.4M1046.7 719.4v6.4M1044.9 720.8h6.4M1048.1 717.6v6.4M1063.2 735.3h6.4M1066.4 732.1v6.4M1050.8 727.1h6.4M1054.0 723.9v6.4M1048.3 713.1h6.4M1051.5 709.9v6.4M1043.4 726.6h6.4M1046.6 723.4v6.4M1056.5 731.8h6.4M1059.7 728.6v6.4M1060.8 716.7h6.4M1064.0 713.5v6.4M1044.5 729.9h6.4M1047.7 726.7v6.4M1048.5 731.2h6.4M1051.7 728.0v6.4M1056.1 731.7h6.4M1059.3 728.5v6.4M1047.0 720.6h6.4M1050.2 717.4v6.4M1064.2 714.7h6.4M1067.4 711.5v6.4M1078.9 722.2h6.4M1082.1 719.0v6.4M1089.3 716.5h6.4M1092.5 713.3v6.4M1082.4 715.9h6.4M1085.6 712.7v6.4M1077.7 720.6h6.4M1080.9 717.4v6.4M1071.2 729.8h6.4M1074.4 726.6v6.4M1077.3 729.4h6.4M1080.5 726.2v6.4M1087.8 714.8h6.4M1091.0 711.6v6.4M1089.1 735.1h6.4M1092.3 731.9v6.4M1077.7 712.8h6.4M1080.9 709.6v6.4M1073.0 714.5h6.4M1076.2 711.3v6.4M1070.9 718.6h6.4M1074.1 715.4v6.4M1080.2 714.3h6.4M1083.4 711.1v6.4M1089.4 723.2h6.4M1092.6 720.0v6.4M1072.9 712.5h6.4M1076.1 709.3v6.4M1080.9 731.3h6.4M1084.1 728.1v6.4M1087.4 726.9h6.4M1090.6 723.7v6.4M1079.9 712.5h6.4M1083.1 709.3v6.4M1076.3 735.7h6.4M1079.5 732.5v6.4M1071.0 731.9h6.4M1074.2 728.7v6.4M1082.2 728.2h6.4M1085.4 725.0v6.4M1078.3 721.6h6.4M1081.5 718.4v6.4M1085.5 729.4h6.4M1088.7 726.2v6.4M1079.2 712.0h6.4M1082.4 708.8v6.4M1077.3 718.1h6.4M1080.5 714.9v6.4M1092.7 724.4h6.4M1095.9 721.2v6.4M1100.2 735.8h6.4M1103.4 732.6v6.4M1097.9 732.8h6.4M1101.1 729.6v6.4M1094.4 725.1h6.4M1097.6 721.9v6.4M1099.3 712.7h6.4M1102.5 709.5v6.4M1093.1 725.7h6.4M1096.3 722.5v6.4M1111.6 712.7h6.4M1114.8 709.5v6.4M1095.4 731.6h6.4M1098.6 728.4v6.4M1106.2 728.5h6.4M1109.4 725.3v6.4M1103.7 717.8h6.4M1106.9 714.6v6.4M1102.7 713.1h6.4M1105.9 709.9v6.4M1135.4 712.2h6.4M1138.6 709.0v6.4M1115.8 724.9h6.4M1119.0 721.7v6.4M1116.8 719.9h6.4M1120.0 716.7v6.4M1133.0 722.1h6.4M1136.2 718.9v6.4M1131.0 718.2h6.4M1134.2 715.0v6.4M1137.8 713.8h6.4M1141.0 710.6v6.4M1129.6 717.0h6.4M1132.8 713.8v6.4M1124.6 719.2h6.4M1127.8 716.0v6.4M1114.9 735.2h6.4M1118.1 732.0v6.4M1131.4 731.2h6.4M1134.6 728.0v6.4M1114.8 728.5h6.4M1118.0 725.3v6.4M1130.6 716.5h6.4M1133.8 713.3v6.4M1116.6 728.6h6.4M1119.8 725.4v6.4M1124.7 720.6h6.4M1127.9 717.4v6.4M1160.9 732.6h6.4M1164.1 729.4v6.4M1143.6 730.0h6.4M1146.8 726.8v6.4M1139.3 719.0h6.4M1142.5 715.8v6.4M1138.9 728.1h6.4M1142.1 724.9v6.4M1143.4 724.0h6.4M1146.6 720.8v6.4M1146.1 717.4h6.4M1149.3 714.2v6.4M1156.9 717.7h6.4M1160.1 714.5v6.4M1153.9 726.2h6.4M1157.1 723.0v6.4M1160.7 716.4h6.4M1163.9 713.2v6.4M1141.6 729.8h6.4M1144.8 726.6v6.4M1147.5 730.9h6.4M1150.7 727.7v6.4M1146.0 714.2h6.4M1149.2 711.0v6.4M1160.7 730.2h6.4M1163.9 727.0v6.4M1162.3 735.8h6.4M1165.5 732.6v6.4M1047.3 737.6h6.4M1050.5 734.4v6.4M1048.5 742.4h6.4M1051.7 739.2v6.4M1061.6 752.6h6.4M1064.8 749.4v6.4M1048.2 752.4h6.4M1051.4 749.2v6.4M1051.8 758.7h6.4M1055.0 755.5v6.4M1063.0 738.7h6.4M1066.2 735.5v6.4M1056.0 740.0h6.4M1059.2 736.8v6.4M1063.7 759.2h6.4M1066.9 756.0v6.4M1060.4 754.4h6.4M1063.6 751.2v6.4M1047.1 744.8h6.4M1050.3 741.6v6.4M1066.7 744.7h6.4M1069.9 741.5v6.4M1062.3 747.7h6.4M1065.5 744.5v6.4M1063.5 758.9h6.4M1066.7 755.7v6.4M1063.1 758.0h6.4M1066.3 754.8v6.4M1051.5 739.2h6.4M1054.7 736.0v6.4M1061.1 757.0h6.4M1064.3 753.8v6.4M1052.9 745.0h6.4M1056.1 741.8v6.4M1058.4 759.0h6.4M1061.6 755.8v6.4M1045.8 755.5h6.4M1049.0 752.3v6.4M1061.9 752.8h6.4M1065.1 749.6v6.4M1086.0 749.9h6.4M1089.2 746.7v6.4M1086.7 750.1h6.4M1089.9 746.9v6.4M1087.8 758.6h6.4M1091.0 755.4v6.4M1068.0 750.8h6.4M1071.2 747.6v6.4M1090.3 744.8h6.4M1093.5 741.6v6.4M1067.3 745.4h6.4M1070.5 742.2v6.4M1080.9 742.1h6.4M1084.1 738.9v6.4M1088.5 736.2h6.4M1091.7 733.0v6.4M1073.9 755.5h6.4M1077.1 752.3v6.4M1072.8 740.4h6.4M1076.0 737.2v6.4M1074.1 740.6h6.4M1077.3 737.4v6.4M1084.4 756.7h6.4M1087.6 753.5v6.4M1072.3 756.5h6.4M1075.5 753.3v6.4M1087.3 745.6h6.4M1090.5 742.4v6.4M1076.4 757.1h6.4M1079.6 753.9v6.4M1073.4 752.4h6.4M1076.6 749.2v6.4M1089.6 749.7h6.4M1092.8 746.5v6.4M1072.8 749.1h6.4M1076.0 745.9v6.4M1080.5 747.5h6.4M1083.7 744.3v6.4M1071.8 736.5h6.4M1075.0 733.3v6.4M1086.8 736.1h6.4M1090.0 732.9v6.4M1083.2 742.9h6.4M1086.4 739.7v6.4M1074.1 737.2h6.4M1077.3 734.0v6.4M1080.4 740.8h6.4M1083.6 737.6v6.4M1070.3 748.8h6.4M1073.5 745.6v6.4M1075.9 743.7h6.4M1079.1 740.5v6.4M1072.8 746.4h6.4M1076.0 743.2v6.4M1108.7 759.2h6.4M1111.9 756.0v6.4M1103.1 743.8h6.4M1106.3 740.6v6.4M1095.3 753.7h6.4M1098.5 750.5v6.4M1095.6 739.9h6.4M1098.8 736.7v6.4M1104.9 747.8h6.4M1108.1 744.6v6.4M1092.2 736.0h6.4M1095.4 732.8v6.4M1090.9 742.4h6.4M1094.1 739.2v6.4M1110.7 755.4h6.4M1113.9 752.2v6.4M1097.9 758.5h6.4M1101.1 755.3v6.4M1101.1 750.1h6.4M1104.3 746.9v6.4M1108.8 738.7h6.4M1112.0 735.5v6.4M1095.2 756.4h6.4M1098.4 753.2v6.4M1097.0 753.9h6.4M1100.2 750.7v6.4M1101.6 743.8h6.4M1104.8 740.6v6.4M1113.5 751.4h6.4M1116.7 748.2v6.4M1092.7 742.9h6.4M1095.9 739.7v6.4M1096.4 758.7h6.4M1099.6 755.5v6.4M1106.1 741.1h6.4M1109.3 737.9v6.4M1100.7 739.0h6.4M1103.9 735.8v6.4M1115.0 748.8h6.4M1118.2 745.6v6.4M1124.5 744.4h6.4M1127.7 741.2v6.4M1134.8 754.7h6.4M1138.0 751.5v6.4M1135.3 752.1h6.4M1138.5 748.9v6.4M1137.0 756.2h6.4M1140.2 753.0v6.4M1124.7 753.5h6.4M1127.9 750.3v6.4M1119.7 737.8h6.4M1122.9 734.6v6.4M1114.8 746.5h6.4M1118.0 743.3v6.4M1121.2 744.9h6.4M1124.4 741.7v6.4M1131.7 736.8h6.4M1134.9 733.6v6.4M1131.2 745.3h6.4M1134.4 742.1v6.4M1115.7 747.8h6.4M1118.9 744.6v6.4M1132.8 739.8h6.4M1136.0 736.6v6.4M1131.9 757.6h6.4M1135.1 754.4v6.4M1120.1 758.1h6.4M1123.3 754.9v6.4M1120.8 745.0h6.4M1124.0 741.8v6.4M1155.1 740.1h6.4M1158.3 736.9v6.4M1149.0 751.7h6.4M1152.2 748.5v6.4M1146.2 738.0h6.4M1149.4 734.8v6.4M1157.2 753.1h6.4M1160.4 749.9v6.4M1144.1 744.6h6.4M1147.3 741.4v6.4M1143.8 748.7h6.4M1147.0 745.5v6.4M1159.4 752.0h6.4M1162.6 748.8v6.4M1157.4 751.3h6.4M1160.6 748.1v6.4M1148.4 742.2h6.4M1151.6 739.0v6.4M1141.0 752.7h6.4M1144.2 749.5v6.4M1147.0 736.8h6.4M1150.2 733.6v6.4M1147.4 757.4h6.4M1150.6 754.2v6.4M1154.1 746.2h6.4M1157.3 743.0v6.4M1140.1 754.0h6.4M1143.3 750.8v6.4M1152.3 739.9h6.4M1155.5 736.7v6.4M1154.5 754.9h6.4M1157.7 751.7v6.4M1047.6 782.5h6.4M1050.8 779.3v6.4M1056.3 783.9h6.4M1059.5 780.7v6.4M1048.8 775.2h6.4M1052.0 772.0v6.4M1055.4 763.9h6.4M1058.6 760.7v6.4M1045.9 762.1h6.4M1049.1 758.9v6.4M1064.1 783.1h6.4M1067.3 779.9v6.4M1043.7 770.6h6.4M1046.9 767.4v6.4M1057.1 773.4h6.4M1060.3 770.2v6.4M1057.0 776.0h6.4M1060.2 772.8v6.4M1047.9 760.3h6.4M1051.1 757.1v6.4M1059.9 783.8h6.4M1063.1 780.6v6.4M1064.4 783.2h6.4M1067.6 780.0v6.4M1049.6 778.3h6.4M1052.8 775.1v6.4M1058.8 761.2h6.4M1062.0 758.0v6.4M1053.7 765.3h6.4M1056.9 762.1v6.4M1060.3 766.2h6.4M1063.5 763.0v6.4M1056.1 773.6h6.4M1059.3 770.4v6.4M1056.7 781.8h6.4M1059.9 778.6v6.4M1045.3 776.8h6.4M1048.5 773.6v6.4M1054.4 762.7h6.4M1057.6 759.5v6.4M1089.2 768.3h6.4M1092.4 765.1v6.4M1081.6 766.6h6.4M1084.8 763.4v6.4M1069.6 780.0h6.4M1072.8 776.8v6.4M1069.1 777.3h6.4M1072.3 774.1v6.4M1090.1 765.6h6.4M1093.3 762.4v6.4M1068.3 768.3h6.4M1071.5 765.1v6.4M1069.3 783.9h6.4M1072.5 780.7v6.4M1069.3 764.0h6.4M1072.5 760.8v6.4M1067.8 784.0h6.4M1071.0 780.8v6.4M1081.2 761.9h6.4M1084.4 758.7v6.4M1067.1 770.2h6.4M1070.3 767.0v6.4M1073.3 780.1h6.4M1076.5 776.9v6.4M1085.7 765.9h6.4M1088.9 762.7v6.4M1066.9 766.3h6.4M1070.1 763.1v6.4M1070.4 765.5h6.4M1073.6 762.3v6.4M1072.1 776.0h6.4M1075.3 772.8v6.4M1077.2 781.7h6.4M1080.4 778.5v6.4M1086.4 771.5h6.4M1089.6 768.3v6.4M1078.2 772.2h6.4M1081.4 769.0v6.4M1090.2 770.1h6.4M1093.4 766.9v6.4M1077.1 763.8h6.4M1080.3 760.6v6.4M1088.4 779.0h6.4M1091.6 775.8v6.4M1083.0 778.8h6.4M1086.2 775.6v6.4M1075.9 779.8h6.4M1079.1 776.6v6.4M1071.7 760.0h6.4M1074.9 756.8v6.4M1082.9 778.0h6.4M1086.1 774.8v6.4M1080.6 772.9h6.4M1083.8 769.7v6.4M1079.9 760.9h6.4M1083.1 757.7v6.4M1080.3 780.7h6.4M1083.5 777.5v6.4M1067.3 766.2h6.4M1070.5 763.0v6.4M1103.2 769.5h6.4M1106.4 766.3v6.4M1107.2 763.7h6.4M1110.4 760.5v6.4M1105.5 772.0h6.4M1108.7 768.8v6.4M1109.6 775.3h6.4M1112.8 772.1v6.4M1107.2 766.9h6.4M1110.4 763.7v6.4M1112.8 768.6h6.4M1116.0 765.4v6.4M1105.6 768.0h6.4M1108.8 764.8v6.4M1111.2 777.5h6.4M1114.4 774.3v6.4M1104.6 782.4h6.4M1107.8 779.2v6.4M1112.7 768.8h6.4M1115.9 765.6v6.4M1097.1 767.8h6.4M1100.3 764.6v6.4M1096.7 766.9h6.4M1099.9 763.7v6.4M1093.4 778.3h6.4M1096.6 775.1v6.4M1099.7 780.6h6.4M1102.9 777.4v6.4M1091.0 767.3h6.4M1094.2 764.1v6.4M1113.8 780.9h6.4M1117.0 777.7v6.4M1114.7 783.3h6.4M1117.9 780.1v6.4M1112.1 775.5h6.4M1115.3 772.3v6.4M1114.0 763.5h6.4M1117.2 760.3v6.4M1101.8 773.7h6.4M1105.0 770.5v6.4M1109.6 774.1h6.4M1112.8 770.9v6.4M1095.6 780.9h6.4M1098.8 777.7v6.4M1103.0 775.4h6.4M1106.2 772.2v6.4M1091.1 783.7h6.4M1094.3 780.5v6.4M1091.4 783.7h6.4M1094.6 780.5v6.4M1105.8 771.2h6.4M1109.0 768.0v6.4M1106.3 771.4h6.4M1109.5 768.2v6.4M1113.3 779.6h6.4M1116.5 776.4v6.4M1091.1 770.3h6.4M1094.3 767.1v6.4M1098.5 778.7h6.4M1101.7 775.5v6.4M1098.5 768.4h6.4M1101.7 765.2v6.4M1113.5 773.4h6.4M1116.7 770.2v6.4M1098.8 765.7h6.4M1102.0 762.5v6.4M1091.0 764.9h6.4M1094.2 761.7v6.4M1119.6 777.9h6.4M1122.8 774.7v6.4M1137.8 769.2h6.4M1141.0 766.0v6.4M1116.3 760.5h6.4M1119.5 757.3v6.4M1138.4 781.2h6.4M1141.6 778.0v6.4M1135.9 777.2h6.4M1139.1 774.0v6.4M1127.0 767.8h6.4M1130.2 764.6v6.4M1123.2 771.7h6.4M1126.4 768.5v6.4M1119.6 770.2h6.4M1122.8 767.0v6.4M1137.5 772.5h6.4M1140.7 769.3v6.4M1127.2 771.6h6.4M1130.4 768.4v6.4M1126.9 781.4h6.4M1130.1 778.2v6.4M1130.4 777.7h6.4M1133.6 774.5v6.4M1137.0 778.2h6.4M1140.2 775.0v6.4M1131.8 780.1h6.4M1135.0 776.9v6.4M1124.8 774.7h6.4M1128.0 771.5v6.4M1121.1 780.9h6.4M1124.3 777.7v6.4M1134.5 771.4h6.4M1137.7 768.2v6.4M1130.4 783.0h6.4M1133.6 779.8v6.4M1122.4 773.8h6.4M1125.6 770.6v6.4M1135.8 772.3h6.4M1139.0 769.1v6.4M1116.7 764.8h6.4M1119.9 761.6v6.4M1116.9 768.8h6.4M1120.1 765.6v6.4M1116.3 777.7h6.4M1119.5 774.5v6.4M1118.9 760.3h6.4M1122.1 757.1v6.4M1116.0 760.9h6.4M1119.2 757.7v6.4M1134.6 760.9h6.4M1137.8 757.7v6.4M1123.8 780.2h6.4M1127.0 777.0v6.4M1134.7 766.7h6.4M1137.9 763.5v6.4M1115.1 780.4h6.4M1118.3 777.2v6.4M1130.5 782.0h6.4M1133.7 778.8v6.4M1155.4 778.2h6.4M1158.6 775.0v6.4M1153.6 776.2h6.4M1156.8 773.0v6.4M1153.7 762.8h6.4M1156.9 759.6v6.4M1144.8 777.4h6.4M1148.0 774.2v6.4M1161.2 763.8h6.4M1164.4 760.6v6.4M1143.3 767.5h6.4M1146.5 764.3v6.4M1152.3 781.2h6.4M1155.5 778.0v6.4M1142.6 782.9h6.4M1145.8 779.7v6.4M1150.4 761.3h6.4M1153.6 758.1v6.4M1151.2 768.5h6.4M1154.4 765.3v6.4M1148.4 781.6h6.4M1151.6 778.4v6.4M1139.5 767.1h6.4M1142.7 763.9v6.4M1151.9 768.5h6.4M1155.1 765.3v6.4M1150.6 776.4h6.4M1153.8 773.2v6.4M1149.9 762.2h6.4M1153.1 759.0v6.4M1152.1 761.4h6.4M1155.3 758.2v6.4M1147.1 778.1h6.4M1150.3 774.9v6.4M1144.8 765.5h6.4M1148.0 762.3v6.4M1143.3 760.5h6.4M1146.5 757.3v6.4M1152.6 764.4h6.4M1155.8 761.2v6.4M1156.3 761.6h6.4M1159.5 758.4v6.4M1141.7 775.0h6.4M1144.9 771.8v6.4M1153.6 766.8h6.4M1156.8 763.6v6.4M1142.4 780.3h6.4M1145.6 777.1v6.4M1153.6 771.4h6.4M1156.8 768.2v6.4M1142.0 768.0h6.4M1145.2 764.8v6.4M1153.6 763.5h6.4M1156.8 760.3v6.4M1056.2 804.8h6.4M1059.4 801.6v6.4M1052.6 796.9h6.4M1055.8 793.7v6.4M1052.7 786.9h6.4M1055.9 783.7v6.4M1055.9 786.0h6.4M1059.1 782.8v6.4M1064.2 806.3h6.4M1067.4 803.1v6.4M1064.9 805.0h6.4M1068.1 801.8v6.4M1048.7 798.5h6.4M1051.9 795.3v6.4M1060.7 794.4h6.4M1063.9 791.2v6.4M1059.5 799.2h6.4M1062.7 796.0v6.4M1044.5 785.2h6.4M1047.7 782.0v6.4M1064.4 805.7h6.4M1067.6 802.5v6.4M1060.1 796.6h6.4M1063.3 793.4v6.4M1061.9 805.9h6.4M1065.1 802.7v6.4M1060.9 800.3h6.4M1064.1 797.1v6.4M1043.9 790.1h6.4M1047.1 786.9v6.4M1050.8 795.0h6.4M1054.0 791.8v6.4M1049.8 803.2h6.4M1053.0 800.0v6.4M1066.6 793.4h6.4M1069.8 790.2v6.4M1062.1 791.5h6.4M1065.3 788.3v6.4M1061.6 790.3h6.4M1064.8 787.1v6.4M1051.2 788.7h6.4M1054.4 785.5v6.4M1055.6 791.4h6.4M1058.8 788.2v6.4M1064.1 787.1h6.4M1067.3 783.9v6.4M1064.3 789.2h6.4M1067.5 786.0v6.4M1072.0 800.5h6.4M1075.2 797.3v6.4M1083.1 787.5h6.4M1086.3 784.3v6.4M1081.2 792.8h6.4M1084.4 789.6v6.4M1081.4 794.1h6.4M1084.6 790.9v6.4M1078.5 786.4h6.4M1081.7 783.2v6.4M1068.9 804.4h6.4M1072.1 801.2v6.4M1070.2 804.1h6.4M1073.4 800.9v6.4M1074.2 800.4h6.4M1077.4 797.2v6.4M1076.7 795.7h6.4M1079.9 792.5v6.4M1072.9 790.9h6.4M1076.1 787.7v6.4M1070.5 803.0h6.4M1073.7 799.8v6.4M1067.2 804.9h6.4M1070.4 801.7v6.4M1085.7 790.0h6.4M1088.9 786.8v6.4M1071.6 803.8h6.4M1074.8 800.6v6.4M1077.2 789.2h6.4M1080.4 786.0v6.4M1079.8 806.3h6.4M1083.0 803.1v6.4M1087.6 797.0h6.4M1090.8 793.8v6.4M1080.0 801.6h6.4M1083.2 798.4v6.4M1074.9 784.9h6.4M1078.1 781.7v6.4M1079.2 786.7h6.4M1082.4 783.5v6.4M1073.6 791.5h6.4M1076.8 788.3v6.4M1079.7 785.1h6.4M1082.9 781.9v6.4M1072.4 784.3h6.4M1075.6 781.1v6.4M1087.3 807.7h6.4M1090.5 804.5v6.4M1083.8 784.5h6.4M1087.0 781.3v6.4M1069.8 802.2h6.4M1073.0 799.0v6.4M1078.2 801.0h6.4M1081.4 797.8v6.4M1099.3 806.1h6.4M1102.5 802.9v6.4M1098.0 798.2h6.4M1101.2 795.0v6.4M1104.4 790.4h6.4M1107.6 787.2v6.4M1097.7 807.0h6.4M1100.9 803.8v6.4M1113.0 804.5h6.4M1116.2 801.3v6.4M1108.2 797.7h6.4M1111.4 794.5v6.4M1098.5 786.5h6.4M1101.7 783.3v6.4M1113.2 802.6h6.4M1116.4 799.4v6.4M1097.0 805.2h6.4M1100.2 802.0v6.4M1104.8 786.2h6.4M1108.0 783.0v6.4M1098.5 789.7h6.4M1101.7 786.5v6.4M1109.2 803.8h6.4M1112.4 800.6v6.4M1105.9 794.5h6.4M1109.1 791.3v6.4M1111.3 793.7h6.4M1114.5 790.5v6.4M1094.3 799.6h6.4M1097.5 796.4v6.4M1112.6 805.4h6.4M1115.8 802.2v6.4M1110.6 794.5h6.4M1113.8 791.3v6.4M1102.4 799.3h6.4M1105.6 796.1v6.4M1103.6 806.1h6.4M1106.8 802.9v6.4M1107.1 804.3h6.4M1110.3 801.1v6.4M1105.5 785.5h6.4M1108.7 782.3v6.4M1092.7 789.9h6.4M1095.9 786.7v6.4M1105.0 805.3h6.4M1108.2 802.1v6.4M1112.2 798.3h6.4M1115.4 795.1v6.4M1097.2 798.2h6.4M1100.4 795.0v6.4M1096.6 796.5h6.4M1099.8 793.3v6.4M1102.6 806.4h6.4M1105.8 803.2v6.4M1112.5 785.2h6.4M1115.7 782.0v6.4M1110.5 798.4h6.4M1113.7 795.2v6.4M1105.2 794.8h6.4M1108.4 791.6v6.4M1112.2 802.6h6.4M1115.4 799.4v6.4M1094.3 792.3h6.4M1097.5 789.1v6.4M1096.8 789.3h6.4M1100.0 786.1v6.4M1095.7 800.1h6.4M1098.9 796.9v6.4M1123.6 790.0h6.4M1126.8 786.8v6.4M1122.7 804.3h6.4M1125.9 801.1v6.4M1118.3 804.9h6.4M1121.5 801.7v6.4M1129.2 795.5h6.4M1132.4 792.3v6.4M1118.7 807.9h6.4M1121.9 804.7v6.4M1134.7 798.9h6.4M1137.9 795.7v6.4M1127.6 798.7h6.4M1130.8 795.5v6.4M1124.2 784.7h6.4M1127.4 781.5v6.4M1119.3 792.1h6.4M1122.5 788.9v6.4M1117.3 802.2h6.4M1120.5 799.0v6.4M1128.0 804.2h6.4M1131.2 801.0v6.4M1136.0 798.0h6.4M1139.2 794.8v6.4M1130.6 789.3h6.4M1133.8 786.1v6.4M1117.3 801.6h6.4M1120.5 798.4v6.4M1135.8 789.2h6.4M1139.0 786.0v6.4M1135.1 794.1h6.4M1138.3 790.9v6.4M1128.8 805.2h6.4M1132.0 802.0v6.4M1136.4 803.5h6.4M1139.6 800.3v6.4M1134.7 800.7h6.4M1137.9 797.5v6.4M1134.8 803.6h6.4M1138.0 800.4v6.4M1121.2 797.9h6.4M1124.4 794.7v6.4M1116.0 788.9h6.4M1119.2 785.7v6.4M1137.3 788.3h6.4M1140.5 785.1v6.4M1124.5 788.9h6.4M1127.7 785.7v6.4M1120.4 793.9h6.4M1123.6 790.7v6.4M1117.0 801.8h6.4M1120.2 798.6v6.4M1120.1 787.6h6.4M1123.3 784.4v6.4M1125.8 795.4h6.4M1129.0 792.2v6.4M1124.5 807.3h6.4M1127.7 804.1v6.4M1137.5 804.4h6.4M1140.7 801.2v6.4M1152.6 787.2h6.4M1155.8 784.0v6.4M1155.3 789.9h6.4M1158.5 786.7v6.4M1152.0 787.6h6.4M1155.2 784.4v6.4M1155.1 789.2h6.4M1158.3 786.0v6.4M1161.4 802.4h6.4M1164.6 799.2v6.4M1152.3 786.7h6.4M1155.5 783.5v6.4M1143.8 794.6h6.4M1147.0 791.4v6.4M1155.9 795.3h6.4M1159.1 792.1v6.4M1160.2 797.4h6.4M1163.4 794.2v6.4M1145.0 788.9h6.4M1148.2 785.7v6.4M1140.4 803.6h6.4M1143.6 800.4v6.4M1160.1 804.1h6.4M1163.3 800.9v6.4M1160.2 804.1h6.4M1163.4 800.9v6.4M1150.7 793.5h6.4M1153.9 790.3v6.4M1153.1 806.4h6.4M1156.3 803.2v6.4M1143.5 806.9h6.4M1146.7 803.7v6.4M1156.0 787.3h6.4M1159.2 784.1v6.4M1139.5 787.6h6.4M1142.7 784.4v6.4M1160.0 791.2h6.4M1163.2 788.0v6.4M1158.1 800.9h6.4M1161.3 797.7v6.4M1143.5 792.1h6.4M1146.7 788.9v6.4M1144.7 786.8h6.4M1147.9 783.6v6.4M1146.8 800.8h6.4M1150.0 797.6v6.4M1150.9 797.0h6.4M1154.1 793.8v6.4M1150.0 799.3h6.4M1153.2 796.1v6.4M1152.3 787.6h6.4M1155.5 784.4v6.4M1141.2 792.0h6.4M1144.4 788.8v6.4M1059.7 827.2h6.4M1062.9 824.0v6.4M1055.4 828.6h6.4M1058.6 825.4v6.4M1058.7 827.5h6.4M1061.9 824.3v6.4M1057.9 829.2h6.4M1061.1 826.0v6.4M1050.4 813.9h6.4M1053.6 810.7v6.4M1058.0 823.3h6.4M1061.2 820.1v6.4M1056.0 813.9h6.4M1059.2 810.7v6.4M1060.8 823.7h6.4M1064.0 820.5v6.4M1053.8 821.3h6.4M1057.0 818.1v6.4M1049.9 817.3h6.4M1053.1 814.1v6.4M1066.0 811.4h6.4M1069.2 808.2v6.4M1054.6 822.6h6.4M1057.8 819.4v6.4M1054.8 819.0h6.4M1058.0 815.8v6.4M1045.2 827.2h6.4M1048.4 824.0v6.4M1044.3 816.7h6.4M1047.5 813.5v6.4M1052.3 812.1h6.4M1055.5 808.9v6.4M1064.2 827.8h6.4M1067.4 824.6v6.4M1043.3 808.9h6.4M1046.5 805.7v6.4M1044.2 813.6h6.4M1047.4 810.4v6.4M1047.0 819.3h6.4M1050.2 816.1v6.4M1045.8 809.0h6.4M1049.0 805.8v6.4M1066.8 829.3h6.4M1070.0 826.1v6.4M1044.6 816.3h6.4M1047.8 813.1v6.4M1047.6 811.5h6.4M1050.8 808.3v6.4M1056.1 818.4h6.4M1059.3 815.2v6.4M1050.4 819.9h6.4M1053.6 816.7v6.4M1054.3 809.0h6.4M1057.5 805.8v6.4M1044.7 818.0h6.4M1047.9 814.8v6.4M1059.8 827.4h6.4M1063.0 824.2v6.4M1052.4 808.4h6.4M1055.6 805.2v6.4M1087.5 808.7h6.4M1090.7 805.5v6.4M1073.3 822.1h6.4M1076.5 818.9v6.4M1078.4 814.3h6.4M1081.6 811.1v6.4M1081.5 812.0h6.4M1084.7 808.8v6.4M1085.1 808.8h6.4M1088.3 805.6v6.4M1067.6 815.8h6.4M1070.8 812.6v6.4M1085.9 828.5h6.4M1089.1 825.3v6.4M1088.8 817.8h6.4M1092.0 814.6v6.4M1088.8 817.1h6.4M1092.0 813.9v6.4M1079.1 812.7h6.4M1082.3 809.5v6.4M1081.9 814.3h6.4M1085.1 811.1v6.4M1087.9 815.7h6.4M1091.1 812.5v6.4M1088.7 821.3h6.4M1091.9 818.1v6.4M1075.9 823.6h6.4M1079.1 820.4v6.4M1072.4 819.8h6.4M1075.6 816.6v6.4M1077.5 814.0h6.4M1080.7 810.8v6.4M1067.5 811.2h6.4M1070.7 808.0v6.4M1086.0 808.4h6.4M1089.2 805.2v6.4M1074.8 813.0h6.4M1078.0 809.8v6.4M1069.0 820.2h6.4M1072.2 817.0v6.4M1087.9 818.4h6.4M1091.1 815.2v6.4M1089.6 814.3h6.4M1092.8 811.1v6.4M1086.1 808.5h6.4M1089.3 805.3v6.4M1071.0 825.8h6.4M1074.2 822.6v6.4M1067.8 819.6h6.4M1071.0 816.4v6.4M1078.4 827.3h6.4M1081.6 824.1v6.4M1082.0 825.9h6.4M1085.2 822.7v6.4M1068.4 811.9h6.4M1071.6 808.7v6.4M1080.7 820.4h6.4M1083.9 817.2v6.4M1088.7 830.7h6.4M1091.9 827.5v6.4M1086.5 826.8h6.4M1089.7 823.6v6.4M1073.2 821.9h6.4M1076.4 818.7v6.4M1079.0 824.1h6.4M1082.2 820.9v6.4M1073.5 818.5h6.4M1076.7 815.3v6.4M1096.5 826.1h6.4M1099.7 822.9v6.4M1091.4 827.8h6.4M1094.6 824.6v6.4M1110.9 810.6h6.4M1114.1 807.4v6.4M1111.0 812.3h6.4M1114.2 809.1v6.4M1106.5 809.5h6.4M1109.7 806.3v6.4M1097.6 821.8h6.4M1100.8 818.6v6.4M1113.6 823.2h6.4M1116.8 820.0v6.4M1095.2 809.2h6.4M1098.4 806.0v6.4M1110.2 814.3h6.4M1113.4 811.1v6.4M1101.7 825.0h6.4M1104.9 821.8v6.4M1107.5 812.6h6.4M1110.7 809.4v6.4M1103.1 831.4h6.4M1106.3 828.2v6.4M1098.7 822.1h6.4M1101.9 818.9v6.4M1100.9 808.6h6.4M1104.1 805.4v6.4M1113.3 816.7h6.4M1116.5 813.5v6.4M1114.5 819.5h6.4M1117.7 816.3v6.4M1103.7 815.1h6.4M1106.9 811.9v6.4M1092.2 826.6h6.4M1095.4 823.4v6.4M1097.0 827.7h6.4M1100.2 824.5v6.4M1106.0 829.8h6.4M1109.2 826.6v6.4M1099.0 816.1h6.4M1102.2 812.9v6.4M1106.9 820.4h6.4M1110.1 817.2v6.4M1113.3 817.9h6.4M1116.5 814.7v6.4M1110.2 814.1h6.4M1113.4 810.9v6.4M1097.8 822.1h6.4M1101.0 818.9v6.4M1104.3 814.0h6.4M1107.5 810.8v6.4M1092.2 809.5h6.4M1095.4 806.3v6.4M1099.4 816.5h6.4M1102.6 813.3v6.4M1101.2 819.1h6.4M1104.4 815.9v6.4M1098.8 812.7h6.4M1102.0 809.5v6.4M1096.4 820.0h6.4M1099.6 816.8v6.4M1113.6 830.7h6.4M1116.8 827.5v6.4M1112.7 815.1h6.4M1115.9 811.9v6.4M1098.5 813.8h6.4M1101.7 810.6v6.4M1135.5 825.3h6.4M1138.7 822.1v6.4M1137.5 811.4h6.4M1140.7 808.2v6.4M1115.4 817.6h6.4M1118.6 814.4v6.4M1116.7 819.4h6.4M1119.9 816.2v6.4M1129.1 831.8h6.4M1132.3 828.6v6.4M1125.6 825.8h6.4M1128.8 822.6v6.4M1132.7 824.3h6.4M1135.9 821.1v6.4M1128.0 823.6h6.4M1131.2 820.4v6.4M1135.1 813.0h6.4M1138.3 809.8v6.4M1115.6 825.2h6.4M1118.8 822.0v6.4M1118.4 826.1h6.4M1121.6 822.9v6.4M1124.9 830.6h6.4M1128.1 827.4v6.4M1130.6 815.7h6.4M1133.8 812.5v6.4M1118.3 809.0h6.4M1121.5 805.8v6.4M1116.8 818.5h6.4M1120.0 815.3v6.4M1132.0 831.8h6.4M1135.2 828.6v6.4M1132.5 820.7h6.4M1135.7 817.5v6.4M1128.7 822.0h6.4M1131.9 818.8v6.4M1116.2 822.1h6.4M1119.4 818.9v6.4M1116.4 811.9h6.4M1119.6 808.7v6.4M1136.1 815.3h6.4M1139.3 812.1v6.4M1130.8 815.7h6.4M1134.0 812.5v6.4M1119.7 818.3h6.4M1122.9 815.1v6.4M1128.6 830.1h6.4M1131.8 826.9v6.4M1128.6 811.5h6.4M1131.8 808.3v6.4M1114.8 820.5h6.4M1118.0 817.3v6.4M1117.0 815.9h6.4M1120.2 812.7v6.4M1116.8 809.3h6.4M1120.0 806.1v6.4M1133.5 821.1h6.4M1136.7 817.9v6.4M1124.7 823.4h6.4M1127.9 820.2v6.4M1159.2 808.5h6.4M1162.4 805.3v6.4M1161.0 825.8h6.4M1164.2 822.6v6.4M1153.7 822.6h6.4M1156.9 819.4v6.4M1158.9 822.5h6.4M1162.1 819.3v6.4M1159.2 816.4h6.4M1162.4 813.2v6.4M1143.2 822.8h6.4M1146.4 819.6v6.4M1156.5 831.0h6.4M1159.7 827.8v6.4M1159.3 822.6h6.4M1162.5 819.4v6.4M1158.4 825.3h6.4M1161.6 822.1v6.4M1153.2 825.0h6.4M1156.4 821.8v6.4M1142.1 816.0h6.4M1145.3 812.8v6.4M1152.7 813.3h6.4M1155.9 810.1v6.4M1145.5 809.1h6.4M1148.7 805.9v6.4M1138.9 831.8h6.4M1142.1 828.6v6.4M1140.1 810.9h6.4M1143.3 807.7v6.4M1154.7 821.5h6.4M1157.9 818.3v6.4M1141.9 821.1h6.4M1145.1 817.9v6.4M1154.1 810.1h6.4M1157.3 806.9v6.4M1157.0 812.4h6.4M1160.2 809.2v6.4M1141.4 827.7h6.4M1144.6 824.5v6.4M1149.4 811.0h6.4M1152.6 807.8v6.4M1155.2 813.1h6.4M1158.4 809.9v6.4M1151.6 810.4h6.4M1154.8 807.2v6.4M1155.4 823.3h6.4M1158.6 820.1v6.4M1146.7 810.0h6.4M1149.9 806.8v6.4M1154.9 815.2h6.4M1158.1 812.0v6.4M1159.4 830.7h6.4M1162.6 827.5v6.4M1044.5 833.5h6.4M1047.7 830.3v6.4M1043.7 832.3h6.4M1046.9 829.1v6.4M1043.1 855.2h6.4M1046.3 852.0v6.4M1049.9 850.1h6.4M1053.1 846.9v6.4M1058.0 849.0h6.4M1061.2 845.8v6.4M1050.6 839.7h6.4M1053.8 836.5v6.4M1047.7 832.7h6.4M1050.9 829.5v6.4M1056.0 835.5h6.4M1059.2 832.3v6.4M1057.9 837.0h6.4M1061.1 833.8v6.4M1047.6 838.8h6.4M1050.8 835.6v6.4M1045.4 842.5h6.4M1048.6 839.3v6.4M1062.2 834.2h6.4M1065.4 831.0v6.4M1058.9 832.9h6.4M1062.1 829.7v6.4M1048.6 838.8h6.4M1051.8 835.6v6.4M1051.3 850.5h6.4M1054.5 847.3v6.4M1043.4 842.5h6.4M1046.6 839.3v6.4M1052.0 838.6h6.4M1055.2 835.4v6.4M1046.6 837.4h6.4M1049.8 834.2v6.4M1056.4 852.4h6.4M1059.6 849.2v6.4M1064.5 841.0h6.4M1067.7 837.8v6.4M1044.1 839.0h6.4M1047.3 835.8v6.4M1060.0 840.7h6.4M1063.2 837.5v6.4M1052.6 836.8h6.4M1055.8 833.6v6.4M1063.6 847.7h6.4M1066.8 844.5v6.4M1053.6 843.5h6.4M1056.8 840.3v6.4M1044.2 843.0h6.4M1047.4 839.8v6.4M1064.0 846.4h6.4M1067.2 843.2v6.4M1059.0 840.2h6.4M1062.2 837.0v6.4M1053.6 848.2h6.4M1056.8 845.0v6.4M1054.4 838.5h6.4M1057.6 835.3v6.4M1046.4 839.6h6.4M1049.6 836.4v6.4M1051.7 846.7h6.4M1054.9 843.5v6.4M1046.7 852.1h6.4M1049.9 848.9v6.4M1047.9 846.7h6.4M1051.1 843.5v6.4M1082.6 849.6h6.4M1085.8 846.4v6.4M1086.2 848.6h6.4M1089.4 845.4v6.4M1070.0 840.9h6.4M1073.2 837.7v6.4M1068.8 854.9h6.4M1072.0 851.7v6.4M1074.0 845.9h6.4M1077.2 842.7v6.4M1087.6 847.6h6.4M1090.8 844.4v6.4M1089.1 843.1h6.4M1092.3 839.9v6.4M1087.0 846.5h6.4M1090.2 843.3v6.4M1074.8 841.6h6.4M1078.0 838.4v6.4M1083.6 834.7h6.4M1086.8 831.5v6.4M1082.5 844.4h6.4M1085.7 841.2v6.4M1076.8 834.2h6.4M1080.0 831.0v6.4M1082.4 833.1h6.4M1085.6 829.9v6.4M1071.0 855.8h6.4M1074.2 852.6v6.4M1067.9 854.3h6.4M1071.1 851.1v6.4M1078.7 840.2h6.4M1081.9 837.0v6.4M1070.4 853.5h6.4M1073.6 850.3v6.4M1071.4 848.1h6.4M1074.6 844.9v6.4M1078.4 835.6h6.4M1081.6 832.4v6.4M1070.1 836.4h6.4M1073.3 833.2v6.4M1068.4 855.7h6.4M1071.6 852.5v6.4M1072.6 854.8h6.4M1075.8 851.6v6.4M1073.1 844.4h6.4M1076.3 841.2v6.4M1071.0 847.5h6.4M1074.2 844.3v6.4M1073.9 832.6h6.4M1077.1 829.4v6.4M1070.3 842.4h6.4M1073.5 839.2v6.4M1068.6 834.1h6.4M1071.8 830.9v6.4M1075.5 846.7h6.4M1078.7 843.5v6.4M1072.5 847.0h6.4M1075.7 843.8v6.4M1082.9 849.6h6.4M1086.1 846.4v6.4M1090.5 855.1h6.4M1093.7 851.9v6.4M1074.8 845.2h6.4M1078.0 842.0v6.4M1089.2 851.2h6.4M1092.4 848.0v6.4M1085.0 852.9h6.4M1088.2 849.7v6.4M1102.8 840.7h6.4M1106.0 837.5v6.4M1101.3 849.7h6.4M1104.5 846.5v6.4M1101.1 834.3h6.4M1104.3 831.1v6.4M1111.8 835.1h6.4M1115.0 831.9v6.4M1113.4 851.1h6.4M1116.6 847.9v6.4M1102.1 855.6h6.4M1105.3 852.4v6.4M1094.5 839.2h6.4M1097.7 836.0v6.4M1093.0 836.0h6.4M1096.2 832.8v6.4M1101.2 833.6h6.4M1104.4 830.4v6.4M1107.8 842.7h6.4M1111.0 839.5v6.4M1100.5 842.0h6.4M1103.7 838.8v6.4M1098.1 851.9h6.4M1101.3 848.7v6.4M1094.9 849.1h6.4M1098.1 845.9v6.4M1093.8 849.5h6.4M1097.0 846.3v6.4M1099.4 835.8h6.4M1102.6 832.6v6.4M1109.7 833.9h6.4M1112.9 830.7v6.4M1109.6 840.4h6.4M1112.8 837.2v6.4M1095.8 833.9h6.4M1099.0 830.7v6.4M1111.8 833.6h6.4M1115.0 830.4v6.4M1111.1 837.5h6.4M1114.3 834.3v6.4M1105.2 844.8h6.4M1108.4 841.6v6.4M1107.0 841.6h6.4M1110.2 838.4v6.4M1101.7 841.6h6.4M1104.9 838.4v6.4M1105.4 848.7h6.4M1108.6 845.5v6.4M1098.5 853.0h6.4M1101.7 849.8v6.4M1114.3 845.6h6.4M1117.5 842.4v6.4M1106.8 852.5h6.4M1110.0 849.3v6.4M1108.5 850.9h6.4M1111.7 847.7v6.4M1091.5 843.7h6.4M1094.7 840.5v6.4M1112.2 846.8h6.4M1115.4 843.6v6.4M1108.4 834.9h6.4M1111.6 831.7v6.4M1093.2 835.1h6.4M1096.4 831.9v6.4M1096.7 847.9h6.4M1099.9 844.7v6.4M1107.6 835.1h6.4M1110.8 831.9v6.4M1113.1 850.0h6.4M1116.3 846.8v6.4M1112.1 845.1h6.4M1115.3 841.9v6.4M1104.4 835.9h6.4M1107.6 832.7v6.4M1100.3 847.8h6.4M1103.5 844.6v6.4M1114.3 850.0h6.4M1117.5 846.8v6.4M1095.2 851.5h6.4M1098.4 848.3v6.4M1136.9 836.3h6.4M1140.1 833.1v6.4M1137.1 853.4h6.4M1140.3 850.2v6.4M1133.5 832.5h6.4M1136.7 829.3v6.4M1135.7 853.8h6.4M1138.9 850.6v6.4M1117.3 853.8h6.4M1120.5 850.6v6.4M1134.6 836.7h6.4M1137.8 833.5v6.4M1120.0 841.7h6.4M1123.2 838.5v6.4M1130.1 848.9h6.4M1133.3 845.7v6.4M1126.7 842.3h6.4M1129.9 839.1v6.4M1122.1 833.9h6.4M1125.3 830.7v6.4M1125.1 835.9h6.4M1128.3 832.7v6.4M1117.6 840.3h6.4M1120.8 837.1v6.4M1127.1 855.1h6.4M1130.3 851.9v6.4M1127.0 849.7h6.4M1130.2 846.5v6.4M1116.6 848.2h6.4M1119.8 845.0v6.4M1125.2 837.8h6.4M1128.4 834.6v6.4M1133.5 840.2h6.4M1136.7 837.0v6.4M1119.4 850.5h6.4M1122.6 847.3v6.4M1136.6 833.8h6.4M1139.8 830.6v6.4M1132.6 845.5h6.4M1135.8 842.3v6.4M1134.8 838.4h6.4M1138.0 835.2v6.4M1132.4 853.9h6.4M1135.6 850.7v6.4M1120.0 850.4h6.4M1123.2 847.2v6.4M1124.1 851.4h6.4M1127.3 848.2v6.4M1121.6 851.1h6.4M1124.8 847.9v6.4M1120.0 847.2h6.4M1123.2 844.0v6.4M1128.7 836.7h6.4M1131.9 833.5v6.4M1114.9 843.3h6.4M1118.1 840.1v6.4M1136.9 847.7h6.4M1140.1 844.5v6.4M1136.8 849.5h6.4M1140.0 846.3v6.4M1123.7 853.4h6.4M1126.9 850.2v6.4M1130.9 844.1h6.4M1134.1 840.9v6.4M1130.0 836.5h6.4M1133.2 833.3v6.4M1127.9 842.9h6.4M1131.1 839.7v6.4M1136.5 839.6h6.4M1139.7 836.4v6.4M1124.1 838.0h6.4M1127.3 834.8v6.4M1136.4 842.0h6.4M1139.6 838.8v6.4M1137.1 833.5h6.4M1140.3 830.3v6.4M1159.0 847.9h6.4M1162.2 844.7v6.4M1162.4 839.7h6.4M1165.6 836.5v6.4M1146.8 845.5h6.4M1150.0 842.3v6.4M1145.8 847.4h6.4M1149.0 844.2v6.4M1158.1 846.2h6.4M1161.3 843.0v6.4M1142.8 849.0h6.4M1146.0 845.8v6.4M1160.6 851.9h6.4M1163.8 848.7v6.4M1155.2 842.6h6.4M1158.4 839.4v6.4M1140.8 847.7h6.4M1144.0 844.5v6.4M1146.6 833.3h6.4M1149.8 830.1v6.4M1140.3 843.1h6.4M1143.5 839.9v6.4M1141.9 844.1h6.4M1145.1 840.9v6.4M1150.2 854.9h6.4M1153.4 851.7v6.4M1143.7 849.4h6.4M1146.9 846.2v6.4M1149.9 833.4h6.4M1153.1 830.2v6.4M1140.3 838.1h6.4M1143.5 834.9v6.4M1141.9 848.1h6.4M1145.1 844.9v6.4M1148.0 846.7h6.4M1151.2 843.5v6.4M1141.7 837.7h6.4M1144.9 834.5v6.4M1154.1 832.4h6.4M1157.3 829.2v6.4M1148.0 839.3h6.4M1151.2 836.1v6.4M1160.1 840.0h6.4M1163.3 836.8v6.4M1160.2 855.9h6.4M1163.4 852.7v6.4M1144.8 835.7h6.4M1148.0 832.5v6.4M1143.6 844.4h6.4M1146.8 841.2v6.4M1142.0 836.0h6.4M1145.2 832.8v6.4M1148.1 833.8h6.4M1151.3 830.6v6.4M1141.6 833.6h6.4M1144.8 830.4v6.4M1148.6 846.8h6.4M1151.8 843.6v6.4M1147.3 845.5h6.4M1150.5 842.3v6.4M1055.4 873.9h6.4M1058.6 870.7v6.4M1044.9 862.0h6.4M1048.1 858.8v6.4M1060.8 860.0h6.4M1064.0 856.8v6.4M1061.7 876.1h6.4M1064.9 872.9v6.4M1059.6 867.4h6.4M1062.8 864.2v6.4M1055.4 866.4h6.4M1058.6 863.2v6.4M1045.5 866.4h6.4M1048.7 863.2v6.4M1049.3 870.5h6.4M1052.5 867.3v6.4M1052.2 860.5h6.4M1055.4 857.3v6.4M1043.8 868.9h6.4M1047.0 865.7v6.4M1048.7 856.1h6.4M1051.9 852.9v6.4M1056.4 878.2h6.4M1059.6 875.0v6.4M1058.8 857.1h6.4M1062.0 853.9v6.4M1062.5 857.9h6.4M1065.7 854.7v6.4M1052.0 877.1h6.4M1055.2 873.9v6.4M1048.8 867.4h6.4M1052.0 864.2v6.4M1055.4 872.4h6.4M1058.6 869.2v6.4M1053.5 876.5h6.4M1056.7 873.3v6.4M1042.9 871.2h6.4M1046.1 868.0v6.4M1052.7 872.2h6.4M1055.9 869.0v6.4M1046.6 873.1h6.4M1049.8 869.9v6.4M1060.2 858.8h6.4M1063.4 855.6v6.4M1061.4 875.8h6.4M1064.6 872.6v6.4M1060.7 857.7h6.4M1063.9 854.5v6.4M1048.6 862.9h6.4M1051.8 859.7v6.4M1062.0 876.4h6.4M1065.2 873.2v6.4M1043.4 869.2h6.4M1046.6 866.0v6.4M1066.3 865.9h6.4M1069.5 862.7v6.4M1061.1 877.6h6.4M1064.3 874.4v6.4M1060.4 873.5h6.4M1063.6 870.3v6.4M1042.8 865.2h6.4M1046.0 862.0v6.4M1047.4 856.0h6.4M1050.6 852.8v6.4M1060.2 870.0h6.4M1063.4 866.8v6.4M1062.2 860.9h6.4M1065.4 857.7v6.4M1074.2 872.2h6.4M1077.4 869.0v6.4M1080.3 876.3h6.4M1083.5 873.1v6.4M1076.7 873.6h6.4M1079.9 870.4v6.4M1067.9 864.9h6.4M1071.1 861.7v6.4M1078.6 861.6h6.4M1081.8 858.4v6.4M1089.1 872.9h6.4M1092.3 869.7v6.4M1090.7 877.7h6.4M1093.9 874.5v6.4M1072.1 876.5h6.4M1075.3 873.3v6.4M1084.1 858.0h6.4M1087.3 854.8v6.4M1069.2 858.3h6.4M1072.4 855.1v6.4M1082.9 859.0h6.4M1086.1 855.8v6.4M1074.4 860.6h6.4M1077.6 857.4v6.4M1068.7 862.4h6.4M1071.9 859.2v6.4M1070.6 878.2h6.4M1073.8 875.0v6.4M1089.3 859.1h6.4M1092.5 855.9v6.4M1071.6 878.3h6.4M1074.8 875.1v6.4M1074.9 862.5h6.4M1078.1 859.3v6.4M1086.4 865.6h6.4M1089.6 862.4v6.4M1085.6 875.6h6.4M1088.8 872.4v6.4M1068.5 869.4h6.4M1071.7 866.2v6.4M1074.9 873.2h6.4M1078.1 870.0v6.4M1078.9 866.5h6.4M1082.1 863.3v6.4M1087.2 876.6h6.4M1090.4 873.4v6.4M1086.7 877.6h6.4M1089.9 874.4v6.4M1071.8 864.0h6.4M1075.0 860.8v6.4M1088.7 869.1h6.4M1091.9 865.9v6.4M1068.2 879.3h6.4M1071.4 876.1v6.4M1076.6 866.5h6.4M1079.8 863.3v6.4M1083.3 879.8h6.4M1086.5 876.6v6.4M1080.2 867.6h6.4M1083.4 864.4v6.4M1072.3 858.5h6.4M1075.5 855.3v6.4M1068.8 857.1h6.4M1072.0 853.9v6.4M1068.4 866.7h6.4M1071.6 863.5v6.4M1081.5 868.5h6.4M1084.7 865.3v6.4M1081.6 859.3h6.4M1084.8 856.1v6.4M1088.7 876.3h6.4M1091.9 873.1v6.4M1088.0 870.5h6.4M1091.2 867.3v6.4M1077.0 872.4h6.4M1080.2 869.2v6.4M1111.3 857.5h6.4M1114.5 854.3v6.4M1092.1 858.6h6.4M1095.3 855.4v6.4M1092.9 872.6h6.4M1096.1 869.4v6.4M1090.8 875.0h6.4M1094.0 871.8v6.4M1105.4 870.2h6.4M1108.6 867.0v6.4M1100.5 861.9h6.4M1103.7 858.7v6.4M1092.0 875.0h6.4M1095.2 871.8v6.4M1091.1 867.8h6.4M1094.3 864.6v6.4M1092.9 859.1h6.4M1096.1 855.9v6.4M1110.6 866.7h6.4M1113.8 863.5v6.4M1098.4 873.9h6.4M1101.6 870.7v6.4M1093.2 862.8h6.4M1096.4 859.6v6.4M1103.5 864.6h6.4M1106.7 861.4v6.4M1102.1 870.7h6.4M1105.3 867.5v6.4M1094.5 872.6h6.4M1097.7 869.4v6.4M1097.3 867.3h6.4M1100.5 864.1v6.4M1110.0 863.3h6.4M1113.2 860.1v6.4M1114.0 866.2h6.4M1117.2 863.0v6.4M1106.4 877.1h6.4M1109.6 873.9v6.4M1112.1 856.8h6.4M1115.3 853.6v6.4M1095.6 879.5h6.4M1098.8 876.3v6.4M1098.2 865.4h6.4M1101.4 862.2v6.4M1107.3 871.0h6.4M1110.5 867.8v6.4M1107.8 873.9h6.4M1111.0 870.7v6.4M1104.6 863.1h6.4M1107.8 859.9v6.4M1108.6 868.2h6.4M1111.8 865.0v6.4M1097.9 864.9h6.4M1101.1 861.7v6.4M1100.3 865.5h6.4M1103.5 862.3v6.4M1108.4 874.4h6.4M1111.6 871.2v6.4M1094.1 879.4h6.4M1097.3 876.2v6.4M1092.1 873.5h6.4M1095.3 870.3v6.4M1113.3 867.9h6.4M1116.5 864.7v6.4M1103.0 865.7h6.4M1106.2 862.5v6.4M1100.5 877.5h6.4M1103.7 874.3v6.4M1114.7 865.6h6.4M1117.9 862.4v6.4M1114.3 860.0h6.4M1117.5 856.8v6.4M1109.6 857.5h6.4M1112.8 854.3v6.4M1112.6 862.8h6.4M1115.8 859.6v6.4M1092.0 870.7h6.4M1095.2 867.5v6.4M1110.6 870.3h6.4M1113.8 867.1v6.4M1125.0 879.5h6.4M1128.2 876.3v6.4M1126.1 862.9h6.4M1129.3 859.7v6.4M1121.1 866.6h6.4M1124.3 863.4v6.4M1133.7 864.1h6.4M1136.9 860.9v6.4M1128.4 867.5h6.4M1131.6 864.3v6.4M1131.1 878.3h6.4M1134.3 875.1v6.4M1125.5 878.6h6.4M1128.7 875.4v6.4M1119.5 859.9h6.4M1122.7 856.7v6.4M1127.6 856.8h6.4M1130.8 853.6v6.4M1126.7 869.4h6.4M1129.9 866.2v6.4M1119.0 861.1h6.4M1122.2 857.9v6.4M1122.9 875.7h6.4M1126.1 872.5v6.4M1135.6 856.8h6.4M1138.8 853.6v6.4M1125.5 879.7h6.4M1128.7 876.5v6.4M1130.7 868.9h6.4M1133.9 865.7v6.4M1127.7 859.1h6.4M1130.9 855.9v6.4M1122.4 866.1h6.4M1125.6 862.9v6.4M1116.8 868.4h6.4M1120.0 865.2v6.4M1115.3 870.5h6.4M1118.5 867.3v6.4M1134.4 865.1h6.4M1137.6 861.9v6.4M1132.3 877.3h6.4M1135.5 874.1v6.4M1123.7 858.8h6.4M1126.9 855.6v6.4M1121.4 870.7h6.4M1124.6 867.5v6.4M1135.0 860.8h6.4M1138.2 857.6v6.4M1138.1 856.4h6.4M1141.3 853.2v6.4M1135.8 869.9h6.4M1139.0 866.7v6.4M1138.7 874.2h6.4M1141.9 871.0v6.4M1136.1 878.1h6.4M1139.3 874.9v6.4M1134.1 861.3h6.4M1137.3 858.1v6.4M1125.9 868.3h6.4M1129.1 865.1v6.4M1118.3 878.3h6.4M1121.5 875.1v6.4M1122.0 859.4h6.4M1125.2 856.2v6.4M1121.1 858.8h6.4M1124.3 855.6v6.4M1118.8 879.2h6.4M1122.0 876.0v6.4M1121.9 858.4h6.4M1125.1 855.2v6.4M1118.2 873.4h6.4M1121.4 870.2v6.4M1117.4 876.5h6.4M1120.6 873.3v6.4M1124.9 862.0h6.4M1128.1 858.8v6.4M1140.9 871.5h6.4M1144.1 868.3v6.4M1154.0 862.4h6.4M1157.2 859.2v6.4M1143.0 857.5h6.4M1146.2 854.3v6.4M1143.2 867.3h6.4M1146.4 864.1v6.4M1139.2 857.9h6.4M1142.4 854.7v6.4M1156.5 866.1h6.4M1159.7 862.9v6.4M1162.1 862.2h6.4M1165.3 859.0v6.4M1154.0 859.9h6.4M1157.2 856.7v6.4M1152.9 861.6h6.4M1156.1 858.4v6.4M1145.2 880.0h6.4M1148.4 876.8v6.4M1139.0 873.4h6.4M1142.2 870.2v6.4M1146.3 873.8h6.4M1149.5 870.6v6.4M1153.2 859.7h6.4M1156.4 856.5v6.4M1144.7 878.6h6.4M1147.9 875.4v6.4M1162.2 859.3h6.4M1165.4 856.1v6.4M1154.0 866.0h6.4M1157.2 862.8v6.4M1145.4 875.5h6.4M1148.6 872.3v6.4M1142.1 872.5h6.4M1145.3 869.3v6.4M1140.4 859.8h6.4M1143.6 856.6v6.4M1139.4 858.8h6.4M1142.6 855.6v6.4M1162.6 874.1h6.4M1165.8 870.9v6.4M1161.3 876.6h6.4M1164.5 873.4v6.4M1140.1 876.3h6.4M1143.3 873.1v6.4M1146.7 859.7h6.4M1149.9 856.5v6.4M1157.5 858.2h6.4M1160.7 855.0v6.4M1147.3 873.3h6.4M1150.5 870.1v6.4M1154.1 874.7h6.4M1157.3 871.5v6.4M1158.7 871.9h6.4M1161.9 868.7v6.4M1138.9 868.5h6.4M1142.1 865.3v6.4M1147.4 870.3h6.4M1150.6 867.1v6.4M1153.9 865.5h6.4M1157.1 862.3v6.4M1159.3 860.0h6.4M1162.5 856.8v6.4M1143.2 871.0h6.4M1146.4 867.8v6.4M1161.6 860.0h6.4M1164.8 856.8v6.4M1058.6 878.4h6.4M1061.8 875.2v6.4M1051.0 880.8h6.4M1054.2 877.6v6.4M1057.7 872.7h6.4M1060.9 869.5v6.4M1046.3 871.9h6.4M1049.5 868.7v6.4M1053.9 883.3h6.4M1057.1 880.1v6.4M1056.2 877.1h6.4M1059.4 873.9v6.4M1061.9 881.6h6.4M1065.1 878.4v6.4M1047.5 865.0h6.4M1050.7 861.8v6.4M1061.9 866.4h6.4M1065.1 863.2v6.4M1047.2 861.2h6.4M1050.4 858.0v6.4M1054.9 872.5h6.4M1058.1 869.3v6.4M1047.5 882.6h6.4M1050.7 879.4v6.4M1045.9 867.2h6.4M1049.1 864.0v6.4M1046.9 868.6h6.4M1050.1 865.4v6.4M1064.4 881.8h6.4M1067.6 878.6v6.4M1045.8 867.3h6.4M1049.0 864.1v6.4M1043.4 875.2h6.4M1046.6 872.0v6.4M1057.4 877.6h6.4M1060.6 874.4v6.4M1054.0 863.8h6.4M1057.2 860.6v6.4M1049.6 882.7h6.4M1052.8 879.5v6.4M1050.7 878.0h6.4M1053.9 874.8v6.4M1059.6 879.6h6.4M1062.8 876.4v6.4M1055.6 868.8h6.4M1058.8 865.6v6.4M1062.6 867.4h6.4M1065.8 864.2v6.4M1064.3 874.6h6.4M1067.5 871.4v6.4M1049.8 863.2h6.4M1053.0 860.0v6.4M1054.3 867.4h6.4M1057.5 864.2v6.4M1072.1 861.7h6.4M1075.3 858.5v6.4M1069.0 882.1h6.4M1072.2 878.9v6.4M1090.2 877.1h6.4M1093.4 873.9v6.4M1074.3 860.9h6.4M1077.5 857.7v6.4M1086.7 870.1h6.4M1089.9 866.9v6.4M1087.8 871.3h6.4M1091.0 868.1v6.4M1079.3 863.9h6.4M1082.5 860.7v6.4M1083.7 870.5h6.4M1086.9 867.3v6.4M1066.9 870.6h6.4M1070.1 867.4v6.4M1090.5 865.1h6.4M1093.7 861.9v6.4M1079.2 874.2h6.4M1082.4 871.0v6.4M1083.7 863.2h6.4M1086.9 860.0v6.4M1089.9 866.2h6.4M1093.1 863.0v6.4M1086.9 872.5h6.4M1090.1 869.3v6.4M1083.0 863.0h6.4M1086.2 859.8v6.4M1076.4 867.0h6.4M1079.6 863.8v6.4M1071.0 861.2h6.4M1074.2 858.0v6.4M1074.9 877.6h6.4M1078.1 874.4v6.4M1067.2 874.7h6.4M1070.4 871.5v6.4M1083.7 862.2h6.4M1086.9 859.0v6.4M1086.5 876.3h6.4M1089.7 873.1v6.4M1083.2 881.5h6.4M1086.4 878.3v6.4M1081.4 864.0h6.4M1084.6 860.8v6.4M1080.6 869.7h6.4M1083.8 866.5v6.4M1075.0 878.3h6.4M1078.2 875.1v6.4M1066.9 877.7h6.4M1070.1 874.5v6.4M1067.1 868.4h6.4M1070.3 865.2v6.4M1092.1 870.2h6.4M1095.3 867.0v6.4M1096.4 875.9h6.4M1099.6 872.7v6.4M1101.0 877.2h6.4M1104.2 874.0v6.4M1095.2 862.7h6.4M1098.4 859.5v6.4M1096.0 873.9h6.4M1099.2 870.7v6.4M1103.4 882.6h6.4M1106.6 879.4v6.4M1093.9 881.0h6.4M1097.1 877.8v6.4M1111.1 880.6h6.4M1114.3 877.4v6.4M1092.0 875.8h6.4M1095.2 872.6v6.4M1092.1 882.5h6.4M1095.3 879.3v6.4M1094.4 870.1h6.4M1097.6 866.9v6.4M1099.1 862.2h6.4M1102.3 859.0v6.4M1102.2 873.9h6.4M1105.4 870.7v6.4M1094.2 862.4h6.4M1097.4 859.2v6.4M1091.9 867.9h6.4M1095.1 864.7v6.4M1112.2 863.9h6.4M1115.4 860.7v6.4M1102.4 872.5h6.4M1105.6 869.3v6.4M1100.6 881.9h6.4M1103.8 878.7v6.4M1099.3 868.1h6.4M1102.5 864.9v6.4M1114.5 862.0h6.4M1117.7 858.8v6.4M1108.7 875.1h6.4M1111.9 871.9v6.4M1105.7 872.4h6.4M1108.9 869.2v6.4M1100.8 865.8h6.4M1104.0 862.6v6.4M1105.1 869.1h6.4M1108.3 865.9v6.4M1106.3 878.0h6.4M1109.5 874.8v6.4M1105.5 873.2h6.4M1108.7 870.0v6.4M1092.6 870.6h6.4M1095.8 867.4v6.4M1101.1 867.2h6.4M1104.3 864.0v6.4M1099.7 869.5h6.4M1102.9 866.3v6.4M1105.1 876.8h6.4M1108.3 873.6v6.4M1108.0 875.8h6.4M1111.2 872.6v6.4M1091.8 880.8h6.4M1095.0 877.6v6.4M1108.9 865.2h6.4M1112.1 862.0v6.4M1112.7 880.3h6.4M1115.9 877.1v6.4M1119.1 861.9h6.4M1122.3 858.7v6.4M1116.4 880.1h6.4M1119.6 876.9v6.4M1116.0 878.9h6.4M1119.2 875.7v6.4M1125.0 871.1h6.4M1128.2 867.9v6.4M1121.9 876.2h6.4M1125.1 873.0v6.4M1138.5 874.2h6.4M1141.7 871.0v6.4M1125.3 871.8h6.4M1128.5 868.6v6.4M1127.6 872.7h6.4M1130.8 869.5v6.4M1122.4 877.3h6.4M1125.6 874.1v6.4M1126.3 867.7h6.4M1129.5 864.5v6.4M1126.6 877.3h6.4M1129.8 874.1v6.4M1131.0 870.9h6.4M1134.2 867.7v6.4M1138.8 862.2h6.4M1142.0 859.0v6.4M1126.3 868.2h6.4M1129.5 865.0v6.4M1137.9 882.2h6.4M1141.1 879.0v6.4M1126.0 883.5h6.4M1129.2 880.3v6.4M1135.0 870.3h6.4M1138.2 867.1v6.4M1129.9 879.4h6.4M1133.1 876.2v6.4M1120.5 875.2h6.4M1123.7 872.0v6.4M1118.0 878.2h6.4M1121.2 875.0v6.4M1131.9 868.2h6.4M1135.1 865.0v6.4M1129.3 875.0h6.4M1132.5 871.8v6.4M1127.9 871.8h6.4M1131.1 868.6v6.4M1119.4 883.1h6.4M1122.6 879.9v6.4M1134.9 873.2h6.4M1138.1 870.0v6.4M1119.4 862.4h6.4M1122.6 859.2v6.4M1135.3 882.8h6.4M1138.5 879.6v6.4M1130.0 860.7h6.4M1133.2 857.5v6.4M1123.1 872.8h6.4M1126.3 869.6v6.4M1120.4 861.4h6.4M1123.6 858.2v6.4M1130.8 881.6h6.4M1134.0 878.4v6.4M1118.7 869.9h6.4M1121.9 866.7v6.4M1137.2 862.9h6.4M1140.4 859.7v6.4M1120.9 861.0h6.4M1124.1 857.8v6.4M1137.9 867.8h6.4M1141.1 864.6v6.4M1117.2 869.8h6.4M1120.4 866.6v6.4M1124.5 881.6h6.4M1127.7 878.4v6.4M1119.2 868.5h6.4M1122.4 865.3v6.4M1143.5 875.8h6.4M1146.7 872.6v6.4M1142.2 872.6h6.4M1145.4 869.4v6.4M1150.3 881.5h6.4M1153.5 878.3v6.4M1157.9 870.3h6.4M1161.1 867.1v6.4M1139.6 876.0h6.4M1142.8 872.8v6.4M1145.6 880.3h6.4M1148.8 877.1v6.4M1147.2 864.0h6.4M1150.4 860.8v6.4M1151.0 883.9h6.4M1154.2 880.7v6.4M1159.4 881.7h6.4M1162.6 878.5v6.4M1154.7 862.3h6.4M1157.9 859.1v6.4M1147.5 880.0h6.4M1150.7 876.8v6.4M1142.8 876.2h6.4M1146.0 873.0v6.4M1161.2 872.4h6.4M1164.4 869.2v6.4M1148.8 862.3h6.4M1152.0 859.1v6.4M1157.7 867.0h6.4M1160.9 863.8v6.4M1141.7 867.9h6.4M1144.9 864.7v6.4M1146.9 861.8h6.4M1150.1 858.6v6.4M1160.8 883.2h6.4M1164.0 880.0v6.4M1147.7 880.6h6.4M1150.9 877.4v6.4M1147.6 869.0h6.4M1150.8 865.8v6.4M1141.8 881.1h6.4M1145.0 877.9v6.4M1139.2 865.9h6.4M1142.4 862.7v6.4M1153.7 872.1h6.4M1156.9 868.9v6.4M1158.0 877.1h6.4M1161.2 873.9v6.4M1148.1 882.9h6.4M1151.3 879.7v6.4M1153.9 871.7h6.4M1157.1 868.5v6.4M1155.5 868.1h6.4M1158.7 864.9v6.4M1142.8 878.1h6.4M1146.0 874.9v6.4M1145.4 880.8h6.4M1148.6 877.6v6.4M1140.2 866.9h6.4M1143.4 863.7v6.4M1157.2 863.4h6.4M1160.4 860.2v6.4M1144.6 878.4h6.4M1147.8 875.2v6.4M1151.4 879.2h6.4M1154.6 876.0v6.4M1159.3 872.0h6.4M1162.5 868.8v6.4M1045.9 900.7h6.4M1049.1 897.5v6.4M1050.2 902.0h6.4M1053.4 898.8v6.4M1045.1 897.1h6.4M1048.3 893.9v6.4M1049.6 884.2h6.4M1052.8 881.0v6.4M1046.3 895.7h6.4M1049.5 892.5v6.4M1044.3 907.5h6.4M1047.5 904.3v6.4M1065.1 887.6h6.4M1068.3 884.4v6.4M1044.4 884.9h6.4M1047.6 881.7v6.4M1063.6 888.0h6.4M1066.8 884.8v6.4M1056.6 890.9h6.4M1059.8 887.7v6.4M1052.6 907.5h6.4M1055.8 904.3v6.4M1060.4 904.0h6.4M1063.6 900.8v6.4M1057.6 899.0h6.4M1060.8 895.8v6.4M1052.2 905.2h6.4M1055.4 902.0v6.4M1059.5 898.4h6.4M1062.7 895.2v6.4M1045.0 903.4h6.4M1048.2 900.2v6.4M1062.9 898.2h6.4M1066.1 895.0v6.4M1050.2 897.0h6.4M1053.4 893.8v6.4M1048.7 901.2h6.4M1051.9 898.0v6.4M1056.8 896.9h6.4M1060.0 893.7v6.4M1055.0 886.7h6.4M1058.2 883.5v6.4M1065.1 886.4h6.4M1068.3 883.2v6.4M1051.6 892.4h6.4M1054.8 889.2v6.4M1056.6 902.5h6.4M1059.8 899.3v6.4M1072.9 892.1h6.4M1076.1 888.9v6.4M1080.8 902.8h6.4M1084.0 899.6v6.4M1079.4 906.2h6.4M1082.6 903.0v6.4M1078.6 894.7h6.4M1081.8 891.5v6.4M1078.8 889.1h6.4M1082.0 885.9v6.4M1068.1 898.0h6.4M1071.3 894.8v6.4M1085.7 896.2h6.4M1088.9 893.0v6.4M1075.9 893.7h6.4M1079.1 890.5v6.4M1070.6 887.2h6.4M1073.8 884.0v6.4M1086.7 885.3h6.4M1089.9 882.1v6.4M1072.7 891.9h6.4M1075.9 888.7v6.4M1085.4 904.0h6.4M1088.6 900.8v6.4M1087.5 900.7h6.4M1090.7 897.5v6.4M1086.7 897.5h6.4M1089.9 894.3v6.4M1087.1 894.5h6.4M1090.3 891.3v6.4M1078.6 906.7h6.4M1081.8 903.5v6.4M1075.8 893.7h6.4M1079.0 890.5v6.4M1069.3 899.9h6.4M1072.5 896.7v6.4M1088.2 893.2h6.4M1091.4 890.0v6.4M1085.2 902.5h6.4M1088.4 899.3v6.4M1085.6 892.3h6.4M1088.8 889.1v6.4M1067.8 901.2h6.4M1071.0 898.0v6.4M1081.5 902.2h6.4M1084.7 899.0v6.4M1067.8 903.8h6.4M1071.0 900.6v6.4M1067.2 894.2h6.4M1070.4 891.0v6.4M1077.4 894.1h6.4M1080.6 890.9v6.4M1079.7 901.3h6.4M1082.9 898.1v6.4M1086.1 908.0h6.4M1089.3 904.8v6.4M1073.7 893.8h6.4M1076.9 890.6v6.4M1078.0 899.3h6.4M1081.2 896.1v6.4M1088.5 903.3h6.4M1091.7 900.1v6.4M1082.1 888.2h6.4M1085.3 885.0v6.4M1069.5 906.1h6.4M1072.7 902.9v6.4M1086.2 893.3h6.4M1089.4 890.1v6.4M1106.3 890.7h6.4M1109.5 887.5v6.4M1109.3 894.5h6.4M1112.5 891.3v6.4M1112.4 906.5h6.4M1115.6 903.3v6.4M1107.7 895.3h6.4M1110.9 892.1v6.4M1110.3 907.5h6.4M1113.5 904.3v6.4M1099.4 893.6h6.4M1102.6 890.4v6.4M1095.5 903.2h6.4M1098.7 900.0v6.4M1096.1 902.6h6.4M1099.3 899.4v6.4M1113.5 899.1h6.4M1116.7 895.9v6.4M1094.3 897.3h6.4M1097.5 894.1v6.4M1093.9 893.8h6.4M1097.1 890.6v6.4M1094.4 894.2h6.4M1097.6 891.0v6.4M1107.7 889.8h6.4M1110.9 886.6v6.4M1099.9 887.8h6.4M1103.1 884.6v6.4M1095.6 907.8h6.4M1098.8 904.6v6.4M1112.2 902.1h6.4M1115.4 898.9v6.4M1094.5 898.5h6.4M1097.7 895.3v6.4M1104.5 898.6h6.4M1107.7 895.4v6.4M1113.4 886.9h6.4M1116.6 883.7v6.4M1097.9 895.4h6.4M1101.1 892.2v6.4M1095.0 900.5h6.4M1098.2 897.3v6.4M1097.7 884.2h6.4M1100.9 881.0v6.4M1096.1 896.7h6.4M1099.3 893.5v6.4M1112.3 897.9h6.4M1115.5 894.7v6.4M1101.2 904.0h6.4M1104.4 900.8v6.4M1110.4 892.4h6.4M1113.6 889.2v6.4M1108.2 905.6h6.4M1111.4 902.4v6.4M1105.9 906.4h6.4M1109.1 903.2v6.4M1103.8 900.6h6.4M1107.0 897.4v6.4M1102.8 901.2h6.4M1106.0 898.0v6.4M1094.7 888.8h6.4M1097.9 885.6v6.4M1098.0 893.9h6.4M1101.2 890.7v6.4M1102.7 907.6h6.4M1105.9 904.4v6.4M1105.4 902.6h6.4M1108.6 899.4v6.4M1107.1 894.2h6.4M1110.3 891.0v6.4M1106.6 903.9h6.4M1109.8 900.7v6.4M1095.8 890.4h6.4M1099.0 887.2v6.4M1109.5 891.8h6.4M1112.7 888.6v6.4M1094.3 896.4h6.4M1097.5 893.2v6.4M1112.8 885.4h6.4M1116.0 882.2v6.4M1136.3 898.4h6.4M1139.5 895.2v6.4M1124.8 899.0h6.4M1128.0 895.8v6.4M1115.2 893.9h6.4M1118.4 890.7v6.4M1127.0 898.6h6.4M1130.2 895.4v6.4M1136.8 906.3h6.4M1140.0 903.1v6.4M1136.3 891.8h6.4M1139.5 888.6v6.4M1135.9 890.3h6.4M1139.1 887.1v6.4M1116.8 907.0h6.4M1120.0 903.8v6.4M1127.5 886.8h6.4M1130.7 883.6v6.4M1135.3 885.5h6.4M1138.5 882.3v6.4M1133.0 893.3h6.4M1136.2 890.1v6.4M1132.2 888.0h6.4M1135.4 884.8v6.4M1132.0 907.0h6.4M1135.2 903.8v6.4M1121.2 887.5h6.4M1124.4 884.3v6.4M1127.4 895.5h6.4M1130.6 892.3v6.4M1130.6 890.5h6.4M1133.8 887.3v6.4M1130.4 906.5h6.4M1133.6 903.3v6.4M1114.9 886.7h6.4M1118.1 883.5v6.4M1137.5 892.3h6.4M1140.7 889.1v6.4M1124.4 892.2h6.4M1127.6 889.0v6.4M1136.2 903.7h6.4M1139.4 900.5v6.4M1121.5 900.8h6.4M1124.7 897.6v6.4M1117.7 895.2h6.4M1120.9 892.0v6.4M1132.7 896.3h6.4M1135.9 893.1v6.4M1127.5 894.9h6.4M1130.7 891.7v6.4M1130.7 885.2h6.4M1133.9 882.0v6.4M1116.0 898.3h6.4M1119.2 895.1v6.4M1125.8 895.4h6.4M1129.0 892.2v6.4M1134.8 895.2h6.4M1138.0 892.0v6.4M1127.6 903.4h6.4M1130.8 900.2v6.4M1122.5 900.9h6.4M1125.7 897.7v6.4M1122.2 907.7h6.4M1125.4 904.5v6.4M1134.3 895.3h6.4M1137.5 892.1v6.4M1131.2 890.3h6.4M1134.4 887.1v6.4M1116.9 892.9h6.4M1120.1 889.7v6.4M1133.3 907.0h6.4M1136.5 903.8v6.4M1122.8 891.1h6.4M1126.0 887.9v6.4M1138.4 907.1h6.4M1141.6 903.9v6.4M1130.7 888.1h6.4M1133.9 884.9v6.4M1133.2 897.8h6.4M1136.4 894.6v6.4M1142.1 887.4h6.4M1145.3 884.2v6.4M1159.7 892.7h6.4M1162.9 889.5v6.4M1152.4 901.9h6.4M1155.6 898.7v6.4M1155.8 894.5h6.4M1159.0 891.3v6.4M1145.6 889.3h6.4M1148.8 886.1v6.4M1147.4 900.9h6.4M1150.6 897.7v6.4M1161.6 892.9h6.4M1164.8 889.7v6.4M1148.8 904.0h6.4M1152.0 900.8v6.4M1160.4 885.1h6.4M1163.6 881.9v6.4M1148.3 889.9h6.4M1151.5 886.7v6.4M1153.4 906.2h6.4M1156.6 903.0v6.4M1152.7 899.3h6.4M1155.9 896.1v6.4M1152.4 891.0h6.4M1155.6 887.8v6.4M1156.5 898.4h6.4M1159.7 895.2v6.4M1140.9 899.0h6.4M1144.1 895.8v6.4M1142.9 902.9h6.4M1146.1 899.7v6.4M1156.3 905.9h6.4M1159.5 902.7v6.4M1154.0 885.2h6.4M1157.2 882.0v6.4M1159.7 901.9h6.4M1162.9 898.7v6.4M1159.1 894.0h6.4M1162.3 890.8v6.4M1153.7 896.6h6.4M1156.9 893.4v6.4M1161.8 899.6h6.4M1165.0 896.4v6.4M1149.5 885.6h6.4M1152.7 882.4v6.4M1142.8 890.6h6.4M1146.0 887.4v6.4M1149.8 905.4h6.4M1153.0 902.2v6.4M1155.7 886.5h6.4M1158.9 883.3v6.4M1162.8 889.4h6.4M1166.0 886.2v6.4M1143.3 893.1h6.4M1146.5 889.9v6.4M1147.2 903.7h6.4M1150.4 900.5v6.4M1156.7 892.3h6.4M1159.9 889.1v6.4M1143.1 895.3h6.4M1146.3 892.1v6.4M1144.6 885.3h6.4M1147.8 882.1v6.4M1159.8 893.9h6.4M1163.0 890.7v6.4M1160.1 901.4h6.4M1163.3 898.2v6.4M1053.1 923.5h6.4M1056.3 920.3v6.4M1062.5 927.3h6.4M1065.7 924.1v6.4M1062.3 918.6h6.4M1065.5 915.4v6.4M1057.9 926.7h6.4M1061.1 923.5v6.4M1058.1 922.1h6.4M1061.3 918.9v6.4M1046.0 926.6h6.4M1049.2 923.4v6.4M1047.8 919.4h6.4M1051.0 916.2v6.4M1047.0 925.0h6.4M1050.2 921.8v6.4M1054.9 926.5h6.4M1058.1 923.3v6.4M1058.5 913.2h6.4M1061.7 910.0v6.4M1049.8 918.2h6.4M1053.0 915.0v6.4M1043.3 909.2h6.4M1046.5 906.0v6.4M1046.2 918.3h6.4M1049.4 915.1v6.4M1064.1 910.5h6.4M1067.3 907.3v6.4M1044.5 917.7h6.4M1047.7 914.5v6.4M1055.5 909.0h6.4M1058.7 905.8v6.4M1055.9 919.5h6.4M1059.1 916.3v6.4M1047.5 913.1h6.4M1050.7 909.9v6.4M1054.1 926.7h6.4M1057.3 923.5v6.4M1058.9 925.9h6.4M1062.1 922.7v6.4M1059.2 909.3h6.4M1062.4 906.1v6.4M1062.1 908.9h6.4M1065.3 905.7v6.4M1046.8 920.3h6.4M1050.0 917.1v6.4M1044.0 926.3h6.4M1047.2 923.1v6.4M1081.5 931.4h6.4M1084.7 928.2v6.4M1086.4 924.6h6.4M1089.6 921.4v6.4M1074.6 915.1h6.4M1077.8 911.9v6.4M1090.0 920.7h6.4M1093.2 917.5v6.4M1090.7 913.3h6.4M1093.9 910.1v6.4M1085.5 929.5h6.4M1088.7 926.3v6.4M1068.2 922.7h6.4M1071.4 919.5v6.4M1080.5 922.3h6.4M1083.7 919.1v6.4M1083.3 913.6h6.4M1086.5 910.4v6.4M1088.4 928.2h6.4M1091.6 925.0v6.4M1068.7 921.5h6.4M1071.9 918.3v6.4M1086.8 929.6h6.4M1090.0 926.4v6.4M1072.8 911.9h6.4M1076.0 908.7v6.4M1083.3 923.7h6.4M1086.5 920.5v6.4M1077.3 929.7h6.4M1080.5 926.5v6.4M1069.4 928.7h6.4M1072.6 925.5v6.4M1090.5 909.5h6.4M1093.7 906.3v6.4M1090.0 930.3h6.4M1093.2 927.1v6.4M1084.9 926.5h6.4M1088.1 923.3v6.4M1088.7 926.6h6.4M1091.9 923.4v6.4M1067.7 927.2h6.4M1070.9 924.0v6.4M1078.1 916.7h6.4M1081.3 913.5v6.4M1071.1 924.3h6.4M1074.3 921.1v6.4M1084.6 931.2h6.4M1087.8 928.0v6.4M1111.8 909.6h6.4M1115.0 906.4v6.4M1092.3 928.2h6.4M1095.5 925.0v6.4M1100.8 912.5h6.4M1104.0 909.3v6.4M1103.2 909.5h6.4M1106.4 906.3v6.4M1099.7 924.0h6.4M1102.9 920.8v6.4M1099.9 916.3h6.4M1103.1 913.1v6.4M1110.3 931.5h6.4M1113.5 928.3v6.4M1110.6 916.2h6.4M1113.8 913.0v6.4M1101.6 929.8h6.4M1104.8 926.6v6.4M1104.8 908.5h6.4M1108.0 905.3v6.4M1098.2 919.0h6.4M1101.4 915.8v6.4M1101.1 927.3h6.4M1104.3 924.1v6.4M1107.8 925.6h6.4M1111.0 922.4v6.4M1104.0 923.6h6.4M1107.2 920.4v6.4M1092.0 916.3h6.4M1095.2 913.1v6.4M1091.5 927.4h6.4M1094.7 924.2v6.4M1092.4 913.6h6.4M1095.6 910.4v6.4M1094.1 914.9h6.4M1097.3 911.7v6.4M1113.4 925.4h6.4M1116.6 922.2v6.4M1106.9 927.4h6.4M1110.1 924.2v6.4M1094.4 913.0h6.4M1097.6 909.8v6.4M1108.8 926.4h6.4M1112.0 923.2v6.4M1106.3 916.7h6.4M1109.5 913.5v6.4M1094.0 922.0h6.4M1097.2 918.8v6.4M1105.9 908.7h6.4M1109.1 905.5v6.4M1113.6 922.8h6.4M1116.8 919.6v6.4M1093.6 919.0h6.4M1096.8 915.8v6.4M1111.3 913.9h6.4M1114.5 910.7v6.4M1107.3 909.2h6.4M1110.5 906.0v6.4M1092.6 916.9h6.4M1095.8 913.7v6.4M1095.1 926.7h6.4M1098.3 923.5v6.4M1102.1 912.4h6.4M1105.3 909.2v6.4M1112.8 925.4h6.4M1116.0 922.2v6.4M1094.7 913.8h6.4M1097.9 910.6v6.4M1113.6 912.2h6.4M1116.8 909.0v6.4M1092.0 917.3h6.4M1095.2 914.1v6.4M1111.8 926.5h6.4M1115.0 923.3v6.4M1090.8 912.2h6.4M1094.0 909.0v6.4M1102.3 921.2h6.4M1105.5 918.0v6.4M1106.5 913.6h6.4M1109.7 910.4v6.4M1130.1 913.2h6.4M1133.3 910.0v6.4M1119.4 912.1h6.4M1122.6 908.9v6.4M1137.8 924.7h6.4M1141.0 921.5v6.4M1123.0 926.3h6.4M1126.2 923.1v6.4M1128.5 919.4h6.4M1131.7 916.2v6.4M1115.7 923.3h6.4M1118.9 920.1v6.4M1121.9 919.0h6.4M1125.1 915.8v6.4M1123.9 913.1h6.4M1127.1 909.9v6.4M1130.7 924.4h6.4M1133.9 921.2v6.4M1132.7 921.6h6.4M1135.9 918.4v6.4M1133.0 911.5h6.4M1136.2 908.3v6.4M1118.3 908.6h6.4M1121.5 905.4v6.4M1135.4 931.0h6.4M1138.6 927.8v6.4M1124.3 911.3h6.4M1127.5 908.1v6.4M1123.4 922.7h6.4M1126.6 919.5v6.4M1126.4 922.3h6.4M1129.6 919.1v6.4M1115.2 923.8h6.4M1118.4 920.6v6.4M1115.2 931.1h6.4M1118.4 927.9v6.4M1133.6 914.8h6.4M1136.8 911.6v6.4M1118.1 930.3h6.4M1121.3 927.1v6.4M1118.7 915.9h6.4M1121.9 912.7v6.4M1119.6 929.4h6.4M1122.8 926.2v6.4M1137.4 923.5h6.4M1140.6 920.3v6.4M1131.0 918.4h6.4M1134.2 915.2v6.4M1127.9 912.9h6.4M1131.1 909.7v6.4M1136.0 928.9h6.4M1139.2 925.7v6.4M1126.2 922.2h6.4M1129.4 919.0v6.4M1125.9 929.1h6.4M1129.1 925.9v6.4M1121.1 909.2h6.4M1124.3 906.0v6.4M1118.9 930.5h6.4M1122.1 927.3v6.4M1130.5 909.0h6.4M1133.7 905.8v6.4M1117.1 912.4h6.4M1120.3 909.2v6.4M1130.8 927.5h6.4M1134.0 924.3v6.4M1131.6 928.9h6.4M1134.8 925.7v6.4M1129.4 921.3h6.4M1132.6 918.1v6.4M1129.2 929.2h6.4M1132.4 926.0v6.4M1125.9 916.0h6.4M1129.1 912.8v6.4M1124.5 917.2h6.4M1127.7 914.0v6.4M1134.2 930.9h6.4M1137.4 927.7v6.4M1137.0 914.8h6.4M1140.2 911.6v6.4M1148.0 928.2h6.4M1151.2 925.0v6.4M1146.6 920.5h6.4M1149.8 917.3v6.4M1146.7 909.4h6.4M1149.9 906.2v6.4M1143.6 929.8h6.4M1146.8 926.6v6.4M1159.7 908.2h6.4M1162.9 905.0v6.4M1151.3 931.3h6.4M1154.5 928.1v6.4M1148.7 913.9h6.4M1151.9 910.7v6.4M1148.5 914.9h6.4M1151.7 911.7v6.4M1162.3 910.5h6.4M1165.5 907.3v6.4M1148.9 924.9h6.4M1152.1 921.7v6.4M1154.3 924.7h6.4M1157.5 921.5v6.4M1149.5 912.4h6.4M1152.7 909.2v6.4M1141.8 910.9h6.4M1145.0 907.7v6.4M1139.5 912.3h6.4M1142.7 909.1v6.4M1155.9 915.6h6.4M1159.1 912.4v6.4M1152.3 913.4h6.4M1155.5 910.2v6.4M1139.0 917.2h6.4M1142.2 914.0v6.4M1146.1 924.3h6.4M1149.3 921.1v6.4M1154.8 921.2h6.4M1158.0 918.0v6.4M1139.2 926.9h6.4M1142.4 923.7v6.4M1155.0 915.0h6.4M1158.2 911.8v6.4M1139.1 926.4h6.4M1142.3 923.2v6.4M1146.0 930.9h6.4M1149.2 927.7v6.4M1149.2 910.9h6.4M1152.4 907.7v6.4M1151.8 909.4h6.4M1155.0 906.2v6.4M1159.2 921.5h6.4M1162.4 918.3v6.4M1153.2 928.5h6.4M1156.4 925.3v6.4M1139.2 929.6h6.4M1142.4 926.4v6.4M1147.1 918.4h6.4M1150.3 915.2v6.4M1146.2 915.4h6.4M1149.4 912.2v6.4M1160.7 921.3h6.4M1163.9 918.1v6.4M1141.3 914.9h6.4M1144.5 911.7v6.4M1142.9 926.2h6.4M1146.1 923.0v6.4M1142.9 928.1h6.4M1146.1 924.9v6.4M1152.6 916.1h6.4M1155.8 912.9v6.4M1158.9 927.7h6.4M1162.1 924.5v6.4M1144.1 920.5h6.4M1147.3 917.3v6.4M1161.6 908.2h6.4M1164.8 905.0v6.4M1043.3 945.1h6.4M1046.5 941.9v6.4M1061.7 944.8h6.4M1064.9 941.6v6.4M1084.8 942.9h6.4M1088.0 939.7v6.4M1068.0 938.6h6.4M1071.2 935.4v6.4M1074.5 936.0h6.4M1077.7 932.8v6.4M1091.7 948.3h6.4M1094.9 945.1v6.4M1095.0 940.6h6.4M1098.2 937.4v6.4M1110.2 934.4h6.4M1113.4 931.2v6.4M1112.0 954.0h6.4M1115.2 950.8v6.4M1093.7 943.3h6.4M1096.9 940.1v6.4M1104.1 952.3h6.4M1107.3 949.1v6.4M1097.9 933.0h6.4M1101.1 929.8v6.4M1102.8 936.4h6.4M1106.0 933.2v6.4M1101.9 949.8h6.4M1105.1 946.6v6.4M1111.3 940.2h6.4M1114.5 937.0v6.4M1098.0 952.2h6.4M1101.2 949.0v6.4M1132.7 949.1h6.4M1135.9 945.9v6.4M1123.9 943.1h6.4M1127.1 939.9v6.4M1131.0 934.2h6.4M1134.2 931.0v6.4M1124.3 946.6h6.4M1127.5 943.4v6.4M1136.3 940.1h6.4M1139.5 936.9v6.4M1138.8 945.1h6.4M1142.0 941.9v6.4M1123.3 934.6h6.4M1126.5 931.4v6.4M1126.9 947.4h6.4M1130.1 944.2v6.4M1129.5 939.6h6.4M1132.7 936.4v6.4M1118.3 954.8h6.4M1121.5 951.6v6.4M1138.7 939.9h6.4M1141.9 936.7v6.4M1129.7 947.3h6.4M1132.9 944.1v6.4M1121.3 938.8h6.4M1124.5 935.6v6.4M1116.5 945.8h6.4M1119.7 942.6v6.4M1118.2 944.9h6.4M1121.4 941.7v6.4M1125.0 936.2h6.4M1128.2 933.0v6.4M1154.8 953.6h6.4M1158.0 950.4v6.4M1153.5 948.5h6.4M1156.7 945.3v6.4M1160.4 938.5h6.4M1163.6 935.3v6.4M1160.0 938.9h6.4M1163.2 935.7v6.4M1151.1 948.3h6.4M1154.3 945.1v6.4M1155.8 953.5h6.4M1159.0 950.3v6.4M1142.1 944.6h6.4M1145.3 941.4v6.4M1154.3 940.6h6.4M1157.5 937.4v6.4M1154.1 953.4h6.4M1157.3 950.2v6.4M1160.7 940.9h6.4M1163.9 937.7v6.4M1160.2 948.7h6.4M1163.4 945.5v6.4M1147.1 933.9h6.4M1150.3 930.7v6.4M1152.7 939.5h6.4M1155.9 936.3v6.4M1161.0 955.7h6.4M1164.2 952.5v6.4M1148.9 946.3h6.4M1152.1 943.1v6.4M1146.7 937.1h6.4M1149.9 933.9v6.4M1151.2 955.0h6.4M1154.4 951.8v6.4M1159.9 949.4h6.4M1163.1 946.2v6.4M1154.4 938.3h6.4M1157.6 935.1v6.4M1158.0 962.1h6.4M1161.2 958.9v6.4M1169.8 873.5h6.4M1173.0 870.3v6.4M1170.6 872.6h6.4M1173.8 869.4v6.4M1173.0 879.1h6.4M1176.2 875.9v6.4M1182.3 867.5h6.4M1185.5 864.3v6.4M1176.0 879.1h6.4M1179.2 875.9v6.4M1179.3 882.0h6.4M1182.5 878.8v6.4M1185.6 877.2h6.4M1188.8 874.0v6.4M1181.6 865.2h6.4M1184.8 862.0v6.4M1172.4 871.9h6.4M1175.6 868.7v6.4M1165.9 872.8h6.4M1169.1 869.6v6.4M1171.8 862.0h6.4M1175.0 858.8v6.4M1184.0 873.2h6.4M1187.2 870.0v6.4M1177.5 865.0h6.4M1180.7 861.8v6.4M1173.6 867.0h6.4M1176.8 863.8v6.4M1205.4 861.8h6.4M1208.6 858.6v6.4M1199.2 880.1h6.4M1202.4 876.9v6.4M1203.3 864.0h6.4M1206.5 860.8v6.4M1196.3 866.9h6.4M1199.5 863.7v6.4M1199.9 869.7h6.4M1203.1 866.5v6.4M1211.5 870.5h6.4M1214.7 867.3v6.4M1224.0 875.1h6.4M1227.2 871.9v6.4M1215.6 863.3h6.4M1218.8 860.1v6.4M1169.3 886.2h6.4M1172.5 883.0v6.4M1172.1 899.9h6.4M1175.3 896.7v6.4M1170.4 899.1h6.4M1173.6 895.9v6.4M1175.6 890.6h6.4M1178.8 887.4v6.4M1178.7 903.1h6.4M1181.9 899.9v6.4M1186.3 896.0h6.4M1189.5 892.8v6.4M1170.2 895.3h6.4M1173.4 892.1v6.4M1182.5 899.7h6.4M1185.7 896.5v6.4M1174.2 885.9h6.4M1177.4 882.7v6.4M1182.0 897.6h6.4M1185.2 894.4v6.4M1169.5 896.6h6.4M1172.7 893.4v6.4M1176.3 887.9h6.4M1179.5 884.7v6.4M1186.7 902.6h6.4M1189.9 899.4v6.4M1169.9 890.2h6.4M1173.1 887.0v6.4M1210.0 894.2h6.4M1213.2 891.0v6.4M1194.5 903.7h6.4M1197.7 900.5v6.4M1190.7 887.6h6.4M1193.9 884.4v6.4M1198.8 885.0h6.4M1202.0 881.8v6.4M1206.3 904.4h6.4M1209.5 901.2v6.4M1201.9 907.8h6.4M1205.1 904.6v6.4M1200.8 891.5h6.4M1204.0 888.3v6.4M1189.2 893.7h6.4M1192.4 890.5v6.4M1195.8 895.1h6.4M1199.0 891.9v6.4M1194.3 898.9h6.4M1197.5 895.7v6.4M1198.8 889.6h6.4M1202.0 886.4v6.4M1221.2 893.7h6.4M1224.4 890.5v6.4M1217.3 897.2h6.4M1220.5 894.0v6.4M1212.0 889.4h6.4M1215.2 886.2v6.4M1172.9 924.3h6.4M1176.1 921.1v6.4M1165.4 926.1h6.4M1168.6 922.9v6.4M1178.8 931.2h6.4M1182.0 928.0v6.4M1174.4 913.5h6.4M1177.6 910.3v6.4M1182.9 913.6h6.4M1186.1 910.4v6.4M1169.0 915.1h6.4M1172.2 911.9v6.4M1180.7 908.1h6.4M1183.9 904.9v6.4M1169.8 925.0h6.4M1173.0 921.8v6.4M1183.2 915.0h6.4M1186.4 911.8v6.4M1178.6 918.6h6.4M1181.8 915.4v6.4M1173.6 916.4h6.4M1176.8 913.2v6.4M1183.0 914.3h6.4M1186.2 911.1v6.4M1177.4 925.7h6.4M1180.6 922.5v6.4M1184.0 920.4h6.4M1187.2 917.2v6.4M1169.7 926.5h6.4M1172.9 923.3v6.4M1163.1 909.2h6.4M1166.3 906.0v6.4M1164.6 915.0h6.4M1167.8 911.8v6.4M1183.3 913.8h6.4M1186.5 910.6v6.4M1185.1 925.3h6.4M1188.3 922.1v6.4M1179.5 931.4h6.4M1182.7 928.2v6.4M1198.7 930.5h6.4M1201.9 927.3v6.4M1189.0 914.5h6.4M1192.2 911.3v6.4M1206.1 923.6h6.4M1209.3 920.4v6.4M1204.4 912.3h6.4M1207.6 909.1v6.4M1199.4 915.6h6.4M1202.6 912.4v6.4M1188.3 926.4h6.4M1191.5 923.2v6.4M1194.1 910.8h6.4M1197.3 907.6v6.4M1200.1 919.3h6.4M1203.3 916.1v6.4M1190.1 924.2h6.4M1193.3 921.0v6.4M1205.4 930.4h6.4M1208.6 927.2v6.4M1201.5 923.6h6.4M1204.7 920.4v6.4M1199.2 913.4h6.4M1202.4 910.2v6.4M1204.6 927.9h6.4M1207.8 924.7v6.4M1192.1 921.4h6.4M1195.3 918.2v6.4M1193.5 931.2h6.4M1196.7 928.0v6.4M1196.3 930.9h6.4M1199.5 927.7v6.4M1232.2 923.6h6.4M1235.4 920.4v6.4M1211.4 908.2h6.4M1214.6 905.0v6.4M1221.6 920.3h6.4M1224.8 917.1v6.4M1229.6 923.6h6.4M1232.8 920.4v6.4M1220.9 910.4h6.4M1224.1 907.2v6.4M1231.7 911.0h6.4M1234.9 907.8v6.4M1213.3 915.1h6.4M1216.5 911.9v6.4M1216.1 931.8h6.4M1219.3 928.6v6.4M1165.8 950.0h6.4M1169.0 946.8v6.4M1176.7 950.0h6.4M1179.9 946.8v6.4M1167.4 955.4h6.4M1170.6 952.2v6.4M1168.4 955.0h6.4M1171.6 951.8v6.4M1185.9 932.1h6.4M1189.1 928.9v6.4M1177.5 945.1h6.4M1180.7 941.9v6.4M1175.4 940.5h6.4M1178.6 937.3v6.4M1171.8 935.7h6.4M1175.0 932.5v6.4M1166.4 951.0h6.4M1169.6 947.8v6.4M1165.0 949.0h6.4M1168.2 945.8v6.4M1172.1 951.1h6.4M1175.3 947.9v6.4M1171.0 955.9h6.4M1174.2 952.7v6.4M1178.3 942.1h6.4M1181.5 938.9v6.4M1164.4 939.9h6.4M1167.6 936.7v6.4M1164.8 952.0h6.4M1168.0 948.8v6.4M1183.9 955.1h6.4M1187.1 951.9v6.4M1209.6 933.8h6.4M1212.8 930.6v6.4M1198.4 933.7h6.4M1201.6 930.5v6.4M1204.0 932.2h6.4M1207.2 929.0v6.4M1190.2 943.4h6.4M1193.4 940.2v6.4M1189.6 932.8h6.4M1192.8 929.6v6.4M1206.4 950.2h6.4M1209.6 947.0v6.4M1187.4 943.8h6.4M1190.6 940.6v6.4M1203.9 948.5h6.4M1207.1 945.3v6.4M1205.3 952.5h6.4M1208.5 949.3v6.4M1202.0 944.3h6.4M1205.2 941.1v6.4M1192.5 932.6h6.4M1195.7 929.4v6.4M1192.4 940.4h6.4M1195.6 937.2v6.4M1187.5 954.7h6.4M1190.7 951.5v6.4M1197.6 935.5h6.4M1200.8 932.3v6.4M1190.8 939.6h6.4M1194.0 936.4v6.4M1193.2 934.5h6.4M1196.4 931.3v6.4M1225.8 938.4h6.4M1229.0 935.2v6.4M1227.4 935.4h6.4M1230.6 932.2v6.4M1233.1 949.2h6.4M1236.3 946.0v6.4M1220.5 943.2h6.4M1223.7 940.0v6.4M1026.5 883.7h6.4M1029.7 880.5v6.4M1027.3 877.9h6.4M1030.5 874.7v6.4M1023.1 880.6h6.4M1026.3 877.4v6.4M1025.0 876.5h6.4M1028.2 873.3v6.4M1021.6 871.5h6.4M1024.8 868.3v6.4M1024.0 868.7h6.4M1027.2 865.5v6.4M1036.0 870.3h6.4M1039.2 867.1v6.4M1021.7 890.9h6.4M1024.9 887.7v6.4M1032.7 908.3h6.4M1035.9 905.1v6.4M1032.9 913.1h6.4M1036.1 909.9v6.4M1031.1 905.0h6.4M1034.3 901.8v6.4M1023.7 909.4h6.4M1026.9 906.2v6.4M1022.7 898.8h6.4M1025.9 895.6v6.4M1041.0 898.4h6.4M1044.2 895.2v6.4M1025.6 900.7h6.4M1028.8 897.5v6.4M1024.9 902.1h6.4M1028.1 898.9v6.4M1020.7 892.4h6.4M1023.9 889.2v6.4M1032.5 897.1h6.4M1035.7 893.9v6.4M1020.2 900.5h6.4M1023.4 897.3v6.4" stroke="#888" stroke-width="1.7" fill="none"/><g fill="#ff0000"><circle cx="1022.8" cy="330.4" r="5.4"/><circle cx="1118.8" cy="310.0" r="5.4"/><circle cx="1137.6" cy="313.7" r="5.4"/><circle cx="1115.0" cy="342.9" r="5.4"/><circle cx="1142.3" cy="380.1" r="5.4"/><circle cx="1027.8" cy="457.5" r="5.4"/><circle cx="1029.0" cy="462.0" r="5.4"/><circle cx="1043.6" cy="455.2" r="5.4"/><circle cx="1030.8" cy="518.8" r="5.4"/><circle cx="1030.8" cy="539.7" r="5.4"/><circle cx="1043.2" cy="561.8" r="5.4"/><circle cx="1033.5" cy="582.5" r="5.4"/><circle cx="1026.7" cy="592.7" r="5.4"/><circle cx="1035.3" cy="600.1" r="5.4"/><circle cx="1038.0" cy="613.6" r="5.4"/><circle cx="1027.8" cy="636.6" r="5.4"/><circle cx="1034.6" cy="636.6" r="5.4"/><circle cx="1166.6" cy="525.1" r="5.4"/><circle cx="1127.6" cy="566.1" r="5.4"/><circle cx="1131.6" cy="588.2" r="5.4"/><circle cx="1132.8" cy="608.5" r="5.4"/><circle cx="1138.4" cy="608.5" r="5.4"/><circle cx="1146.3" cy="631.0" r="5.4"/><circle cx="1141.8" cy="638.9" r="5.4"/><circle cx="1021.1" cy="650.1" r="5.4"/><circle cx="1033.5" cy="654.6" r="5.4"/><circle cx="1045.9" cy="646.8" r="5.4"/><circle cx="1022.2" cy="670.4" r="5.4"/><circle cx="1031.2" cy="674.9" r="5.4"/><circle cx="1043.6" cy="667.0" r="5.4"/><circle cx="1043.6" cy="678.3" r="5.4"/><circle cx="1043.6" cy="689.6" r="5.4"/><circle cx="1002.6" cy="684.6" r="5.4"/><circle cx="1034.6" cy="694.1" r="5.4"/><circle cx="1034.6" cy="712.1" r="5.4"/><circle cx="1031.2" cy="725.6" r="5.4"/><circle cx="1032.4" cy="734.6" r="5.4"/><circle cx="1043.6" cy="730.1" r="5.4"/><circle cx="1022.2" cy="743.7" r="5.4"/><circle cx="1020.0" cy="759.4" r="5.4"/><circle cx="1018.8" cy="762.8" r="5.4"/><circle cx="1038.0" cy="759.4" r="5.4"/><circle cx="1032.4" cy="766.2" r="5.4"/><circle cx="1041.4" cy="766.2" r="5.4"/><circle cx="1039.1" cy="778.6" r="5.4"/><circle cx="1029.0" cy="785.4" r="5.4"/><circle cx="1024.5" cy="803.4" r="5.4"/><circle cx="1045.9" cy="815.8" r="5.4"/><circle cx="1016.6" cy="827.5" r="5.4"/><circle cx="1030.8" cy="844.6" r="5.4"/><circle cx="1039.1" cy="865.4" r="5.4"/><circle cx="1044.7" cy="866.5" r="5.4"/><circle cx="1050.5" cy="647.3" r="5.4"/><circle cx="1061.8" cy="647.3" r="5.4"/><circle cx="1141.8" cy="642.3" r="5.4"/><circle cx="1074.2" cy="662.0" r="5.4"/><circle cx="1049.0" cy="663.0" r="5.4"/><circle cx="1049.0" cy="680.0" r="5.4"/><circle cx="1057.3" cy="682.8" r="5.4"/><circle cx="1058.4" cy="688.5" r="5.4"/><circle cx="1055.0" cy="696.3" r="5.4"/><circle cx="1053.9" cy="705.4" r="5.4"/><circle cx="1053.9" cy="709.9" r="5.4"/><circle cx="1129.4" cy="680.6" r="5.4"/><circle cx="1058.4" cy="723.4" r="5.4"/><circle cx="1074.2" cy="723.4" r="5.4"/><circle cx="1047.1" cy="731.3" r="5.4"/><circle cx="1071.9" cy="738.0" r="5.4"/><circle cx="1071.9" cy="747.0" r="5.4"/><circle cx="1050.5" cy="741.4" r="5.4"/><circle cx="1050.5" cy="750.4" r="5.4"/><circle cx="1068.5" cy="757.2" r="5.4"/><circle cx="1077.5" cy="757.2" r="5.4"/><circle cx="1084.3" cy="757.2" r="5.4"/><circle cx="1156.4" cy="757.7" r="5.4"/><circle cx="1186.8" cy="734.1" r="5.4"/><circle cx="1052.8" cy="763.4" r="5.4"/><circle cx="1062.9" cy="763.4" r="5.4"/><circle cx="1074.2" cy="763.4" r="5.4"/><circle cx="1083.2" cy="762.3" r="5.4"/><circle cx="1060.6" cy="774.6" r="5.4"/><circle cx="1068.5" cy="778.0" r="5.4"/><circle cx="1062.9" cy="785.9" r="5.4"/><circle cx="1070.8" cy="789.3" r="5.4"/><circle cx="1079.8" cy="784.8" r="5.4"/><circle cx="1091.1" cy="787.0" r="5.4"/><circle cx="1099.0" cy="788.2" r="5.4"/><circle cx="1083.2" cy="793.8" r="5.4"/><circle cx="1053.9" cy="797.2" r="5.4"/><circle cx="1062.9" cy="802.8" r="5.4"/><circle cx="1079.8" cy="805.1" r="5.4"/><circle cx="1114.7" cy="787.0" r="5.4"/><circle cx="1133.3" cy="787.0" r="5.4"/><circle cx="1139.5" cy="803.4" r="5.4"/><circle cx="1156.4" cy="762.3" r="5.4"/><circle cx="1096.7" cy="809.6" r="5.4"/><circle cx="1109.1" cy="809.6" r="5.4"/><circle cx="1050.5" cy="816.3" r="5.4"/><circle cx="1060.6" cy="816.3" r="5.4"/><circle cx="1067.4" cy="818.6" r="5.4"/><circle cx="1091.1" cy="822.0" r="5.4"/><circle cx="1100.1" cy="820.8" r="5.4"/><circle cx="1110.2" cy="818.6" r="5.4"/><circle cx="1113.6" cy="825.4" r="5.4"/><circle cx="1119.2" cy="832.1" r="5.4"/><circle cx="1104.6" cy="825.4" r="5.4"/><circle cx="1127.1" cy="816.3" r="5.4"/><circle cx="1137.3" cy="816.3" r="5.4"/><circle cx="1087.7" cy="834.4" r="5.4"/><circle cx="1099.0" cy="835.5" r="5.4"/><circle cx="1071.9" cy="827.6" r="5.4"/><circle cx="1147.4" cy="842.3" r="5.4"/><circle cx="1125.4" cy="846.2" r="5.4"/><circle cx="1164.3" cy="850.7" r="5.4"/><circle cx="1093.3" cy="846.8" r="5.4"/><circle cx="1099.0" cy="850.1" r="5.4"/><circle cx="1091.1" cy="854.6" r="5.4"/><circle cx="1114.7" cy="860.8" r="5.4"/><circle cx="1051.6" cy="841.1" r="5.4"/><circle cx="1061.8" cy="847.9" r="5.4"/><circle cx="1073.0" cy="845.6" r="5.4"/><circle cx="1055.0" cy="853.5" r="5.4"/><circle cx="1066.3" cy="853.5" r="5.4"/><circle cx="1077.5" cy="854.6" r="5.4"/><circle cx="1050.5" cy="864.8" r="5.4"/><circle cx="1060.6" cy="863.7" r="5.4"/><circle cx="1071.9" cy="863.7" r="5.4"/><circle cx="1082.1" cy="863.7" r="5.4"/><circle cx="1051.6" cy="876.1" r="5.4"/><circle cx="1062.9" cy="874.9" r="5.4"/><circle cx="1074.2" cy="874.9" r="5.4"/><circle cx="1084.3" cy="874.9" r="5.4"/><circle cx="1096.7" cy="872.7" r="5.4"/><circle cx="1109.1" cy="872.7" r="5.4"/><circle cx="1126.0" cy="878.3" r="5.4"/><circle cx="1137.3" cy="878.3" r="5.4"/><circle cx="1151.9" cy="874.9" r="5.4"/><circle cx="1197.0" cy="882.0" r="5.4"/><circle cx="1048.0" cy="865.9" r="5.4"/><circle cx="1051.9" cy="877.8" r="5.4"/><circle cx="1059.8" cy="891.6" r="5.4"/><circle cx="1065.7" cy="864.9" r="5.4"/><circle cx="1075.6" cy="864.9" r="5.4"/><circle cx="1083.5" cy="864.9" r="5.4"/><circle cx="1065.7" cy="874.8" r="5.4"/><circle cx="1075.6" cy="875.8" r="5.4"/><circle cx="1085.4" cy="874.8" r="5.4"/><circle cx="1067.7" cy="882.7" r="5.4"/><circle cx="1085.4" cy="884.7" r="5.4"/><circle cx="1085.4" cy="892.5" r="5.4"/><circle cx="1085.4" cy="901.4" r="5.4"/><circle cx="1078.5" cy="907.3" r="5.4"/><circle cx="1090.4" cy="907.3" r="5.4"/><circle cx="1069.7" cy="916.2" r="5.4"/><circle cx="1079.5" cy="917.2" r="5.4"/><circle cx="1090.4" cy="917.2" r="5.4"/><circle cx="1092.3" cy="929.0" r="5.4"/><circle cx="1082.5" cy="934.0" r="5.4"/><circle cx="1048.0" cy="933.0" r="5.4"/><circle cx="1097.3" cy="869.9" r="5.4"/><circle cx="1099.3" cy="880.7" r="5.4"/><circle cx="1101.2" cy="894.5" r="5.4"/><circle cx="1101.2" cy="904.4" r="5.4"/><circle cx="1109.1" cy="872.8" r="5.4"/><circle cx="1115.0" cy="862.0" r="5.4"/><circle cx="1124.9" cy="881.2" r="5.4"/><circle cx="1137.2" cy="880.7" r="5.4"/><circle cx="1137.7" cy="888.6" r="5.4"/><circle cx="1147.6" cy="889.6" r="5.4"/><circle cx="1152.0" cy="874.8" r="5.4"/><circle cx="1162.9" cy="893.5" r="5.4"/><circle cx="1109.1" cy="919.2" r="5.4"/><circle cx="1119.0" cy="915.2" r="5.4"/><circle cx="1124.9" cy="922.1" r="5.4"/><circle cx="1134.8" cy="909.3" r="5.4"/><circle cx="1136.7" cy="917.2" r="5.4"/><circle cx="1136.7" cy="924.1" r="5.4"/><circle cx="1111.1" cy="925.1" r="5.4"/><circle cx="1154.0" cy="912.3" r="5.4"/><circle cx="1163.8" cy="929.0" r="5.4"/><circle cx="1177.9" cy="887.7" r="5.4"/><circle cx="1172.3" cy="920.1" r="5.4"/><circle cx="1180.2" cy="922.5" r="5.4"/><circle cx="1204.0" cy="922.5" r="5.4"/><circle cx="1211.9" cy="924.9" r="5.4"/><circle cx="1214.3" cy="928.8" r="5.4"/><circle cx="1221.4" cy="936.7" r="5.4"/><circle cx="888.0" cy="912.2" r="5.4"/><circle cx="998.2" cy="881.2" r="5.4"/><circle cx="1040.7" cy="657.2" r="5.4"/><circle cx="1045.8" cy="662.3" r="5.4"/><circle cx="1040.7" cy="672.0" r="5.4"/><circle cx="1030.6" cy="721.4" r="5.4"/><circle cx="1030.6" cy="729.9" r="5.4"/><circle cx="1034.0" cy="736.6" r="5.4"/><circle cx="1040.7" cy="729.9" r="5.4"/><circle cx="1048.0" cy="740.0" r="5.4"/><circle cx="1037.0" cy="755.0" r="5.4"/></g><path d="M1177.0 190.0C1176.5 193.3 1175.1 203.7 1174.2 210.0C1173.3 216.3 1172.6 221.8 1171.8 227.6C1171.0 233.4 1170.3 238.6 1169.5 245.0C1168.7 251.4 1167.8 259.3 1167.0 265.8C1166.2 272.3 1165.3 281.0 1165.0 284.0" stroke="#000" stroke-width="3.9" fill="none" stroke-linejoin="round" stroke-linecap="round"/><path d="M1210.9 19.3C1210.0 26.4 1207.6 47.7 1205.3 61.6C1203.0 75.5 1200.1 89.1 1197.0 102.9C1193.9 116.7 1189.7 130.0 1186.7 144.2C1183.7 158.4 1180.6 177.0 1178.8 188.0C1177.0 199.0 1176.8 203.4 1176.0 210.0C1175.2 216.6 1174.5 221.8 1173.8 227.6C1173.0 233.4 1172.3 238.6 1171.5 245.0C1170.7 251.4 1169.6 257.6 1168.7 265.8C1167.8 274.0 1166.9 286.6 1166.0 294.0C1165.1 301.4 1164.4 304.8 1163.5 310.0C1162.6 315.2 1161.9 319.5 1160.4 325.2C1158.9 330.9 1156.7 337.4 1154.7 344.0C1152.7 350.6 1150.2 359.0 1148.2 364.6C1146.2 370.2 1144.8 375.2 1143.0 377.8C1141.2 380.4 1139.8 381.0 1137.6 380.5C1135.4 380.0 1133.1 376.7 1130.0 374.8C1126.9 372.9 1121.9 370.4 1118.8 369.2C1115.7 367.9 1113.3 367.4 1111.3 367.3C1109.3 367.2 1110.5 367.3 1106.8 368.7C1103.1 370.1 1094.6 372.8 1089.0 375.6C1083.4 378.4 1078.2 381.2 1073.3 385.5C1068.4 389.8 1063.4 395.7 1059.4 401.3C1055.5 406.9 1052.0 412.8 1049.6 419.0C1047.1 425.2 1046.0 432.2 1044.7 438.8C1043.4 445.4 1042.5 451.9 1041.7 458.5C1040.9 465.1 1040.2 471.6 1039.7 478.2C1039.2 484.8 1039.0 489.7 1038.7 497.9C1038.4 506.1 1038.0 513.6 1037.8 527.5C1037.5 541.4 1037.2 565.4 1037.2 581.3C1037.2 597.1 1037.2 608.8 1037.5 622.6C1037.8 636.4 1038.5 650.2 1039.0 664.0C1039.5 677.8 1039.8 692.9 1040.6 705.3C1041.4 717.7 1042.3 728.6 1044.0 738.3C1045.7 748.0 1048.4 756.6 1050.5 763.7C1052.6 770.8 1054.5 775.4 1056.5 781.0C1058.5 786.6 1060.5 792.8 1062.7 797.5C1064.9 802.2 1067.2 804.3 1069.6 809.1C1072.0 813.9 1075.0 819.8 1077.2 826.3C1079.4 832.8 1081.0 841.4 1082.6 847.9C1084.2 854.4 1085.1 858.7 1086.9 865.2C1088.7 871.7 1091.2 879.6 1093.4 886.8C1095.6 894.0 1097.8 901.2 1099.9 908.4C1102.1 915.6 1103.8 921.6 1106.3 929.9C1108.8 938.2 1113.2 952.5 1115.0 958.0C1116.8 963.5 1116.8 962.2 1117.1 963.0" stroke="#000" stroke-width="3.9" fill="none" stroke-linejoin="round" stroke-linecap="round"/><path d="M1153.5 346.0C1152.6 346.0 1149.7 346.9 1148.2 345.9C1146.7 344.9 1145.1 344.3 1144.4 340.2C1143.7 336.1 1143.7 326.5 1144.0 321.5C1144.3 316.5 1144.3 313.3 1146.3 310.2C1148.2 307.1 1153.3 305.2 1155.7 302.7C1158.1 300.2 1159.2 298.3 1160.4 295.2C1161.7 292.1 1162.4 289.0 1163.2 284.0C1164.0 279.0 1164.3 271.5 1165.0 265.0C1165.7 258.5 1166.7 251.2 1167.5 245.0C1168.3 238.8 1169.0 233.4 1169.8 227.6C1170.6 221.8 1171.5 215.9 1172.5 210.0C1173.5 204.1 1175.0 195.0 1175.5 192.0" stroke="#000" stroke-width="3.9" fill="none" stroke-linejoin="round" stroke-linecap="round"/><path d="M1177.0 190.0C1176.5 193.3 1175.1 203.7 1174.2 210.0C1173.3 216.3 1172.6 221.8 1171.8 227.6C1171.0 233.4 1170.3 238.6 1169.5 245.0C1168.7 251.4 1167.8 259.3 1167.0 265.8C1166.2 272.3 1165.3 281.0 1165.0 284.0" stroke="#000" stroke-width="7" fill="none" stroke-linejoin="round" stroke-linecap="round"/><ellipse cx="1038.2" cy="499" rx="3.6" ry="7.5" fill="#000"/><ellipse cx="1173.5" cy="219" rx="3.6" ry="7.5" fill="#000"/><rect x="807.0" y="17.8" width="577.7" height="946.8" fill="none" stroke="#000" stroke-width="4"/><line x1="808.5" y1="964.6" x2="808.5" y2="975.2" stroke="#000" stroke-width="2.3" stroke-linecap="round"/><text x="807.0" y="1007.6" text-anchor="middle" textLength="71.3" lengthAdjust="spacingAndGlyphs" >−1.0</text><line x1="904.7" y1="964.6" x2="904.7" y2="975.2" stroke="#000" stroke-width="2.3" stroke-linecap="round"/><text x="903.2" y="1007.6" text-anchor="middle" textLength="71.3" lengthAdjust="spacingAndGlyphs" >−0.5</text><line x1="1000.9" y1="964.6" x2="1000.9" y2="975.2" stroke="#000" stroke-width="2.3" stroke-linecap="round"/><text x="999.4" y="1007.6" text-anchor="middle" textLength="48.2" lengthAdjust="spacingAndGlyphs" >0.0</text><line x1="1097.1" y1="964.6" x2="1097.1" y2="975.2" stroke="#000" stroke-width="2.3" stroke-linecap="round"/><text x="1095.6" y="1007.6" text-anchor="middle" textLength="48.2" lengthAdjust="spacingAndGlyphs" >0.5</text><line x1="1193.3" y1="964.6" x2="1193.3" y2="975.2" stroke="#000" stroke-width="2.3" stroke-linecap="round"/><text x="1191.8" y="1007.6" text-anchor="middle" textLength="48.2" lengthAdjust="spacingAndGlyphs" >1.0</text><line x1="1289.5" y1="964.6" x2="1289.5" y2="975.2" stroke="#000" stroke-width="2.3" stroke-linecap="round"/><text x="1288.0" y="1007.6" text-anchor="middle" textLength="48.2" lengthAdjust="spacingAndGlyphs" >1.5</text><line x1="1385.7" y1="964.6" x2="1385.7" y2="975.2" stroke="#000" stroke-width="2.3" stroke-linecap="round"/><text x="1384.2" y="1007.6" text-anchor="middle" textLength="48.2" lengthAdjust="spacingAndGlyphs" >2.0</text><line x1="798.2" y1="18.7" x2="807.0" y2="18.7" stroke="#000" stroke-width="2.3" stroke-linecap="round"/><text x="790.4" y="28.5" text-anchor="end" textLength="18.6" lengthAdjust="spacingAndGlyphs" >6</text><line x1="798.2" y1="190.9" x2="807.0" y2="190.9" stroke="#000" stroke-width="2.3" stroke-linecap="round"/><text x="790.4" y="200.7" text-anchor="end" textLength="18.6" lengthAdjust="spacingAndGlyphs" >8</text><line x1="798.2" y1="363.1" x2="807.0" y2="363.1" stroke="#000" stroke-width="2.3" stroke-linecap="round"/><text x="787.1" y="372.9" text-anchor="end" textLength="37.8" lengthAdjust="spacingAndGlyphs" >10</text><line x1="798.2" y1="535.2" x2="807.0" y2="535.2" stroke="#000" stroke-width="2.3" stroke-linecap="round"/><text x="787.1" y="545.0" text-anchor="end" textLength="37.8" lengthAdjust="spacingAndGlyphs" >12</text><line x1="798.2" y1="707.4" x2="807.0" y2="707.4" stroke="#000" stroke-width="2.3" stroke-linecap="round"/><text x="787.1" y="717.2" text-anchor="end" textLength="37.8" lengthAdjust="spacingAndGlyphs" >14</text><line x1="798.2" y1="879.6" x2="807.0" y2="879.6" stroke="#000" stroke-width="2.3" stroke-linecap="round"/><text x="787.1" y="889.4" text-anchor="end" textLength="37.8" lengthAdjust="spacingAndGlyphs" >16</text>

<g style="font-style:italic">
<path transform="translate(360,1048.4)" d="M8.6 -20.6L14.3 -20.6L9.6 0.4Q8.4 5.8 2.6 5.8L-0.2 5.8L0.7 1.3L2.4 1.3Q4.1 1.3 4.6 -0.9Z" fill="#000"/>
<rect x="383.8" y="1038.4" width="17.9" height="3.2" fill="#000"/>
<text x="408.5" y="1048.6" style="font-size:31.5px">K</text>
<text x="431.5" y="1052.6" style="font-size:21.5px">s</text>
<path transform="translate(1058.8,1048.6)" d="M8.6 -20.6L14.3 -20.6L9.6 0.4Q8.4 5.8 2.6 5.8L-0.2 5.8L0.7 1.3L2.4 1.3Q4.1 1.3 4.6 -0.9Z" fill="#000"/>
<rect x="1081.4" y="1039" width="18.4" height="3.2" fill="#000"/>
<text x="1108" y="1048.6" style="font-size:31.5px">H</text>
<g transform="translate(30,510) rotate(-90)"><text x="0" y="0" style="font-size:30px">K</text><text x="23" y="4.3" style="font-size:21.5px">s</text></g>
<path transform="translate(722.8,502) rotate(-90)" d="M8.6 -20.6L14.3 -20.6L9.6 0.4Q8.4 5.8 2.6 5.8L-0.2 5.8L0.7 1.3L2.4 1.3Q4.1 1.3 4.6 -0.9Z" fill="#000"/>
</g>

</g>
</svg></div></body></html>
